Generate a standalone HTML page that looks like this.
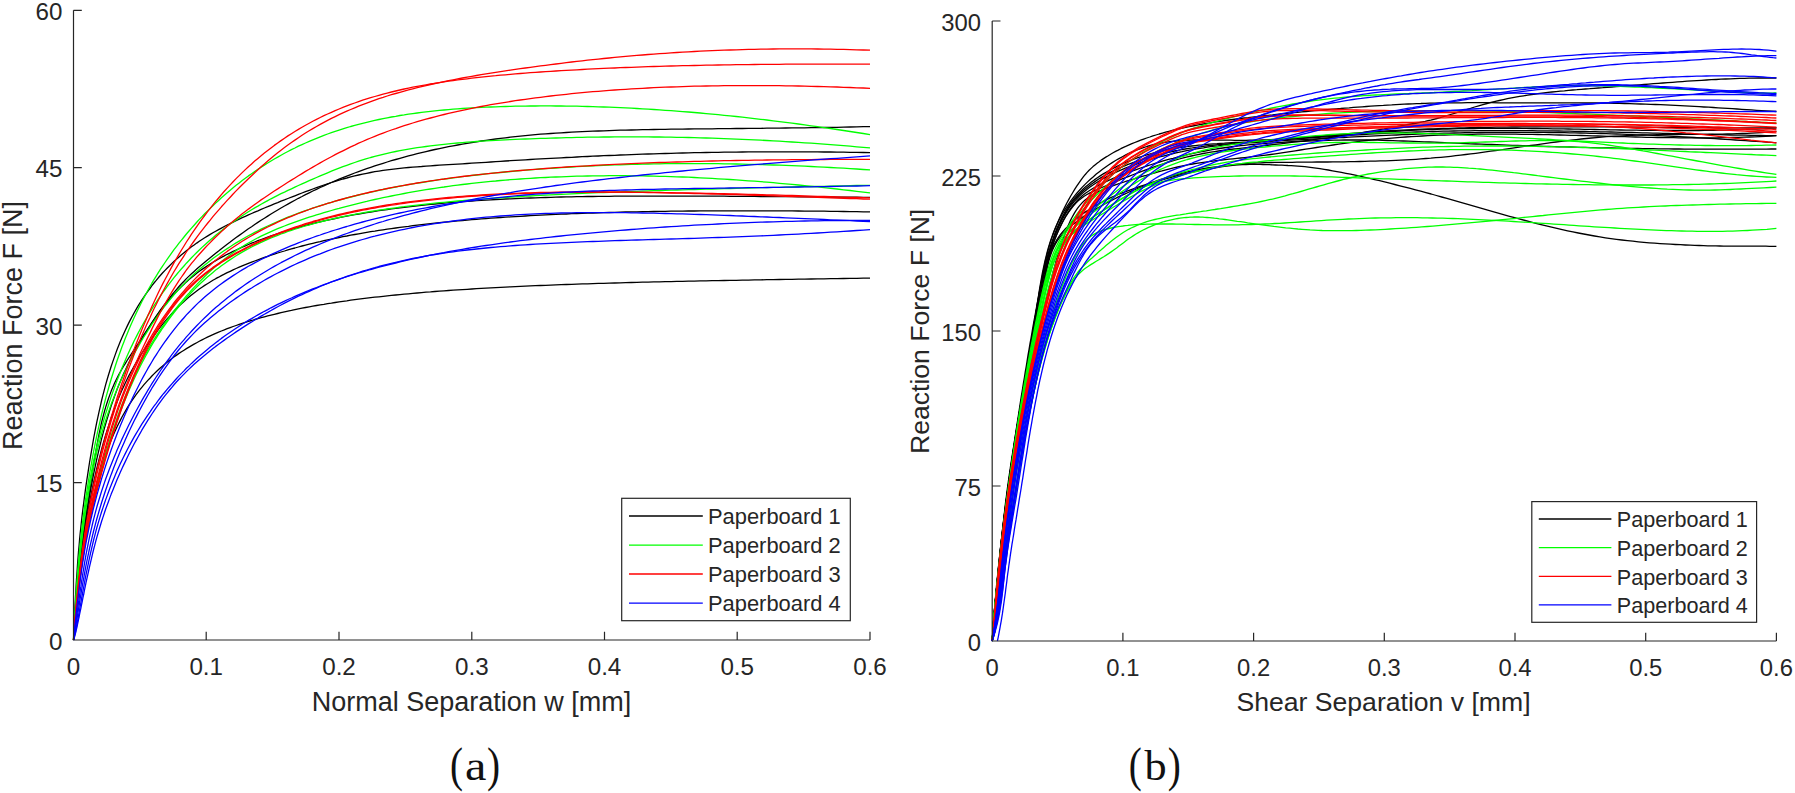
<!DOCTYPE html>
<html><head><meta charset="utf-8"><title>Figure</title>
<style>
html,body{margin:0;padding:0;background:#fff;}
svg{display:block}
text{font-family:"Liberation Sans",sans-serif;fill:#262626}
.tk{font-size:24.2px}
.lb{font-size:27px}
.lg{font-size:21.9px}
.cap{font-family:"Liberation Serif","DejaVu Serif",serif;font-size:43px;fill:#111}
.pn{font-size:49px}
.c{fill:none;stroke-width:1.3;stroke-linejoin:round}
.ax{stroke:#262626;stroke-width:1.2;fill:none}
</style></head><body>
<svg width="1795" height="793" viewBox="0 0 1795 793">
<rect width="1795" height="793" fill="#fff"/>

<clipPath id="cl"><rect x="72.5" y="8.3" width="798.1" height="632.7"/></clipPath>
<g clip-path="url(#cl)">
<path class="c" stroke="#000000" d="M73.5,640.0 L73.5,639.6 L73.6,638.6 L73.6,636.8 L73.7,634.4 L73.8,631.4 L74.0,627.7 L74.2,623.6 L74.4,618.9 L74.6,613.8 L74.9,608.4 L75.2,602.6 L75.5,596.6 L75.9,590.4 L76.2,584.1 L76.6,577.7 L77.1,571.2 L77.5,564.7 L78.0,558.2 L78.5,551.8 L79.1,545.5 L79.6,539.2 L80.2,533.0 L80.9,526.9 L81.5,520.8 L82.2,514.9 L82.9,509.0 L83.7,503.1 L84.4,497.3 L85.2,491.4 L86.0,485.6 L86.9,479.7 L87.8,473.8 L88.7,467.9 L89.6,462.0 L90.6,456.1 L91.6,450.3 L92.6,444.4 L93.6,438.6 L94.7,432.9 L95.8,427.2 L96.9,421.6 L98.1,416.1 L99.3,410.6 L100.5,405.3 L101.7,400.0 L103.0,394.8 L104.3,389.8 L105.6,384.9 L107.0,380.0 L108.4,375.3 L109.8,370.7 L111.2,366.2 L112.7,361.9 L114.2,357.6 L115.7,353.4 L117.2,349.3 L118.8,345.3 L120.4,341.3 L122.0,337.5 L123.7,333.7 L125.4,330.0 L127.1,326.4 L128.8,322.9 L130.6,319.4 L132.4,316.0 L134.2,312.7 L136.1,309.4 L138.0,306.2 L139.9,303.1 L141.8,300.1 L143.8,297.1 L145.8,294.1 L147.8,291.3 L149.9,288.5 L151.9,285.7 L154.0,283.0 L156.2,280.4 L158.3,277.8 L160.5,275.3 L162.7,272.8 L165.0,270.4 L167.3,268.0 L169.6,265.7 L171.9,263.4 L174.2,261.2 L176.6,259.0 L179.0,256.9 L181.5,254.8 L184.0,252.7 L186.4,250.7 L189.0,248.8 L191.5,246.8 L194.1,245.0 L196.7,243.1 L199.3,241.3 L202.0,239.5 L204.7,237.8 L207.4,236.1 L210.2,234.4 L212.9,232.8 L215.7,231.2 L218.6,229.6 L221.4,228.1 L224.3,226.5 L227.2,225.0 L230.2,223.5 L233.1,222.1 L236.1,220.6 L239.2,219.2 L242.2,217.7 L245.3,216.3 L248.4,214.9 L251.6,213.5 L254.7,212.1 L257.9,210.8 L261.1,209.4 L264.4,208.0 L267.7,206.7 L271.0,205.3 L274.3,203.9 L277.7,202.6 L281.0,201.2 L284.5,199.9 L287.9,198.5 L291.4,197.2 L294.9,195.8 L298.4,194.4 L302.0,193.0 L305.5,191.7 L309.2,190.3 L312.8,189.0 L316.5,187.6 L320.2,186.3 L323.9,185.0 L327.6,183.8 L331.4,182.5 L335.2,181.3 L339.1,180.2 L342.9,179.0 L346.8,178.0 L350.7,176.9 L354.7,175.9 L358.6,175.0 L362.6,174.1 L366.7,173.3 L370.7,172.5 L374.8,171.7 L378.9,171.1 L383.1,170.4 L387.2,169.9 L391.4,169.3 L395.7,168.8 L399.9,168.4 L404.2,167.9 L408.5,167.5 L412.8,167.2 L417.2,166.8 L421.6,166.5 L426.0,166.1 L430.5,165.8 L434.9,165.5 L439.4,165.2 L444.0,164.9 L448.5,164.6 L453.1,164.4 L457.7,164.1 L462.4,163.8 L467.1,163.5 L471.8,163.2 L476.5,162.9 L481.2,162.6 L486.0,162.3 L490.8,162.0 L495.7,161.7 L500.5,161.4 L505.4,161.0 L510.4,160.7 L515.3,160.4 L520.3,160.1 L525.3,159.8 L530.3,159.5 L535.4,159.2 L540.5,158.9 L545.6,158.7 L550.7,158.4 L555.9,158.1 L561.1,157.8 L566.3,157.5 L571.6,157.3 L576.9,157.0 L582.2,156.7 L587.5,156.5 L592.9,156.2 L598.3,156.0 L603.7,155.7 L609.2,155.5 L614.7,155.3 L620.2,155.0 L625.7,154.8 L631.3,154.6 L636.9,154.4 L642.5,154.2 L648.1,154.0 L653.8,153.8 L659.5,153.6 L665.2,153.5 L671.0,153.3 L676.8,153.2 L682.6,153.0 L688.4,152.9 L694.3,152.7 L700.2,152.6 L706.1,152.5 L712.1,152.4 L718.1,152.3 L724.1,152.2 L730.1,152.1 L736.2,152.1 L742.3,152.0 L748.4,151.9 L754.5,151.9 L760.7,151.9 L766.9,151.8 L773.2,151.8 L779.4,151.8 L785.7,151.8 L792.0,151.8 L798.4,151.8 L804.7,151.8 L811.1,151.9 L817.6,151.9 L824.0,152.0 L830.5,152.0 L837.0,152.1 L843.6,152.2 L850.1,152.3 L856.7,152.4 L863.3,152.5 L870.0,152.6"/>
<path class="c" stroke="#000000" d="M73.5,640.0 L73.5,639.7 L73.6,639.0 L73.6,637.7 L73.7,636.0 L73.8,633.8 L74.0,631.1 L74.2,628.1 L74.4,624.7 L74.6,621.0 L74.9,617.0 L75.2,612.7 L75.5,608.3 L75.9,603.6 L76.2,598.9 L76.6,594.0 L77.1,589.0 L77.5,584.0 L78.0,578.9 L78.5,573.8 L79.1,568.7 L79.6,563.5 L80.2,558.4 L80.9,553.2 L81.5,548.0 L82.2,542.8 L82.9,537.5 L83.7,532.1 L84.4,526.7 L85.2,521.2 L86.0,515.6 L86.9,509.9 L87.8,504.0 L88.7,498.0 L89.6,491.7 L90.6,485.3 L91.6,478.7 L92.6,472.0 L93.6,465.2 L94.7,458.4 L95.8,451.7 L96.9,445.3 L98.1,439.0 L99.3,433.0 L100.5,427.4 L101.7,422.0 L103.0,416.9 L104.3,412.0 L105.6,407.4 L107.0,403.0 L108.4,398.8 L109.8,394.9 L111.2,391.1 L112.7,387.5 L114.2,384.1 L115.7,380.8 L117.2,377.7 L118.8,374.6 L120.4,371.7 L122.0,368.8 L123.7,366.0 L125.4,363.3 L127.1,360.5 L128.8,357.8 L130.6,355.1 L132.4,352.3 L134.2,349.6 L136.1,346.7 L138.0,343.9 L139.9,340.9 L141.8,338.0 L143.8,334.9 L145.8,331.9 L147.8,328.8 L149.9,325.6 L151.9,322.5 L154.0,319.4 L156.2,316.2 L158.3,313.1 L160.5,310.0 L162.7,307.0 L165.0,303.9 L167.3,300.9 L169.6,297.9 L171.9,295.0 L174.2,292.1 L176.6,289.3 L179.0,286.5 L181.5,283.8 L184.0,281.2 L186.4,278.6 L189.0,276.1 L191.5,273.7 L194.1,271.4 L196.7,269.1 L199.3,266.8 L202.0,264.6 L204.7,262.3 L207.4,260.1 L210.2,257.8 L212.9,255.6 L215.7,253.3 L218.6,251.1 L221.4,248.8 L224.3,246.6 L227.2,244.3 L230.2,242.1 L233.1,239.8 L236.1,237.6 L239.2,235.4 L242.2,233.2 L245.3,231.0 L248.4,228.8 L251.6,226.7 L254.7,224.5 L257.9,222.4 L261.1,220.3 L264.4,218.2 L267.7,216.1 L271.0,214.0 L274.3,212.0 L277.7,210.0 L281.0,208.0 L284.5,206.0 L287.9,204.1 L291.4,202.1 L294.9,200.2 L298.4,198.3 L302.0,196.5 L305.5,194.6 L309.2,192.8 L312.8,191.0 L316.5,189.3 L320.2,187.5 L323.9,185.8 L327.6,184.1 L331.4,182.5 L335.2,180.8 L339.1,179.2 L342.9,177.6 L346.8,176.1 L350.7,174.6 L354.7,173.0 L358.6,171.6 L362.6,170.1 L366.7,168.7 L370.7,167.3 L374.8,165.9 L378.9,164.6 L383.1,163.3 L387.2,162.0 L391.4,160.7 L395.7,159.5 L399.9,158.3 L404.2,157.1 L408.5,155.9 L412.8,154.8 L417.2,153.7 L421.6,152.6 L426.0,151.6 L430.5,150.5 L434.9,149.5 L439.4,148.6 L444.0,147.6 L448.5,146.7 L453.1,145.8 L457.7,145.0 L462.4,144.1 L467.1,143.3 L471.8,142.5 L476.5,141.8 L481.2,141.0 L486.0,140.3 L490.8,139.6 L495.7,139.0 L500.5,138.4 L505.4,137.8 L510.4,137.2 L515.3,136.6 L520.3,136.1 L525.3,135.6 L530.3,135.1 L535.4,134.7 L540.5,134.2 L545.6,133.8 L550.7,133.5 L555.9,133.1 L561.1,132.8 L566.3,132.5 L571.6,132.2 L576.9,131.9 L582.2,131.6 L587.5,131.4 L592.9,131.2 L598.3,131.0 L603.7,130.8 L609.2,130.6 L614.7,130.4 L620.2,130.2 L625.7,130.1 L631.3,130.0 L636.9,129.8 L642.5,129.7 L648.1,129.6 L653.8,129.5 L659.5,129.4 L665.2,129.3 L671.0,129.2 L676.8,129.2 L682.6,129.1 L688.4,129.0 L694.3,128.9 L700.2,128.9 L706.1,128.8 L712.1,128.8 L718.1,128.7 L724.1,128.6 L730.1,128.6 L736.2,128.5 L742.3,128.5 L748.4,128.4 L754.5,128.3 L760.7,128.3 L766.9,128.2 L773.2,128.2 L779.4,128.1 L785.7,128.0 L792.0,127.9 L798.4,127.8 L804.7,127.8 L811.1,127.7 L817.6,127.6 L824.0,127.5 L830.5,127.4 L837.0,127.3 L843.6,127.1 L850.1,127.0 L856.7,126.9 L863.3,126.7 L870.0,126.6"/>
<path class="c" stroke="#000000" d="M73.5,640.0 L73.5,639.8 L73.6,639.1 L73.6,638.0 L73.7,636.4 L73.8,634.4 L74.0,632.0 L74.2,629.2 L74.4,626.1 L74.6,622.6 L74.9,618.9 L75.2,614.8 L75.5,610.5 L75.9,606.0 L76.2,601.3 L76.6,596.5 L77.1,591.5 L77.5,586.3 L78.0,581.1 L78.5,575.8 L79.1,570.5 L79.6,565.1 L80.2,559.7 L80.9,554.3 L81.5,548.8 L82.2,543.4 L82.9,538.0 L83.7,532.6 L84.4,527.2 L85.2,521.8 L86.0,516.4 L86.9,511.1 L87.8,505.7 L88.7,500.4 L89.6,495.1 L90.6,489.9 L91.6,484.6 L92.6,479.3 L93.6,474.1 L94.7,468.9 L95.8,463.7 L96.9,458.5 L98.1,453.4 L99.3,448.4 L100.5,443.4 L101.7,438.4 L103.0,433.6 L104.3,428.7 L105.6,424.0 L107.0,419.4 L108.4,414.8 L109.8,410.3 L111.2,405.9 L112.7,401.5 L114.2,397.3 L115.7,393.1 L117.2,389.1 L118.8,385.1 L120.4,381.2 L122.0,377.4 L123.7,373.6 L125.4,370.0 L127.1,366.4 L128.8,362.8 L130.6,359.3 L132.4,355.8 L134.2,352.4 L136.1,349.0 L138.0,345.7 L139.9,342.3 L141.8,339.0 L143.8,335.7 L145.8,332.5 L147.8,329.3 L149.9,326.1 L151.9,322.9 L154.0,319.8 L156.2,316.7 L158.3,313.7 L160.5,310.7 L162.7,307.8 L165.0,305.0 L167.3,302.1 L169.6,299.4 L171.9,296.7 L174.2,294.1 L176.6,291.5 L179.0,289.0 L181.5,286.5 L184.0,284.2 L186.4,281.9 L189.0,279.6 L191.5,277.5 L194.1,275.4 L196.7,273.3 L199.3,271.3 L202.0,269.4 L204.7,267.6 L207.4,265.8 L210.2,264.0 L212.9,262.3 L215.7,260.6 L218.6,259.0 L221.4,257.4 L224.3,255.9 L227.2,254.3 L230.2,252.9 L233.1,251.4 L236.1,250.0 L239.2,248.6 L242.2,247.2 L245.3,245.9 L248.4,244.5 L251.6,243.2 L254.7,242.0 L257.9,240.7 L261.1,239.5 L264.4,238.3 L267.7,237.1 L271.0,235.9 L274.3,234.8 L277.7,233.7 L281.0,232.6 L284.5,231.5 L287.9,230.4 L291.4,229.4 L294.9,228.4 L298.4,227.4 L302.0,226.4 L305.5,225.4 L309.2,224.5 L312.8,223.6 L316.5,222.7 L320.2,221.8 L323.9,220.9 L327.6,220.1 L331.4,219.3 L335.2,218.5 L339.1,217.7 L342.9,216.9 L346.8,216.1 L350.7,215.4 L354.7,214.7 L358.6,214.0 L362.6,213.3 L366.7,212.6 L370.7,212.0 L374.8,211.3 L378.9,210.7 L383.1,210.1 L387.2,209.5 L391.4,208.9 L395.7,208.4 L399.9,207.8 L404.2,207.3 L408.5,206.8 L412.8,206.3 L417.2,205.8 L421.6,205.3 L426.0,204.8 L430.5,204.4 L434.9,204.0 L439.4,203.5 L444.0,203.1 L448.5,202.7 L453.1,202.4 L457.7,202.0 L462.4,201.6 L467.1,201.3 L471.8,201.0 L476.5,200.7 L481.2,200.4 L486.0,200.1 L490.8,199.8 L495.7,199.5 L500.5,199.3 L505.4,199.0 L510.4,198.8 L515.3,198.6 L520.3,198.3 L525.3,198.1 L530.3,198.0 L535.4,197.8 L540.5,197.6 L545.6,197.5 L550.7,197.3 L555.9,197.2 L561.1,197.0 L566.3,196.9 L571.6,196.8 L576.9,196.7 L582.2,196.6 L587.5,196.5 L592.9,196.5 L598.3,196.4 L603.7,196.3 L609.2,196.3 L614.7,196.2 L620.2,196.2 L625.7,196.2 L631.3,196.1 L636.9,196.1 L642.5,196.1 L648.1,196.1 L653.8,196.1 L659.5,196.1 L665.2,196.1 L671.0,196.1 L676.8,196.1 L682.6,196.1 L688.4,196.1 L694.3,196.1 L700.2,196.1 L706.1,196.2 L712.1,196.2 L718.1,196.2 L724.1,196.2 L730.1,196.3 L736.2,196.3 L742.3,196.4 L748.4,196.4 L754.5,196.4 L760.7,196.5 L766.9,196.5 L773.2,196.6 L779.4,196.6 L785.7,196.7 L792.0,196.7 L798.4,196.8 L804.7,196.8 L811.1,196.9 L817.6,196.9 L824.0,197.0 L830.5,197.0 L837.0,197.1 L843.6,197.1 L850.1,197.2 L856.7,197.2 L863.3,197.3 L870.0,197.4"/>
<path class="c" stroke="#000000" d="M73.5,640.0 L73.5,639.8 L73.6,639.1 L73.6,638.0 L73.7,636.4 L73.8,634.5 L74.0,632.1 L74.2,629.4 L74.4,626.3 L74.6,622.9 L74.9,619.3 L75.2,615.3 L75.5,611.1 L75.9,606.8 L76.2,602.2 L76.6,597.5 L77.1,592.7 L77.5,587.7 L78.0,582.7 L78.5,577.7 L79.1,572.6 L79.6,567.5 L80.2,562.3 L80.9,557.2 L81.5,552.1 L82.2,547.0 L82.9,541.9 L83.7,536.8 L84.4,531.7 L85.2,526.7 L86.0,521.7 L86.9,516.8 L87.8,511.8 L88.7,506.9 L89.6,502.0 L90.6,497.1 L91.6,492.2 L92.6,487.3 L93.6,482.4 L94.7,477.6 L95.8,472.7 L96.9,467.9 L98.1,463.1 L99.3,458.3 L100.5,453.6 L101.7,448.9 L103.0,444.3 L104.3,439.7 L105.6,435.2 L107.0,430.8 L108.4,426.4 L109.8,422.1 L111.2,417.8 L112.7,413.6 L114.2,409.5 L115.7,405.5 L117.2,401.5 L118.8,397.6 L120.4,393.8 L122.0,390.1 L123.7,386.4 L125.4,382.8 L127.1,379.3 L128.8,375.9 L130.6,372.5 L132.4,369.2 L134.2,366.0 L136.1,362.7 L138.0,359.6 L139.9,356.4 L141.8,353.4 L143.8,350.3 L145.8,347.3 L147.8,344.3 L149.9,341.3 L151.9,338.4 L154.0,335.5 L156.2,332.6 L158.3,329.7 L160.5,326.9 L162.7,324.1 L165.0,321.4 L167.3,318.7 L169.6,316.1 L171.9,313.5 L174.2,311.0 L176.6,308.5 L179.0,306.1 L181.5,303.7 L184.0,301.4 L186.4,299.2 L189.0,297.1 L191.5,295.0 L194.1,292.9 L196.7,291.0 L199.3,289.1 L202.0,287.2 L204.7,285.4 L207.4,283.7 L210.2,282.0 L212.9,280.3 L215.7,278.7 L218.6,277.2 L221.4,275.6 L224.3,274.2 L227.2,272.7 L230.2,271.3 L233.1,269.9 L236.1,268.5 L239.2,267.2 L242.2,265.9 L245.3,264.6 L248.4,263.4 L251.6,262.2 L254.7,261.0 L257.9,259.8 L261.1,258.6 L264.4,257.4 L267.7,256.3 L271.0,255.2 L274.3,254.1 L277.7,253.0 L281.0,252.0 L284.5,251.0 L287.9,249.9 L291.4,248.9 L294.9,248.0 L298.4,247.0 L302.0,246.0 L305.5,245.1 L309.2,244.2 L312.8,243.3 L316.5,242.4 L320.2,241.6 L323.9,240.7 L327.6,239.9 L331.4,239.1 L335.2,238.3 L339.1,237.5 L342.9,236.7 L346.8,236.0 L350.7,235.2 L354.7,234.5 L358.6,233.8 L362.6,233.1 L366.7,232.4 L370.7,231.7 L374.8,231.1 L378.9,230.4 L383.1,229.8 L387.2,229.2 L391.4,228.6 L395.7,228.0 L399.9,227.4 L404.2,226.8 L408.5,226.3 L412.8,225.7 L417.2,225.2 L421.6,224.7 L426.0,224.2 L430.5,223.7 L434.9,223.2 L439.4,222.7 L444.0,222.2 L448.5,221.8 L453.1,221.4 L457.7,220.9 L462.4,220.5 L467.1,220.1 L471.8,219.7 L476.5,219.3 L481.2,218.9 L486.0,218.6 L490.8,218.2 L495.7,217.9 L500.5,217.5 L505.4,217.2 L510.4,216.9 L515.3,216.6 L520.3,216.3 L525.3,216.0 L530.3,215.7 L535.4,215.4 L540.5,215.1 L545.6,214.9 L550.7,214.6 L555.9,214.4 L561.1,214.2 L566.3,214.0 L571.6,213.7 L576.9,213.5 L582.2,213.3 L587.5,213.1 L592.9,213.0 L598.3,212.8 L603.7,212.6 L609.2,212.5 L614.7,212.3 L620.2,212.2 L625.7,212.0 L631.3,211.9 L636.9,211.8 L642.5,211.7 L648.1,211.6 L653.8,211.5 L659.5,211.4 L665.2,211.3 L671.0,211.2 L676.8,211.1 L682.6,211.1 L688.4,211.0 L694.3,211.0 L700.2,210.9 L706.1,210.9 L712.1,210.8 L718.1,210.8 L724.1,210.8 L730.1,210.8 L736.2,210.8 L742.3,210.8 L748.4,210.8 L754.5,210.8 L760.7,210.8 L766.9,210.8 L773.2,210.8 L779.4,210.9 L785.7,210.9 L792.0,210.9 L798.4,211.0 L804.7,211.1 L811.1,211.1 L817.6,211.2 L824.0,211.2 L830.5,211.3 L837.0,211.4 L843.6,211.5 L850.1,211.6 L856.7,211.7 L863.3,211.8 L870.0,211.9"/>
<path class="c" stroke="#000000" d="M73.5,640.0 L73.5,639.8 L73.6,639.3 L73.6,638.5 L73.7,637.3 L73.8,635.8 L74.0,634.0 L74.2,631.8 L74.4,629.4 L74.6,626.7 L74.9,623.8 L75.2,620.6 L75.5,617.2 L75.9,613.5 L76.2,609.7 L76.6,605.6 L77.1,601.5 L77.5,597.1 L78.0,592.7 L78.5,588.1 L79.1,583.4 L79.6,578.7 L80.2,573.9 L80.9,569.0 L81.5,564.1 L82.2,559.2 L82.9,554.2 L83.7,549.3 L84.4,544.3 L85.2,539.4 L86.0,534.4 L86.9,529.5 L87.8,524.7 L88.7,519.8 L89.6,515.0 L90.6,510.3 L91.6,505.6 L92.6,501.0 L93.6,496.5 L94.7,492.0 L95.8,487.5 L96.9,483.2 L98.1,478.9 L99.3,474.7 L100.5,470.5 L101.7,466.4 L103.0,462.4 L104.3,458.5 L105.6,454.7 L107.0,450.9 L108.4,447.2 L109.8,443.6 L111.2,440.0 L112.7,436.5 L114.2,433.1 L115.7,429.7 L117.2,426.5 L118.8,423.3 L120.4,420.1 L122.0,417.0 L123.7,414.0 L125.4,411.1 L127.1,408.2 L128.8,405.4 L130.6,402.6 L132.4,399.9 L134.2,397.3 L136.1,394.7 L138.0,392.2 L139.9,389.7 L141.8,387.3 L143.8,384.9 L145.8,382.6 L147.8,380.4 L149.9,378.2 L151.9,376.0 L154.0,373.9 L156.2,371.8 L158.3,369.8 L160.5,367.8 L162.7,365.9 L165.0,364.0 L167.3,362.1 L169.6,360.3 L171.9,358.5 L174.2,356.8 L176.6,355.1 L179.0,353.4 L181.5,351.8 L184.0,350.2 L186.4,348.6 L189.0,347.1 L191.5,345.6 L194.1,344.1 L196.7,342.7 L199.3,341.3 L202.0,339.9 L204.7,338.5 L207.4,337.2 L210.2,335.9 L212.9,334.7 L215.7,333.4 L218.6,332.2 L221.4,331.0 L224.3,329.9 L227.2,328.7 L230.2,327.6 L233.1,326.5 L236.1,325.5 L239.2,324.4 L242.2,323.4 L245.3,322.4 L248.4,321.4 L251.6,320.5 L254.7,319.5 L257.9,318.6 L261.1,317.7 L264.4,316.8 L267.7,315.9 L271.0,315.1 L274.3,314.3 L277.7,313.5 L281.0,312.7 L284.5,311.9 L287.9,311.1 L291.4,310.4 L294.9,309.6 L298.4,308.9 L302.0,308.2 L305.5,307.5 L309.2,306.8 L312.8,306.2 L316.5,305.5 L320.2,304.9 L323.9,304.3 L327.6,303.6 L331.4,303.1 L335.2,302.5 L339.1,301.9 L342.9,301.3 L346.8,300.8 L350.7,300.2 L354.7,299.7 L358.6,299.2 L362.6,298.7 L366.7,298.2 L370.7,297.7 L374.8,297.2 L378.9,296.8 L383.1,296.3 L387.2,295.9 L391.4,295.4 L395.7,295.0 L399.9,294.6 L404.2,294.2 L408.5,293.8 L412.8,293.4 L417.2,293.0 L421.6,292.6 L426.0,292.2 L430.5,291.9 L434.9,291.5 L439.4,291.2 L444.0,290.8 L448.5,290.5 L453.1,290.2 L457.7,289.9 L462.4,289.6 L467.1,289.3 L471.8,289.0 L476.5,288.7 L481.2,288.4 L486.0,288.1 L490.8,287.9 L495.7,287.6 L500.5,287.3 L505.4,287.1 L510.4,286.8 L515.3,286.6 L520.3,286.4 L525.3,286.1 L530.3,285.9 L535.4,285.7 L540.5,285.5 L545.6,285.3 L550.7,285.1 L555.9,284.9 L561.1,284.7 L566.3,284.5 L571.6,284.3 L576.9,284.1 L582.2,283.9 L587.5,283.8 L592.9,283.6 L598.3,283.4 L603.7,283.3 L609.2,283.1 L614.7,283.0 L620.2,282.8 L625.7,282.7 L631.3,282.5 L636.9,282.4 L642.5,282.2 L648.1,282.1 L653.8,281.9 L659.5,281.8 L665.2,281.7 L671.0,281.6 L676.8,281.4 L682.6,281.3 L688.4,281.2 L694.3,281.1 L700.2,280.9 L706.1,280.8 L712.1,280.7 L718.1,280.6 L724.1,280.5 L730.1,280.4 L736.2,280.3 L742.3,280.2 L748.4,280.1 L754.5,279.9 L760.7,279.8 L766.9,279.7 L773.2,279.6 L779.4,279.5 L785.7,279.4 L792.0,279.3 L798.4,279.2 L804.7,279.1 L811.1,279.0 L817.6,278.9 L824.0,278.8 L830.5,278.7 L837.0,278.6 L843.6,278.5 L850.1,278.4 L856.7,278.3 L863.3,278.2 L870.0,278.1"/>
<path class="c" stroke="#00ff00" d="M73.5,640.0 L73.5,639.7 L73.6,638.8 L73.6,637.3 L73.7,635.3 L73.8,632.7 L74.0,629.7 L74.2,626.1 L74.4,622.1 L74.6,617.7 L74.9,613.0 L75.2,608.0 L75.5,602.7 L75.9,597.1 L76.2,591.4 L76.6,585.6 L77.1,579.6 L77.5,573.6 L78.0,567.5 L78.5,561.4 L79.1,555.3 L79.6,549.3 L80.2,543.2 L80.9,537.2 L81.5,531.2 L82.2,525.3 L82.9,519.5 L83.7,513.6 L84.4,507.9 L85.2,502.1 L86.0,496.4 L86.9,490.8 L87.8,485.1 L88.7,479.4 L89.6,473.8 L90.6,468.2 L91.6,462.6 L92.6,457.0 L93.6,451.5 L94.7,446.0 L95.8,440.5 L96.9,435.1 L98.1,429.7 L99.3,424.4 L100.5,419.1 L101.7,413.9 L103.0,408.8 L104.3,403.6 L105.6,398.6 L107.0,393.6 L108.4,388.7 L109.8,383.8 L111.2,379.0 L112.7,374.2 L114.2,369.5 L115.7,364.8 L117.2,360.3 L118.8,355.7 L120.4,351.2 L122.0,346.8 L123.7,342.5 L125.4,338.1 L127.1,333.9 L128.8,329.7 L130.6,325.5 L132.4,321.4 L134.2,317.4 L136.1,313.4 L138.0,309.5 L139.9,305.6 L141.8,301.7 L143.8,297.9 L145.8,294.2 L147.8,290.5 L149.9,286.8 L151.9,283.2 L154.0,279.7 L156.2,276.1 L158.3,272.7 L160.5,269.2 L162.7,265.8 L165.0,262.5 L167.3,259.2 L169.6,255.9 L171.9,252.6 L174.2,249.4 L176.6,246.3 L179.0,243.2 L181.5,240.1 L184.0,237.0 L186.4,234.0 L189.0,231.0 L191.5,228.1 L194.1,225.2 L196.7,222.3 L199.3,219.4 L202.0,216.6 L204.7,213.8 L207.4,211.1 L210.2,208.4 L212.9,205.7 L215.7,203.0 L218.6,200.4 L221.4,197.8 L224.3,195.2 L227.2,192.7 L230.2,190.2 L233.1,187.7 L236.1,185.3 L239.2,182.9 L242.2,180.5 L245.3,178.2 L248.4,175.9 L251.6,173.7 L254.7,171.5 L257.9,169.3 L261.1,167.2 L264.4,165.1 L267.7,163.0 L271.0,161.0 L274.3,159.0 L277.7,157.1 L281.0,155.2 L284.5,153.3 L287.9,151.5 L291.4,149.7 L294.9,148.0 L298.4,146.2 L302.0,144.6 L305.5,143.0 L309.2,141.4 L312.8,139.8 L316.5,138.3 L320.2,136.8 L323.9,135.4 L327.6,134.0 L331.4,132.7 L335.2,131.4 L339.1,130.1 L342.9,128.9 L346.8,127.7 L350.7,126.5 L354.7,125.4 L358.6,124.3 L362.6,123.3 L366.7,122.3 L370.7,121.3 L374.8,120.4 L378.9,119.5 L383.1,118.6 L387.2,117.8 L391.4,117.0 L395.7,116.3 L399.9,115.5 L404.2,114.9 L408.5,114.2 L412.8,113.6 L417.2,113.0 L421.6,112.4 L426.0,111.9 L430.5,111.4 L434.9,110.9 L439.4,110.4 L444.0,110.0 L448.5,109.6 L453.1,109.2 L457.7,108.8 L462.4,108.5 L467.1,108.2 L471.8,107.9 L476.5,107.6 L481.2,107.4 L486.0,107.2 L490.8,107.0 L495.7,106.8 L500.5,106.6 L505.4,106.5 L510.4,106.3 L515.3,106.2 L520.3,106.1 L525.3,106.1 L530.3,106.0 L535.4,106.0 L540.5,105.9 L545.6,105.9 L550.7,105.9 L555.9,106.0 L561.1,106.0 L566.3,106.1 L571.6,106.2 L576.9,106.2 L582.2,106.4 L587.5,106.5 L592.9,106.6 L598.3,106.8 L603.7,107.0 L609.2,107.2 L614.7,107.4 L620.2,107.6 L625.7,107.9 L631.3,108.2 L636.9,108.5 L642.5,108.8 L648.1,109.1 L653.8,109.5 L659.5,109.9 L665.2,110.3 L671.0,110.7 L676.8,111.1 L682.6,111.6 L688.4,112.0 L694.3,112.5 L700.2,113.0 L706.1,113.6 L712.1,114.1 L718.1,114.7 L724.1,115.3 L730.1,115.9 L736.2,116.5 L742.3,117.2 L748.4,117.9 L754.5,118.6 L760.7,119.3 L766.9,120.0 L773.2,120.8 L779.4,121.6 L785.7,122.4 L792.0,123.2 L798.4,124.0 L804.7,124.9 L811.1,125.8 L817.6,126.7 L824.0,127.6 L830.5,128.5 L837.0,129.5 L843.6,130.5 L850.1,131.5 L856.7,132.5 L863.3,133.5 L870.0,134.6"/>
<path class="c" stroke="#00ff00" d="M73.5,640.0 L73.5,639.7 L73.6,639.0 L73.6,637.7 L73.7,636.0 L73.8,633.8 L74.0,631.1 L74.2,628.0 L74.4,624.5 L74.6,620.7 L74.9,616.5 L75.2,612.0 L75.5,607.2 L75.9,602.1 L76.2,596.8 L76.6,591.4 L77.1,585.8 L77.5,580.1 L78.0,574.2 L78.5,568.3 L79.1,562.4 L79.6,556.4 L80.2,550.3 L80.9,544.3 L81.5,538.3 L82.2,532.4 L82.9,526.5 L83.7,520.6 L84.4,514.8 L85.2,509.0 L86.0,503.3 L86.9,497.7 L87.8,492.2 L88.7,486.8 L89.6,481.4 L90.6,476.1 L91.6,470.9 L92.6,465.8 L93.6,460.7 L94.7,455.7 L95.8,450.8 L96.9,446.0 L98.1,441.2 L99.3,436.5 L100.5,431.9 L101.7,427.3 L103.0,422.8 L104.3,418.3 L105.6,413.9 L107.0,409.5 L108.4,405.2 L109.8,400.9 L111.2,396.6 L112.7,392.4 L114.2,388.3 L115.7,384.1 L117.2,380.0 L118.8,375.9 L120.4,371.9 L122.0,367.9 L123.7,363.9 L125.4,359.9 L127.1,356.0 L128.8,352.2 L130.6,348.3 L132.4,344.6 L134.2,340.8 L136.1,337.1 L138.0,333.4 L139.9,329.8 L141.8,326.2 L143.8,322.7 L145.8,319.2 L147.8,315.7 L149.9,312.3 L151.9,308.9 L154.0,305.6 L156.2,302.3 L158.3,299.0 L160.5,295.8 L162.7,292.7 L165.0,289.5 L167.3,286.4 L169.6,283.4 L171.9,280.4 L174.2,277.4 L176.6,274.5 L179.0,271.6 L181.5,268.8 L184.0,266.0 L186.4,263.2 L189.0,260.5 L191.5,257.8 L194.1,255.1 L196.7,252.5 L199.3,250.0 L202.0,247.4 L204.7,244.9 L207.4,242.5 L210.2,240.1 L212.9,237.7 L215.7,235.3 L218.6,233.0 L221.4,230.7 L224.3,228.5 L227.2,226.3 L230.2,224.1 L233.1,222.0 L236.1,219.9 L239.2,217.8 L242.2,215.8 L245.3,213.8 L248.4,211.8 L251.6,209.8 L254.7,207.9 L257.9,206.1 L261.1,204.2 L264.4,202.4 L267.7,200.6 L271.0,198.8 L274.3,197.1 L277.7,195.4 L281.0,193.7 L284.5,192.1 L287.9,190.4 L291.4,188.8 L294.9,187.1 L298.4,185.5 L302.0,183.9 L305.5,182.3 L309.2,180.7 L312.8,179.1 L316.5,177.5 L320.2,175.9 L323.9,174.3 L327.6,172.8 L331.4,171.2 L335.2,169.7 L339.1,168.2 L342.9,166.7 L346.8,165.3 L350.7,163.9 L354.7,162.5 L358.6,161.2 L362.6,159.9 L366.7,158.7 L370.7,157.5 L374.8,156.4 L378.9,155.3 L383.1,154.3 L387.2,153.3 L391.4,152.4 L395.7,151.5 L399.9,150.7 L404.2,149.9 L408.5,149.1 L412.8,148.4 L417.2,147.7 L421.6,147.1 L426.0,146.5 L430.5,145.9 L434.9,145.3 L439.4,144.8 L444.0,144.3 L448.5,143.8 L453.1,143.4 L457.7,143.0 L462.4,142.6 L467.1,142.2 L471.8,141.9 L476.5,141.5 L481.2,141.2 L486.0,140.9 L490.8,140.6 L495.7,140.3 L500.5,140.1 L505.4,139.8 L510.4,139.6 L515.3,139.4 L520.3,139.2 L525.3,139.0 L530.3,138.8 L535.4,138.6 L540.5,138.4 L545.6,138.3 L550.7,138.1 L555.9,138.0 L561.1,137.8 L566.3,137.7 L571.6,137.6 L576.9,137.4 L582.2,137.3 L587.5,137.2 L592.9,137.2 L598.3,137.1 L603.7,137.0 L609.2,137.0 L614.7,136.9 L620.2,136.9 L625.7,136.9 L631.3,136.9 L636.9,136.9 L642.5,136.9 L648.1,136.9 L653.8,137.0 L659.5,137.0 L665.2,137.1 L671.0,137.2 L676.8,137.3 L682.6,137.4 L688.4,137.5 L694.3,137.6 L700.2,137.8 L706.1,138.0 L712.1,138.2 L718.1,138.4 L724.1,138.6 L730.1,138.8 L736.2,139.1 L742.3,139.3 L748.4,139.6 L754.5,139.9 L760.7,140.2 L766.9,140.5 L773.2,140.9 L779.4,141.2 L785.7,141.6 L792.0,142.0 L798.4,142.4 L804.7,142.8 L811.1,143.2 L817.6,143.7 L824.0,144.2 L830.5,144.6 L837.0,145.2 L843.6,145.7 L850.1,146.2 L856.7,146.8 L863.3,147.3 L870.0,147.9"/>
<path class="c" stroke="#00ff00" d="M73.5,640.0 L73.5,639.8 L73.6,639.1 L73.6,637.9 L73.7,636.3 L73.8,634.2 L74.0,631.8 L74.2,628.9 L74.4,625.6 L74.6,622.0 L74.9,618.1 L75.2,613.8 L75.5,609.3 L75.9,604.5 L76.2,599.5 L76.6,594.4 L77.1,589.0 L77.5,583.5 L78.0,578.0 L78.5,572.3 L79.1,566.5 L79.6,560.7 L80.2,554.9 L80.9,549.0 L81.5,543.2 L82.2,537.3 L82.9,531.5 L83.7,525.7 L84.4,520.0 L85.2,514.3 L86.0,508.7 L86.9,503.1 L87.8,497.6 L88.7,492.2 L89.6,486.9 L90.6,481.6 L91.6,476.4 L92.6,471.3 L93.6,466.3 L94.7,461.4 L95.8,456.5 L96.9,451.7 L98.1,447.0 L99.3,442.4 L100.5,437.9 L101.7,433.4 L103.0,429.0 L104.3,424.7 L105.6,420.5 L107.0,416.3 L108.4,412.2 L109.8,408.1 L111.2,404.1 L112.7,400.2 L114.2,396.4 L115.7,392.5 L117.2,388.8 L118.8,385.1 L120.4,381.4 L122.0,377.8 L123.7,374.3 L125.4,370.7 L127.1,367.2 L128.8,363.8 L130.6,360.3 L132.4,356.9 L134.2,353.6 L136.1,350.2 L138.0,346.9 L139.9,343.6 L141.8,340.3 L143.8,337.0 L145.8,333.8 L147.8,330.6 L149.9,327.4 L151.9,324.2 L154.0,321.1 L156.2,318.0 L158.3,314.9 L160.5,311.9 L162.7,308.9 L165.0,305.9 L167.3,303.0 L169.6,300.1 L171.9,297.3 L174.2,294.5 L176.6,291.8 L179.0,289.1 L181.5,286.5 L184.0,283.9 L186.4,281.4 L189.0,278.9 L191.5,276.5 L194.1,274.1 L196.7,271.8 L199.3,269.5 L202.0,267.2 L204.7,265.0 L207.4,262.9 L210.2,260.7 L212.9,258.6 L215.7,256.5 L218.6,254.5 L221.4,252.5 L224.3,250.5 L227.2,248.6 L230.2,246.7 L233.1,244.8 L236.1,242.9 L239.2,241.1 L242.2,239.3 L245.3,237.5 L248.4,235.8 L251.6,234.1 L254.7,232.4 L257.9,230.8 L261.1,229.2 L264.4,227.6 L267.7,226.0 L271.0,224.5 L274.3,223.0 L277.7,221.5 L281.0,220.1 L284.5,218.6 L287.9,217.2 L291.4,215.9 L294.9,214.5 L298.4,213.2 L302.0,211.9 L305.5,210.6 L309.2,209.4 L312.8,208.1 L316.5,206.9 L320.2,205.7 L323.9,204.6 L327.6,203.4 L331.4,202.3 L335.2,201.2 L339.1,200.1 L342.9,199.1 L346.8,198.0 L350.7,197.0 L354.7,196.0 L358.6,195.0 L362.6,194.1 L366.7,193.1 L370.7,192.2 L374.8,191.3 L378.9,190.4 L383.1,189.5 L387.2,188.7 L391.4,187.9 L395.7,187.0 L399.9,186.2 L404.2,185.4 L408.5,184.7 L412.8,183.9 L417.2,183.2 L421.6,182.5 L426.0,181.8 L430.5,181.1 L434.9,180.4 L439.4,179.7 L444.0,179.1 L448.5,178.5 L453.1,177.9 L457.7,177.3 L462.4,176.7 L467.1,176.1 L471.8,175.5 L476.5,175.0 L481.2,174.5 L486.0,173.9 L490.8,173.4 L495.7,172.9 L500.5,172.5 L505.4,172.0 L510.4,171.5 L515.3,171.1 L520.3,170.7 L525.3,170.2 L530.3,169.8 L535.4,169.4 L540.5,169.0 L545.6,168.7 L550.7,168.3 L555.9,168.0 L561.1,167.6 L566.3,167.3 L571.6,167.0 L576.9,166.7 L582.2,166.4 L587.5,166.1 L592.9,165.9 L598.3,165.6 L603.7,165.4 L609.2,165.2 L614.7,164.9 L620.2,164.8 L625.7,164.6 L631.3,164.4 L636.9,164.3 L642.5,164.1 L648.1,164.0 L653.8,163.9 L659.5,163.8 L665.2,163.7 L671.0,163.7 L676.8,163.6 L682.6,163.6 L688.4,163.6 L694.3,163.6 L700.2,163.6 L706.1,163.6 L712.1,163.7 L718.1,163.7 L724.1,163.8 L730.1,163.9 L736.2,164.0 L742.3,164.1 L748.4,164.3 L754.5,164.4 L760.7,164.6 L766.9,164.8 L773.2,165.0 L779.4,165.2 L785.7,165.4 L792.0,165.7 L798.4,165.9 L804.7,166.2 L811.1,166.5 L817.6,166.8 L824.0,167.2 L830.5,167.5 L837.0,167.9 L843.6,168.2 L850.1,168.6 L856.7,169.0 L863.3,169.5 L870.0,169.9"/>
<path class="c" stroke="#00ff00" d="M73.5,640.0 L73.5,639.8 L73.6,639.3 L73.6,638.4 L73.7,637.2 L73.8,635.7 L74.0,633.8 L74.2,631.7 L74.4,629.2 L74.6,626.5 L74.9,623.5 L75.2,620.3 L75.5,616.9 L75.9,613.3 L76.2,609.6 L76.6,605.6 L77.1,601.6 L77.5,597.4 L78.0,593.1 L78.5,588.7 L79.1,584.3 L79.6,579.7 L80.2,575.2 L80.9,570.6 L81.5,565.9 L82.2,561.2 L82.9,556.6 L83.7,551.9 L84.4,547.2 L85.2,542.4 L86.0,537.7 L86.9,533.0 L87.8,528.3 L88.7,523.6 L89.6,518.9 L90.6,514.3 L91.6,509.6 L92.6,504.9 L93.6,500.2 L94.7,495.6 L95.8,490.9 L96.9,486.3 L98.1,481.6 L99.3,477.0 L100.5,472.4 L101.7,467.7 L103.0,463.1 L104.3,458.5 L105.6,453.9 L107.0,449.3 L108.4,444.8 L109.8,440.2 L111.2,435.7 L112.7,431.1 L114.2,426.6 L115.7,422.1 L117.2,417.7 L118.8,413.2 L120.4,408.9 L122.0,404.5 L123.7,400.2 L125.4,396.0 L127.1,391.8 L128.8,387.7 L130.6,383.7 L132.4,379.7 L134.2,375.8 L136.1,372.0 L138.0,368.2 L139.9,364.4 L141.8,360.7 L143.8,357.1 L145.8,353.5 L147.8,349.9 L149.9,346.4 L151.9,343.0 L154.0,339.6 L156.2,336.2 L158.3,332.9 L160.5,329.6 L162.7,326.4 L165.0,323.2 L167.3,320.0 L169.6,316.9 L171.9,313.8 L174.2,310.7 L176.6,307.7 L179.0,304.7 L181.5,301.8 L184.0,298.8 L186.4,295.9 L189.0,293.1 L191.5,290.2 L194.1,287.4 L196.7,284.6 L199.3,281.9 L202.0,279.2 L204.7,276.5 L207.4,273.9 L210.2,271.3 L212.9,268.8 L215.7,266.3 L218.6,263.9 L221.4,261.5 L224.3,259.2 L227.2,257.0 L230.2,254.8 L233.1,252.7 L236.1,250.6 L239.2,248.6 L242.2,246.7 L245.3,244.8 L248.4,243.0 L251.6,241.2 L254.7,239.5 L257.9,237.8 L261.1,236.2 L264.4,234.6 L267.7,233.1 L271.0,231.6 L274.3,230.1 L277.7,228.7 L281.0,227.3 L284.5,226.0 L287.9,224.7 L291.4,223.4 L294.9,222.1 L298.4,220.8 L302.0,219.6 L305.5,218.4 L309.2,217.2 L312.8,216.1 L316.5,214.9 L320.2,213.8 L323.9,212.7 L327.6,211.6 L331.4,210.5 L335.2,209.4 L339.1,208.4 L342.9,207.3 L346.8,206.3 L350.7,205.3 L354.7,204.3 L358.6,203.3 L362.6,202.3 L366.7,201.4 L370.7,200.4 L374.8,199.5 L378.9,198.6 L383.1,197.7 L387.2,196.8 L391.4,196.0 L395.7,195.1 L399.9,194.3 L404.2,193.5 L408.5,192.7 L412.8,191.9 L417.2,191.2 L421.6,190.4 L426.0,189.7 L430.5,189.0 L434.9,188.3 L439.4,187.6 L444.0,187.0 L448.5,186.3 L453.1,185.7 L457.7,185.1 L462.4,184.5 L467.1,184.0 L471.8,183.4 L476.5,182.9 L481.2,182.4 L486.0,181.9 L490.8,181.4 L495.7,181.0 L500.5,180.5 L505.4,180.1 L510.4,179.7 L515.3,179.4 L520.3,179.0 L525.3,178.7 L530.3,178.3 L535.4,178.0 L540.5,177.7 L545.6,177.5 L550.7,177.2 L555.9,177.0 L561.1,176.8 L566.3,176.6 L571.6,176.4 L576.9,176.2 L582.2,176.1 L587.5,176.0 L592.9,175.9 L598.3,175.8 L603.7,175.8 L609.2,175.7 L614.7,175.7 L620.2,175.7 L625.7,175.7 L631.3,175.8 L636.9,175.8 L642.5,175.9 L648.1,176.0 L653.8,176.1 L659.5,176.3 L665.2,176.4 L671.0,176.6 L676.8,176.8 L682.6,177.0 L688.4,177.2 L694.3,177.5 L700.2,177.8 L706.1,178.1 L712.1,178.4 L718.1,178.8 L724.1,179.1 L730.1,179.5 L736.2,179.9 L742.3,180.3 L748.4,180.8 L754.5,181.2 L760.7,181.7 L766.9,182.2 L773.2,182.7 L779.4,183.3 L785.7,183.8 L792.0,184.4 L798.4,185.0 L804.7,185.6 L811.1,186.3 L817.6,186.9 L824.0,187.6 L830.5,188.3 L837.0,189.0 L843.6,189.8 L850.1,190.5 L856.7,191.3 L863.3,192.1 L870.0,192.9"/>
<path class="c" stroke="#00ff00" d="M73.5,640.0 L73.5,639.8 L73.6,639.4 L73.6,638.6 L73.7,637.5 L73.8,636.0 L74.0,634.3 L74.2,632.3 L74.4,630.0 L74.6,627.5 L74.9,624.7 L75.2,621.6 L75.5,618.4 L75.9,614.9 L76.2,611.2 L76.6,607.3 L77.1,603.3 L77.5,599.1 L78.0,594.8 L78.5,590.4 L79.1,585.9 L79.6,581.3 L80.2,576.6 L80.9,571.9 L81.5,567.2 L82.2,562.4 L82.9,557.6 L83.7,552.8 L84.4,548.1 L85.2,543.3 L86.0,538.6 L86.9,534.0 L87.8,529.3 L88.7,524.7 L89.6,520.1 L90.6,515.6 L91.6,511.0 L92.6,506.5 L93.6,502.0 L94.7,497.4 L95.8,492.9 L96.9,488.4 L98.1,483.8 L99.3,479.2 L100.5,474.6 L101.7,470.0 L103.0,465.5 L104.3,460.9 L105.6,456.3 L107.0,451.7 L108.4,447.2 L109.8,442.7 L111.2,438.2 L112.7,433.7 L114.2,429.2 L115.7,424.8 L117.2,420.4 L118.8,416.1 L120.4,411.8 L122.0,407.5 L123.7,403.2 L125.4,399.0 L127.1,394.9 L128.8,390.8 L130.6,386.7 L132.4,382.7 L134.2,378.7 L136.1,374.7 L138.0,370.9 L139.9,367.0 L141.8,363.2 L143.8,359.5 L145.8,355.8 L147.8,352.1 L149.9,348.5 L151.9,345.0 L154.0,341.5 L156.2,338.1 L158.3,334.7 L160.5,331.3 L162.7,328.0 L165.0,324.8 L167.3,321.6 L169.6,318.4 L171.9,315.3 L174.2,312.3 L176.6,309.3 L179.0,306.3 L181.5,303.4 L184.0,300.6 L186.4,297.8 L189.0,295.0 L191.5,292.3 L194.1,289.6 L196.7,287.0 L199.3,284.5 L202.0,282.0 L204.7,279.5 L207.4,277.1 L210.2,274.7 L212.9,272.4 L215.7,270.1 L218.6,267.9 L221.4,265.8 L224.3,263.7 L227.2,261.6 L230.2,259.6 L233.1,257.7 L236.1,255.8 L239.2,253.9 L242.2,252.1 L245.3,250.4 L248.4,248.7 L251.6,247.0 L254.7,245.4 L257.9,243.8 L261.1,242.3 L264.4,240.8 L267.7,239.4 L271.0,238.0 L274.3,236.6 L277.7,235.3 L281.0,234.0 L284.5,232.8 L287.9,231.5 L291.4,230.3 L294.9,229.2 L298.4,228.1 L302.0,227.0 L305.5,225.9 L309.2,224.9 L312.8,223.8 L316.5,222.9 L320.2,221.9 L323.9,221.0 L327.6,220.1 L331.4,219.2 L335.2,218.3 L339.1,217.5 L342.9,216.6 L346.8,215.9 L350.7,215.1 L354.7,214.3 L358.6,213.6 L362.6,212.9 L366.7,212.2 L370.7,211.5 L374.8,210.8 L378.9,210.2 L383.1,209.6 L387.2,209.0 L391.4,208.4 L395.7,207.8 L399.9,207.2 L404.2,206.7 L408.5,206.1 L412.8,205.6 L417.2,205.1 L421.6,204.6 L426.0,204.1 L430.5,203.6 L434.9,203.2 L439.4,202.7 L444.0,202.3 L448.5,201.9 L453.1,201.4 L457.7,201.0 L462.4,200.6 L467.1,200.2 L471.8,199.9 L476.5,199.5 L481.2,199.1 L486.0,198.8 L490.8,198.4 L495.7,198.1 L500.5,197.8 L505.4,197.5 L510.4,197.1 L515.3,196.8 L520.3,196.5 L525.3,196.2 L530.3,196.0 L535.4,195.7 L540.5,195.4 L545.6,195.1 L550.7,194.9 L555.9,194.6 L561.1,194.4 L566.3,194.1 L571.6,193.9 L576.9,193.6 L582.2,193.4 L587.5,193.2 L592.9,192.9 L598.3,192.7 L603.7,192.5 L609.2,192.3 L614.7,192.1 L620.2,191.9 L625.7,191.7 L631.3,191.5 L636.9,191.3 L642.5,191.1 L648.1,190.9 L653.8,190.7 L659.5,190.5 L665.2,190.4 L671.0,190.2 L676.8,190.0 L682.6,189.8 L688.4,189.7 L694.3,189.5 L700.2,189.3 L706.1,189.2 L712.1,189.0 L718.1,188.8 L724.1,188.7 L730.1,188.5 L736.2,188.4 L742.3,188.2 L748.4,188.0 L754.5,187.9 L760.7,187.7 L766.9,187.6 L773.2,187.4 L779.4,187.3 L785.7,187.1 L792.0,187.0 L798.4,186.8 L804.7,186.7 L811.1,186.5 L817.6,186.4 L824.0,186.3 L830.5,186.1 L837.0,186.0 L843.6,185.8 L850.1,185.7 L856.7,185.5 L863.3,185.4 L870.0,185.3"/>
<path class="c" stroke="#ff0000" d="M73.5,640.0 L73.5,639.8 L73.6,639.2 L73.6,638.2 L73.7,636.8 L73.8,635.1 L74.0,633.0 L74.2,630.5 L74.4,627.8 L74.6,624.7 L74.9,621.3 L75.2,617.7 L75.5,613.9 L75.9,609.8 L76.2,605.5 L76.6,601.1 L77.1,596.5 L77.5,591.8 L78.0,587.0 L78.5,582.1 L79.1,577.1 L79.6,572.1 L80.2,567.0 L80.9,561.9 L81.5,556.7 L82.2,551.5 L82.9,546.4 L83.7,541.2 L84.4,536.0 L85.2,530.9 L86.0,525.7 L86.9,520.6 L87.8,515.5 L88.7,510.4 L89.6,505.3 L90.6,500.2 L91.6,495.2 L92.6,490.2 L93.6,485.2 L94.7,480.2 L95.8,475.3 L96.9,470.4 L98.1,465.4 L99.3,460.5 L100.5,455.7 L101.7,450.8 L103.0,445.9 L104.3,441.1 L105.6,436.2 L107.0,431.4 L108.4,426.6 L109.8,421.7 L111.2,416.9 L112.7,412.1 L114.2,407.2 L115.7,402.4 L117.2,397.5 L118.8,392.7 L120.4,387.8 L122.0,383.0 L123.7,378.1 L125.4,373.2 L127.1,368.4 L128.8,363.5 L130.6,358.6 L132.4,353.8 L134.2,349.0 L136.1,344.1 L138.0,339.3 L139.9,334.6 L141.8,329.8 L143.8,325.1 L145.8,320.4 L147.8,315.7 L149.9,311.0 L151.9,306.4 L154.0,301.9 L156.2,297.3 L158.3,292.8 L160.5,288.3 L162.7,283.9 L165.0,279.5 L167.3,275.2 L169.6,270.9 L171.9,266.6 L174.2,262.4 L176.6,258.3 L179.0,254.1 L181.5,250.0 L184.0,246.0 L186.4,242.0 L189.0,238.1 L191.5,234.2 L194.1,230.4 L196.7,226.6 L199.3,222.8 L202.0,219.1 L204.7,215.5 L207.4,211.9 L210.2,208.3 L212.9,204.8 L215.7,201.4 L218.6,198.0 L221.4,194.6 L224.3,191.3 L227.2,188.1 L230.2,184.9 L233.1,181.7 L236.1,178.6 L239.2,175.6 L242.2,172.6 L245.3,169.6 L248.4,166.7 L251.6,163.9 L254.7,161.1 L257.9,158.4 L261.1,155.7 L264.4,153.0 L267.7,150.4 L271.0,147.9 L274.3,145.4 L277.7,143.0 L281.0,140.6 L284.5,138.2 L287.9,135.9 L291.4,133.7 L294.9,131.5 L298.4,129.4 L302.0,127.3 L305.5,125.2 L309.2,123.2 L312.8,121.3 L316.5,119.4 L320.2,117.5 L323.9,115.7 L327.6,114.0 L331.4,112.3 L335.2,110.6 L339.1,109.0 L342.9,107.4 L346.8,105.9 L350.7,104.4 L354.7,103.0 L358.6,101.6 L362.6,100.2 L366.7,98.9 L370.7,97.7 L374.8,96.5 L378.9,95.3 L383.1,94.1 L387.2,93.1 L391.4,92.0 L395.7,91.0 L399.9,90.0 L404.2,89.0 L408.5,88.1 L412.8,87.2 L417.2,86.4 L421.6,85.6 L426.0,84.8 L430.5,84.0 L434.9,83.3 L439.4,82.6 L444.0,81.9 L448.5,81.2 L453.1,80.6 L457.7,79.9 L462.4,79.3 L467.1,78.8 L471.8,78.2 L476.5,77.7 L481.2,77.1 L486.0,76.6 L490.8,76.1 L495.7,75.7 L500.5,75.2 L505.4,74.8 L510.4,74.3 L515.3,73.9 L520.3,73.5 L525.3,73.1 L530.3,72.7 L535.4,72.4 L540.5,72.0 L545.6,71.7 L550.7,71.3 L555.9,71.0 L561.1,70.7 L566.3,70.4 L571.6,70.1 L576.9,69.8 L582.2,69.5 L587.5,69.2 L592.9,68.9 L598.3,68.7 L603.7,68.4 L609.2,68.2 L614.7,68.0 L620.2,67.7 L625.7,67.5 L631.3,67.3 L636.9,67.1 L642.5,66.9 L648.1,66.7 L653.8,66.5 L659.5,66.4 L665.2,66.2 L671.0,66.0 L676.8,65.9 L682.6,65.7 L688.4,65.6 L694.3,65.5 L700.2,65.3 L706.1,65.2 L712.1,65.1 L718.1,65.0 L724.1,64.9 L730.1,64.8 L736.2,64.7 L742.3,64.6 L748.4,64.6 L754.5,64.5 L760.7,64.4 L766.9,64.4 L773.2,64.3 L779.4,64.3 L785.7,64.2 L792.0,64.2 L798.4,64.2 L804.7,64.1 L811.1,64.1 L817.6,64.1 L824.0,64.1 L830.5,64.1 L837.0,64.1 L843.6,64.1 L850.1,64.1 L856.7,64.1 L863.3,64.1 L870.0,64.2"/>
<path class="c" stroke="#ff0000" d="M73.5,640.0 L73.5,639.8 L73.6,639.2 L73.6,638.3 L73.7,637.0 L73.8,635.4 L74.0,633.4 L74.2,631.1 L74.4,628.4 L74.6,625.5 L74.9,622.3 L75.2,618.9 L75.5,615.2 L75.9,611.3 L76.2,607.2 L76.6,603.0 L77.1,598.6 L77.5,594.1 L78.0,589.4 L78.5,584.7 L79.1,579.8 L79.6,574.9 L80.2,569.9 L80.9,564.9 L81.5,559.9 L82.2,554.8 L82.9,549.7 L83.7,544.6 L84.4,539.5 L85.2,534.4 L86.0,529.3 L86.9,524.2 L87.8,519.1 L88.7,514.0 L89.6,509.0 L90.6,503.9 L91.6,498.9 L92.6,493.9 L93.6,488.9 L94.7,484.0 L95.8,479.0 L96.9,474.1 L98.1,469.2 L99.3,464.3 L100.5,459.4 L101.7,454.5 L103.0,449.7 L104.3,444.8 L105.6,440.0 L107.0,435.2 L108.4,430.4 L109.8,425.6 L111.2,420.8 L112.7,416.0 L114.2,411.2 L115.7,406.5 L117.2,401.7 L118.8,396.9 L120.4,392.2 L122.0,387.4 L123.7,382.6 L125.4,377.9 L127.1,373.1 L128.8,368.4 L130.6,363.7 L132.4,359.0 L134.2,354.3 L136.1,349.6 L138.0,344.9 L139.9,340.3 L141.8,335.7 L143.8,331.2 L145.8,326.6 L147.8,322.1 L149.9,317.7 L151.9,313.2 L154.0,308.8 L156.2,304.5 L158.3,300.2 L160.5,295.9 L162.7,291.7 L165.0,287.5 L167.3,283.4 L169.6,279.3 L171.9,275.3 L174.2,271.3 L176.6,267.3 L179.0,263.4 L181.5,259.6 L184.0,255.8 L186.4,252.0 L189.0,248.3 L191.5,244.6 L194.1,241.0 L196.7,237.4 L199.3,233.9 L202.0,230.4 L204.7,226.9 L207.4,223.5 L210.2,220.1 L212.9,216.7 L215.7,213.4 L218.6,210.1 L221.4,206.8 L224.3,203.6 L227.2,200.4 L230.2,197.2 L233.1,194.0 L236.1,190.9 L239.2,187.8 L242.2,184.7 L245.3,181.7 L248.4,178.7 L251.6,175.7 L254.7,172.7 L257.9,169.7 L261.1,166.8 L264.4,163.9 L267.7,161.1 L271.0,158.3 L274.3,155.5 L277.7,152.8 L281.0,150.2 L284.5,147.6 L287.9,145.0 L291.4,142.5 L294.9,140.1 L298.4,137.7 L302.0,135.3 L305.5,133.0 L309.2,130.8 L312.8,128.6 L316.5,126.5 L320.2,124.4 L323.9,122.4 L327.6,120.4 L331.4,118.4 L335.2,116.6 L339.1,114.7 L342.9,112.9 L346.8,111.2 L350.7,109.5 L354.7,107.8 L358.6,106.2 L362.6,104.6 L366.7,103.1 L370.7,101.6 L374.8,100.1 L378.9,98.7 L383.1,97.4 L387.2,96.0 L391.4,94.7 L395.7,93.5 L399.9,92.3 L404.2,91.1 L408.5,89.9 L412.8,88.8 L417.2,87.7 L421.6,86.6 L426.0,85.6 L430.5,84.5 L434.9,83.5 L439.4,82.6 L444.0,81.6 L448.5,80.7 L453.1,79.8 L457.7,78.9 L462.4,78.0 L467.1,77.1 L471.8,76.3 L476.5,75.5 L481.2,74.7 L486.0,73.9 L490.8,73.1 L495.7,72.3 L500.5,71.6 L505.4,70.9 L510.4,70.1 L515.3,69.4 L520.3,68.7 L525.3,68.0 L530.3,67.3 L535.4,66.6 L540.5,65.9 L545.6,65.3 L550.7,64.6 L555.9,64.0 L561.1,63.3 L566.3,62.7 L571.6,62.0 L576.9,61.4 L582.2,60.8 L587.5,60.2 L592.9,59.6 L598.3,59.1 L603.7,58.5 L609.2,58.0 L614.7,57.4 L620.2,56.9 L625.7,56.4 L631.3,55.9 L636.9,55.4 L642.5,55.0 L648.1,54.5 L653.8,54.1 L659.5,53.7 L665.2,53.3 L671.0,52.9 L676.8,52.5 L682.6,52.2 L688.4,51.8 L694.3,51.5 L700.2,51.2 L706.1,50.9 L712.1,50.7 L718.1,50.4 L724.1,50.2 L730.1,50.0 L736.2,49.8 L742.3,49.6 L748.4,49.4 L754.5,49.3 L760.7,49.2 L766.9,49.1 L773.2,49.0 L779.4,48.9 L785.7,48.9 L792.0,48.9 L798.4,48.9 L804.7,48.9 L811.1,48.9 L817.6,49.0 L824.0,49.1 L830.5,49.2 L837.0,49.3 L843.6,49.4 L850.1,49.6 L856.7,49.8 L863.3,50.0 L870.0,50.2"/>
<path class="c" stroke="#ff0000" d="M73.5,640.0 L73.5,639.8 L73.6,639.2 L73.6,638.3 L73.7,636.9 L73.8,635.3 L74.0,633.2 L74.2,630.9 L74.4,628.2 L74.6,625.3 L74.9,622.0 L75.2,618.6 L75.5,614.9 L75.9,611.1 L76.2,607.1 L76.6,602.9 L77.1,598.6 L77.5,594.2 L78.0,589.7 L78.5,585.2 L79.1,580.6 L79.6,575.9 L80.2,571.2 L80.9,566.5 L81.5,561.7 L82.2,557.0 L82.9,552.2 L83.7,547.4 L84.4,542.7 L85.2,537.9 L86.0,533.2 L86.9,528.4 L87.8,523.6 L88.7,518.9 L89.6,514.1 L90.6,509.4 L91.6,504.6 L92.6,499.8 L93.6,495.0 L94.7,490.2 L95.8,485.4 L96.9,480.6 L98.1,475.8 L99.3,470.9 L100.5,466.1 L101.7,461.2 L103.0,456.4 L104.3,451.6 L105.6,446.8 L107.0,442.0 L108.4,437.3 L109.8,432.6 L111.2,427.9 L112.7,423.2 L114.2,418.6 L115.7,414.1 L117.2,409.5 L118.8,405.0 L120.4,400.6 L122.0,396.2 L123.7,391.9 L125.4,387.6 L127.1,383.3 L128.8,379.1 L130.6,374.9 L132.4,370.7 L134.2,366.6 L136.1,362.4 L138.0,358.3 L139.9,354.1 L141.8,350.0 L143.8,345.8 L145.8,341.6 L147.8,337.4 L149.9,333.1 L151.9,328.9 L154.0,324.6 L156.2,320.4 L158.3,316.2 L160.5,312.0 L162.7,307.9 L165.0,303.8 L167.3,299.8 L169.6,295.8 L171.9,291.9 L174.2,288.1 L176.6,284.3 L179.0,280.6 L181.5,277.0 L184.0,273.5 L186.4,270.0 L189.0,266.7 L191.5,263.4 L194.1,260.3 L196.7,257.2 L199.3,254.2 L202.0,251.2 L204.7,248.3 L207.4,245.4 L210.2,242.6 L212.9,239.8 L215.7,237.0 L218.6,234.3 L221.4,231.6 L224.3,228.9 L227.2,226.3 L230.2,223.8 L233.1,221.2 L236.1,218.7 L239.2,216.3 L242.2,213.8 L245.3,211.5 L248.4,209.1 L251.6,206.8 L254.7,204.5 L257.9,202.2 L261.1,199.9 L264.4,197.7 L267.7,195.5 L271.0,193.2 L274.3,191.0 L277.7,188.9 L281.0,186.7 L284.5,184.5 L287.9,182.3 L291.4,180.1 L294.9,178.0 L298.4,175.8 L302.0,173.6 L305.5,171.4 L309.2,169.3 L312.8,167.1 L316.5,165.0 L320.2,162.9 L323.9,160.8 L327.6,158.8 L331.4,156.7 L335.2,154.7 L339.1,152.7 L342.9,150.8 L346.8,148.8 L350.7,146.9 L354.7,145.1 L358.6,143.2 L362.6,141.5 L366.7,139.7 L370.7,138.0 L374.8,136.3 L378.9,134.7 L383.1,133.1 L387.2,131.5 L391.4,130.0 L395.7,128.6 L399.9,127.1 L404.2,125.7 L408.5,124.3 L412.8,123.0 L417.2,121.7 L421.6,120.4 L426.0,119.2 L430.5,118.0 L434.9,116.8 L439.4,115.6 L444.0,114.5 L448.5,113.4 L453.1,112.3 L457.7,111.3 L462.4,110.3 L467.1,109.3 L471.8,108.3 L476.5,107.4 L481.2,106.5 L486.0,105.6 L490.8,104.7 L495.7,103.9 L500.5,103.1 L505.4,102.3 L510.4,101.5 L515.3,100.7 L520.3,100.0 L525.3,99.3 L530.3,98.6 L535.4,97.9 L540.5,97.3 L545.6,96.6 L550.7,96.0 L555.9,95.4 L561.1,94.8 L566.3,94.3 L571.6,93.7 L576.9,93.2 L582.2,92.7 L587.5,92.2 L592.9,91.7 L598.3,91.3 L603.7,90.8 L609.2,90.4 L614.7,90.0 L620.2,89.6 L625.7,89.3 L631.3,88.9 L636.9,88.6 L642.5,88.3 L648.1,88.0 L653.8,87.7 L659.5,87.4 L665.2,87.2 L671.0,87.0 L676.8,86.8 L682.6,86.6 L688.4,86.4 L694.3,86.2 L700.2,86.1 L706.1,86.0 L712.1,85.9 L718.1,85.8 L724.1,85.7 L730.1,85.6 L736.2,85.6 L742.3,85.6 L748.4,85.6 L754.5,85.6 L760.7,85.6 L766.9,85.6 L773.2,85.7 L779.4,85.7 L785.7,85.8 L792.0,85.9 L798.4,86.0 L804.7,86.2 L811.1,86.3 L817.6,86.5 L824.0,86.7 L830.5,86.8 L837.0,87.0 L843.6,87.3 L850.1,87.5 L856.7,87.8 L863.3,88.0 L870.0,88.3"/>
<path class="c" stroke="#ff0000" d="M73.5,640.0 L73.5,639.8 L73.6,639.3 L73.6,638.4 L73.7,637.1 L73.8,635.6 L74.0,633.7 L74.2,631.5 L74.4,629.0 L74.6,626.2 L74.9,623.2 L75.2,619.9 L75.5,616.5 L75.9,612.8 L76.2,609.0 L76.6,605.0 L77.1,600.9 L77.5,596.7 L78.0,592.4 L78.5,588.0 L79.1,583.6 L79.6,579.0 L80.2,574.5 L80.9,569.9 L81.5,565.2 L82.2,560.6 L82.9,555.9 L83.7,551.2 L84.4,546.5 L85.2,541.8 L86.0,537.0 L86.9,532.3 L87.8,527.6 L88.7,522.8 L89.6,518.0 L90.6,513.3 L91.6,508.5 L92.6,503.7 L93.6,498.9 L94.7,494.1 L95.8,489.3 L96.9,484.4 L98.1,479.5 L99.3,474.6 L100.5,469.8 L101.7,464.9 L103.0,460.0 L104.3,455.1 L105.6,450.3 L107.0,445.4 L108.4,440.6 L109.8,435.8 L111.2,431.1 L112.7,426.4 L114.2,421.7 L115.7,417.1 L117.2,412.5 L118.8,407.9 L120.4,403.4 L122.0,399.0 L123.7,394.6 L125.4,390.3 L127.1,386.0 L128.8,381.7 L130.6,377.6 L132.4,373.4 L134.2,369.4 L136.1,365.4 L138.0,361.4 L139.9,357.5 L141.8,353.7 L143.8,349.9 L145.8,346.1 L147.8,342.5 L149.9,338.9 L151.9,335.3 L154.0,331.8 L156.2,328.3 L158.3,324.9 L160.5,321.6 L162.7,318.3 L165.0,315.0 L167.3,311.8 L169.6,308.7 L171.9,305.6 L174.2,302.5 L176.6,299.5 L179.0,296.6 L181.5,293.7 L184.0,290.8 L186.4,288.0 L189.0,285.3 L191.5,282.6 L194.1,279.9 L196.7,277.3 L199.3,274.7 L202.0,272.2 L204.7,269.7 L207.4,267.3 L210.2,264.9 L212.9,262.5 L215.7,260.2 L218.6,258.0 L221.4,255.7 L224.3,253.6 L227.2,251.4 L230.2,249.3 L233.1,247.3 L236.1,245.2 L239.2,243.2 L242.2,241.3 L245.3,239.4 L248.4,237.5 L251.6,235.7 L254.7,233.9 L257.9,232.1 L261.1,230.4 L264.4,228.7 L267.7,227.0 L271.0,225.4 L274.3,223.8 L277.7,222.2 L281.0,220.7 L284.5,219.2 L287.9,217.7 L291.4,216.3 L294.9,214.9 L298.4,213.5 L302.0,212.1 L305.5,210.8 L309.2,209.5 L312.8,208.2 L316.5,207.0 L320.2,205.8 L323.9,204.6 L327.6,203.4 L331.4,202.3 L335.2,201.1 L339.1,200.0 L342.9,199.0 L346.8,197.9 L350.7,196.9 L354.7,195.9 L358.6,194.9 L362.6,193.9 L366.7,193.0 L370.7,192.0 L374.8,191.1 L378.9,190.2 L383.1,189.4 L387.2,188.5 L391.4,187.7 L395.7,186.9 L399.9,186.1 L404.2,185.3 L408.5,184.5 L412.8,183.8 L417.2,183.0 L421.6,182.3 L426.0,181.6 L430.5,180.9 L434.9,180.3 L439.4,179.6 L444.0,179.0 L448.5,178.3 L453.1,177.7 L457.7,177.1 L462.4,176.5 L467.1,176.0 L471.8,175.4 L476.5,174.9 L481.2,174.3 L486.0,173.8 L490.8,173.3 L495.7,172.8 L500.5,172.3 L505.4,171.9 L510.4,171.4 L515.3,170.9 L520.3,170.5 L525.3,170.1 L530.3,169.7 L535.4,169.3 L540.5,168.9 L545.6,168.5 L550.7,168.1 L555.9,167.7 L561.1,167.4 L566.3,167.0 L571.6,166.7 L576.9,166.4 L582.2,166.1 L587.5,165.8 L592.9,165.5 L598.3,165.2 L603.7,164.9 L609.2,164.6 L614.7,164.3 L620.2,164.1 L625.7,163.8 L631.3,163.6 L636.9,163.4 L642.5,163.1 L648.1,162.9 L653.8,162.7 L659.5,162.5 L665.2,162.3 L671.0,162.1 L676.8,162.0 L682.6,161.8 L688.4,161.6 L694.3,161.4 L700.2,161.3 L706.1,161.1 L712.1,161.0 L718.1,160.9 L724.1,160.7 L730.1,160.6 L736.2,160.5 L742.3,160.4 L748.4,160.3 L754.5,160.2 L760.7,160.1 L766.9,160.0 L773.2,159.9 L779.4,159.9 L785.7,159.8 L792.0,159.7 L798.4,159.7 L804.7,159.6 L811.1,159.6 L817.6,159.5 L824.0,159.5 L830.5,159.4 L837.0,159.4 L843.6,159.4 L850.1,159.4 L856.7,159.3 L863.3,159.3 L870.0,159.3"/>
<path class="c" stroke="#ff0000" d="M73.5,640.0 L73.5,639.9 L73.6,639.4 L73.6,638.7 L73.7,637.8 L73.8,636.5 L74.0,634.9 L74.2,633.1 L74.4,631.0 L74.6,628.6 L74.9,626.0 L75.2,623.0 L75.5,619.9 L75.9,616.4 L76.2,612.7 L76.6,608.8 L77.1,604.7 L77.5,600.4 L78.0,596.0 L78.5,591.3 L79.1,586.6 L79.6,581.7 L80.2,576.7 L80.9,571.7 L81.5,566.7 L82.2,561.6 L82.9,556.6 L83.7,551.6 L84.4,546.7 L85.2,541.8 L86.0,537.1 L86.9,532.5 L87.8,528.0 L88.7,523.5 L89.6,519.1 L90.6,514.8 L91.6,510.5 L92.6,506.2 L93.6,501.9 L94.7,497.6 L95.8,493.3 L96.9,488.9 L98.1,484.4 L99.3,479.9 L100.5,475.4 L101.7,470.8 L103.0,466.2 L104.3,461.5 L105.6,456.8 L107.0,452.1 L108.4,447.4 L109.8,442.7 L111.2,438.0 L112.7,433.3 L114.2,428.6 L115.7,423.9 L117.2,419.2 L118.8,414.6 L120.4,409.9 L122.0,405.3 L123.7,400.8 L125.4,396.2 L127.1,391.7 L128.8,387.3 L130.6,382.9 L132.4,378.5 L134.2,374.2 L136.1,369.9 L138.0,365.7 L139.9,361.6 L141.8,357.5 L143.8,353.4 L145.8,349.4 L147.8,345.5 L149.9,341.7 L151.9,337.9 L154.0,334.2 L156.2,330.6 L158.3,327.0 L160.5,323.5 L162.7,320.1 L165.0,316.8 L167.3,313.5 L169.6,310.3 L171.9,307.2 L174.2,304.1 L176.6,301.2 L179.0,298.3 L181.5,295.5 L184.0,292.8 L186.4,290.1 L189.0,287.5 L191.5,285.0 L194.1,282.6 L196.7,280.2 L199.3,278.0 L202.0,275.7 L204.7,273.6 L207.4,271.5 L210.2,269.4 L212.9,267.4 L215.7,265.5 L218.6,263.6 L221.4,261.7 L224.3,259.9 L227.2,258.1 L230.2,256.4 L233.1,254.6 L236.1,252.9 L239.2,251.3 L242.2,249.7 L245.3,248.0 L248.4,246.5 L251.6,244.9 L254.7,243.4 L257.9,241.9 L261.1,240.4 L264.4,239.0 L267.7,237.6 L271.0,236.2 L274.3,234.8 L277.7,233.5 L281.0,232.2 L284.5,230.9 L287.9,229.6 L291.4,228.4 L294.9,227.2 L298.4,226.0 L302.0,224.9 L305.5,223.7 L309.2,222.6 L312.8,221.5 L316.5,220.5 L320.2,219.4 L323.9,218.4 L327.6,217.4 L331.4,216.4 L335.2,215.5 L339.1,214.5 L342.9,213.6 L346.8,212.7 L350.7,211.9 L354.7,211.0 L358.6,210.2 L362.6,209.4 L366.7,208.6 L370.7,207.9 L374.8,207.1 L378.9,206.4 L383.1,205.7 L387.2,205.0 L391.4,204.4 L395.7,203.7 L399.9,203.1 L404.2,202.5 L408.5,201.9 L412.8,201.4 L417.2,200.8 L421.6,200.3 L426.0,199.8 L430.5,199.3 L434.9,198.8 L439.4,198.3 L444.0,197.9 L448.5,197.5 L453.1,197.1 L457.7,196.7 L462.4,196.3 L467.1,196.0 L471.8,195.6 L476.5,195.3 L481.2,195.0 L486.0,194.7 L490.8,194.4 L495.7,194.2 L500.5,193.9 L505.4,193.7 L510.4,193.5 L515.3,193.3 L520.3,193.1 L525.3,192.9 L530.3,192.8 L535.4,192.6 L540.5,192.5 L545.6,192.4 L550.7,192.3 L555.9,192.2 L561.1,192.2 L566.3,192.1 L571.6,192.1 L576.9,192.0 L582.2,192.0 L587.5,192.0 L592.9,192.0 L598.3,192.0 L603.7,192.0 L609.2,192.1 L614.7,192.1 L620.2,192.2 L625.7,192.2 L631.3,192.3 L636.9,192.4 L642.5,192.4 L648.1,192.5 L653.8,192.6 L659.5,192.7 L665.2,192.9 L671.0,193.0 L676.8,193.1 L682.6,193.2 L688.4,193.4 L694.3,193.5 L700.2,193.7 L706.1,193.8 L712.1,194.0 L718.1,194.2 L724.1,194.3 L730.1,194.5 L736.2,194.7 L742.3,194.9 L748.4,195.1 L754.5,195.3 L760.7,195.4 L766.9,195.6 L773.2,195.9 L779.4,196.1 L785.7,196.3 L792.0,196.5 L798.4,196.7 L804.7,196.9 L811.1,197.1 L817.6,197.4 L824.0,197.6 L830.5,197.8 L837.0,198.0 L843.6,198.3 L850.1,198.5 L856.7,198.7 L863.3,199.0 L870.0,199.2"/>
<path class="c" stroke="#ff0000" d="M73.5,640.0 L73.5,639.9 L73.6,639.4 L73.6,638.7 L73.7,637.7 L73.8,636.4 L74.0,634.8 L74.2,633.0 L74.4,630.9 L74.6,628.5 L74.9,625.8 L75.2,622.9 L75.5,619.7 L75.9,616.3 L76.2,612.7 L76.6,608.9 L77.1,604.9 L77.5,600.7 L78.0,596.4 L78.5,591.9 L79.1,587.3 L79.6,582.6 L80.2,577.8 L80.9,573.0 L81.5,568.1 L82.2,563.2 L82.9,558.3 L83.7,553.5 L84.4,548.7 L85.2,543.9 L86.0,539.2 L86.9,534.7 L87.8,530.1 L88.7,525.7 L89.6,521.3 L90.6,516.9 L91.6,512.6 L92.6,508.2 L93.6,503.9 L94.7,499.5 L95.8,495.2 L96.9,490.8 L98.1,486.3 L99.3,481.8 L100.5,477.3 L101.7,472.7 L103.0,468.1 L104.3,463.5 L105.6,458.9 L107.0,454.2 L108.4,449.6 L109.8,444.9 L111.2,440.2 L112.7,435.5 L114.2,430.9 L115.7,426.2 L117.2,421.6 L118.8,417.0 L120.4,412.4 L122.0,407.8 L123.7,403.2 L125.4,398.7 L127.1,394.2 L128.8,389.7 L130.6,385.3 L132.4,380.9 L134.2,376.6 L136.1,372.3 L138.0,368.0 L139.9,363.9 L141.8,359.7 L143.8,355.6 L145.8,351.6 L147.8,347.7 L149.9,343.8 L151.9,339.9 L154.0,336.2 L156.2,332.5 L158.3,328.9 L160.5,325.3 L162.7,321.8 L165.0,318.4 L167.3,315.1 L169.6,311.9 L171.9,308.7 L174.2,305.6 L176.6,302.6 L179.0,299.7 L181.5,296.8 L184.0,294.0 L186.4,291.3 L189.0,288.7 L191.5,286.2 L194.1,283.7 L196.7,281.3 L199.3,279.0 L202.0,276.7 L204.7,274.5 L207.4,272.4 L210.2,270.3 L212.9,268.3 L215.7,266.3 L218.6,264.4 L221.4,262.5 L224.3,260.7 L227.2,258.9 L230.2,257.1 L233.1,255.4 L236.1,253.7 L239.2,252.0 L242.2,250.4 L245.3,248.8 L248.4,247.2 L251.6,245.6 L254.7,244.1 L257.9,242.6 L261.1,241.1 L264.4,239.7 L267.7,238.3 L271.0,236.9 L274.3,235.5 L277.7,234.2 L281.0,232.9 L284.5,231.6 L287.9,230.4 L291.4,229.1 L294.9,227.9 L298.4,226.8 L302.0,225.6 L305.5,224.5 L309.2,223.4 L312.8,222.3 L316.5,221.2 L320.2,220.2 L323.9,219.2 L327.6,218.2 L331.4,217.2 L335.2,216.3 L339.1,215.3 L342.9,214.4 L346.8,213.5 L350.7,212.7 L354.7,211.8 L358.6,211.0 L362.6,210.2 L366.7,209.5 L370.7,208.7 L374.8,208.0 L378.9,207.2 L383.1,206.5 L387.2,205.9 L391.4,205.2 L395.7,204.6 L399.9,203.9 L404.2,203.3 L408.5,202.7 L412.8,202.2 L417.2,201.6 L421.6,201.1 L426.0,200.6 L430.5,200.1 L434.9,199.6 L439.4,199.1 L444.0,198.7 L448.5,198.3 L453.1,197.8 L457.7,197.4 L462.4,197.1 L467.1,196.7 L471.8,196.3 L476.5,196.0 L481.2,195.7 L486.0,195.4 L490.8,195.1 L495.7,194.8 L500.5,194.5 L505.4,194.3 L510.4,194.1 L515.3,193.9 L520.3,193.6 L525.3,193.5 L530.3,193.3 L535.4,193.1 L540.5,193.0 L545.6,192.8 L550.7,192.7 L555.9,192.6 L561.1,192.5 L566.3,192.4 L571.6,192.3 L576.9,192.3 L582.2,192.2 L587.5,192.2 L592.9,192.2 L598.3,192.1 L603.7,192.1 L609.2,192.1 L614.7,192.1 L620.2,192.2 L625.7,192.2 L631.3,192.2 L636.9,192.3 L642.5,192.3 L648.1,192.4 L653.8,192.4 L659.5,192.5 L665.2,192.6 L671.0,192.7 L676.8,192.8 L682.6,192.9 L688.4,193.0 L694.3,193.1 L700.2,193.2 L706.1,193.3 L712.1,193.4 L718.1,193.6 L724.1,193.7 L730.1,193.9 L736.2,194.0 L742.3,194.2 L748.4,194.3 L754.5,194.5 L760.7,194.6 L766.9,194.8 L773.2,195.0 L779.4,195.2 L785.7,195.3 L792.0,195.5 L798.4,195.7 L804.7,195.9 L811.1,196.1 L817.6,196.3 L824.0,196.5 L830.5,196.7 L837.0,196.9 L843.6,197.1 L850.1,197.3 L856.7,197.5 L863.3,197.7 L870.0,197.9"/>
<path class="c" stroke="#0000ff" d="M73.5,640.0 L73.5,639.9 L73.6,639.4 L73.6,638.7 L73.7,637.6 L73.8,636.3 L74.0,634.7 L74.2,632.8 L74.4,630.7 L74.6,628.3 L74.9,625.7 L75.2,622.8 L75.5,619.7 L75.9,616.4 L76.2,612.9 L76.6,609.2 L77.1,605.4 L77.5,601.4 L78.0,597.3 L78.5,593.1 L79.1,588.7 L79.6,584.3 L80.2,579.8 L80.9,575.2 L81.5,570.6 L82.2,566.0 L82.9,561.4 L83.7,556.7 L84.4,552.1 L85.2,547.5 L86.0,542.9 L86.9,538.4 L87.8,533.9 L88.7,529.4 L89.6,525.0 L90.6,520.7 L91.6,516.3 L92.6,512.0 L93.6,507.8 L94.7,503.5 L95.8,499.3 L96.9,495.1 L98.1,490.9 L99.3,486.7 L100.5,482.5 L101.7,478.4 L103.0,474.2 L104.3,470.1 L105.6,466.0 L107.0,461.9 L108.4,457.8 L109.8,453.7 L111.2,449.7 L112.7,445.6 L114.2,441.6 L115.7,437.6 L117.2,433.6 L118.8,429.6 L120.4,425.6 L122.0,421.7 L123.7,417.8 L125.4,413.8 L127.1,409.9 L128.8,406.0 L130.6,402.2 L132.4,398.3 L134.2,394.5 L136.1,390.7 L138.0,387.0 L139.9,383.2 L141.8,379.5 L143.8,375.9 L145.8,372.3 L147.8,368.7 L149.9,365.2 L151.9,361.7 L154.0,358.2 L156.2,354.8 L158.3,351.5 L160.5,348.1 L162.7,344.9 L165.0,341.7 L167.3,338.5 L169.6,335.4 L171.9,332.3 L174.2,329.3 L176.6,326.3 L179.0,323.4 L181.5,320.5 L184.0,317.7 L186.4,314.9 L189.0,312.2 L191.5,309.6 L194.1,307.0 L196.7,304.4 L199.3,301.9 L202.0,299.5 L204.7,297.1 L207.4,294.7 L210.2,292.4 L212.9,290.2 L215.7,288.0 L218.6,285.8 L221.4,283.7 L224.3,281.6 L227.2,279.6 L230.2,277.6 L233.1,275.6 L236.1,273.7 L239.2,271.8 L242.2,269.9 L245.3,268.1 L248.4,266.3 L251.6,264.6 L254.7,262.9 L257.9,261.2 L261.1,259.5 L264.4,257.9 L267.7,256.3 L271.0,254.7 L274.3,253.1 L277.7,251.6 L281.0,250.1 L284.5,248.6 L287.9,247.1 L291.4,245.7 L294.9,244.3 L298.4,242.9 L302.0,241.5 L305.5,240.2 L309.2,238.8 L312.8,237.5 L316.5,236.2 L320.2,235.0 L323.9,233.7 L327.6,232.5 L331.4,231.2 L335.2,230.0 L339.1,228.8 L342.9,227.6 L346.8,226.5 L350.7,225.3 L354.7,224.2 L358.6,223.1 L362.6,222.0 L366.7,220.9 L370.7,219.9 L374.8,218.8 L378.9,217.8 L383.1,216.8 L387.2,215.8 L391.4,214.8 L395.7,213.9 L399.9,213.0 L404.2,212.1 L408.5,211.2 L412.8,210.3 L417.2,209.4 L421.6,208.6 L426.0,207.8 L430.5,207.0 L434.9,206.2 L439.4,205.4 L444.0,204.7 L448.5,204.0 L453.1,203.3 L457.7,202.6 L462.4,201.9 L467.1,201.3 L471.8,200.6 L476.5,200.0 L481.2,199.4 L486.0,198.9 L490.8,198.3 L495.7,197.8 L500.5,197.3 L505.4,196.8 L510.4,196.3 L515.3,195.8 L520.3,195.4 L525.3,195.0 L530.3,194.6 L535.4,194.2 L540.5,193.8 L545.6,193.5 L550.7,193.1 L555.9,192.8 L561.1,192.5 L566.3,192.2 L571.6,192.0 L576.9,191.7 L582.2,191.5 L587.5,191.2 L592.9,191.0 L598.3,190.8 L603.7,190.6 L609.2,190.4 L614.7,190.3 L620.2,190.1 L625.7,190.0 L631.3,189.8 L636.9,189.7 L642.5,189.5 L648.1,189.4 L653.8,189.3 L659.5,189.2 L665.2,189.0 L671.0,188.9 L676.8,188.8 L682.6,188.7 L688.4,188.6 L694.3,188.5 L700.2,188.4 L706.1,188.3 L712.1,188.3 L718.1,188.2 L724.1,188.1 L730.1,188.0 L736.2,187.9 L742.3,187.8 L748.4,187.7 L754.5,187.7 L760.7,187.6 L766.9,187.5 L773.2,187.4 L779.4,187.3 L785.7,187.2 L792.0,187.1 L798.4,187.0 L804.7,186.9 L811.1,186.8 L817.6,186.7 L824.0,186.6 L830.5,186.5 L837.0,186.3 L843.6,186.2 L850.1,186.1 L856.7,186.0 L863.3,185.8 L870.0,185.7"/>
<path class="c" stroke="#0000ff" d="M73.5,640.0 L73.5,639.9 L73.6,639.6 L73.6,639.1 L73.7,638.4 L73.8,637.5 L74.0,636.3 L74.2,635.0 L74.4,633.5 L74.6,631.7 L74.9,629.7 L75.2,627.5 L75.5,625.1 L75.9,622.5 L76.2,619.7 L76.6,616.7 L77.1,613.5 L77.5,610.1 L78.0,606.5 L78.5,602.8 L79.1,598.9 L79.6,594.8 L80.2,590.7 L80.9,586.4 L81.5,582.0 L82.2,577.6 L82.9,573.1 L83.7,568.5 L84.4,563.9 L85.2,559.3 L86.0,554.7 L86.9,550.1 L87.8,545.6 L88.7,541.0 L89.6,536.6 L90.6,532.2 L91.6,527.8 L92.6,523.5 L93.6,519.3 L94.7,515.1 L95.8,510.9 L96.9,506.8 L98.1,502.8 L99.3,498.8 L100.5,494.8 L101.7,490.9 L103.0,487.0 L104.3,483.1 L105.6,479.3 L107.0,475.5 L108.4,471.8 L109.8,468.1 L111.2,464.4 L112.7,460.7 L114.2,457.0 L115.7,453.4 L117.2,449.8 L118.8,446.2 L120.4,442.7 L122.0,439.1 L123.7,435.5 L125.4,432.0 L127.1,428.5 L128.8,425.0 L130.6,421.5 L132.4,418.0 L134.2,414.5 L136.1,411.0 L138.0,407.5 L139.9,404.1 L141.8,400.6 L143.8,397.2 L145.8,393.8 L147.8,390.4 L149.9,387.0 L151.9,383.7 L154.0,380.3 L156.2,377.0 L158.3,373.8 L160.5,370.5 L162.7,367.3 L165.0,364.1 L167.3,360.9 L169.6,357.8 L171.9,354.7 L174.2,351.7 L176.6,348.7 L179.0,345.7 L181.5,342.7 L184.0,339.8 L186.4,336.9 L189.0,334.1 L191.5,331.3 L194.1,328.5 L196.7,325.8 L199.3,323.1 L202.0,320.4 L204.7,317.8 L207.4,315.2 L210.2,312.6 L212.9,310.1 L215.7,307.6 L218.6,305.2 L221.4,302.7 L224.3,300.4 L227.2,298.0 L230.2,295.7 L233.1,293.4 L236.1,291.1 L239.2,288.9 L242.2,286.7 L245.3,284.5 L248.4,282.4 L251.6,280.3 L254.7,278.2 L257.9,276.2 L261.1,274.2 L264.4,272.2 L267.7,270.2 L271.0,268.3 L274.3,266.4 L277.7,264.5 L281.0,262.7 L284.5,260.9 L287.9,259.1 L291.4,257.3 L294.9,255.5 L298.4,253.8 L302.0,252.1 L305.5,250.4 L309.2,248.8 L312.8,247.2 L316.5,245.6 L320.2,244.0 L323.9,242.4 L327.6,240.9 L331.4,239.4 L335.2,237.9 L339.1,236.4 L342.9,234.9 L346.8,233.5 L350.7,232.1 L354.7,230.7 L358.6,229.3 L362.6,228.0 L366.7,226.6 L370.7,225.3 L374.8,224.0 L378.9,222.7 L383.1,221.5 L387.2,220.2 L391.4,219.0 L395.7,217.8 L399.9,216.6 L404.2,215.4 L408.5,214.3 L412.8,213.1 L417.2,212.0 L421.6,210.9 L426.0,209.8 L430.5,208.7 L434.9,207.6 L439.4,206.6 L444.0,205.6 L448.5,204.5 L453.1,203.5 L457.7,202.6 L462.4,201.6 L467.1,200.6 L471.8,199.7 L476.5,198.7 L481.2,197.8 L486.0,196.9 L490.8,196.0 L495.7,195.1 L500.5,194.3 L505.4,193.4 L510.4,192.6 L515.3,191.7 L520.3,190.9 L525.3,190.1 L530.3,189.3 L535.4,188.6 L540.5,187.8 L545.6,187.0 L550.7,186.3 L555.9,185.5 L561.1,184.8 L566.3,184.1 L571.6,183.4 L576.9,182.7 L582.2,182.0 L587.5,181.3 L592.9,180.7 L598.3,180.0 L603.7,179.4 L609.2,178.7 L614.7,178.1 L620.2,177.5 L625.7,176.8 L631.3,176.2 L636.9,175.6 L642.5,175.0 L648.1,174.4 L653.8,173.8 L659.5,173.3 L665.2,172.7 L671.0,172.1 L676.8,171.5 L682.6,171.0 L688.4,170.4 L694.3,169.9 L700.2,169.3 L706.1,168.8 L712.1,168.3 L718.1,167.7 L724.1,167.2 L730.1,166.7 L736.2,166.2 L742.3,165.7 L748.4,165.1 L754.5,164.6 L760.7,164.1 L766.9,163.6 L773.2,163.1 L779.4,162.6 L785.7,162.1 L792.0,161.6 L798.4,161.2 L804.7,160.7 L811.1,160.2 L817.6,159.7 L824.0,159.2 L830.5,158.7 L837.0,158.3 L843.6,157.8 L850.1,157.3 L856.7,156.8 L863.3,156.4 L870.0,155.9"/>
<path class="c" stroke="#0000ff" d="M73.5,640.0 L73.5,639.9 L73.6,639.7 L73.6,639.3 L73.7,638.8 L73.8,638.1 L74.0,637.2 L74.2,636.2 L74.4,635.0 L74.6,633.6 L74.9,632.0 L75.2,630.2 L75.5,628.3 L75.9,626.1 L76.2,623.8 L76.6,621.2 L77.1,618.5 L77.5,615.6 L78.0,612.5 L78.5,609.2 L79.1,605.8 L79.6,602.2 L80.2,598.5 L80.9,594.6 L81.5,590.7 L82.2,586.6 L82.9,582.5 L83.7,578.3 L84.4,574.1 L85.2,569.8 L86.0,565.4 L86.9,561.1 L87.8,556.7 L88.7,552.4 L89.6,548.0 L90.6,543.7 L91.6,539.4 L92.6,535.2 L93.6,531.0 L94.7,526.8 L95.8,522.6 L96.9,518.5 L98.1,514.4 L99.3,510.3 L100.5,506.3 L101.7,502.2 L103.0,498.2 L104.3,494.2 L105.6,490.2 L107.0,486.3 L108.4,482.3 L109.8,478.3 L111.2,474.4 L112.7,470.5 L114.2,466.6 L115.7,462.7 L117.2,458.8 L118.8,454.9 L120.4,451.1 L122.0,447.2 L123.7,443.4 L125.4,439.6 L127.1,435.8 L128.8,432.0 L130.6,428.3 L132.4,424.5 L134.2,420.8 L136.1,417.1 L138.0,413.4 L139.9,409.7 L141.8,406.1 L143.8,402.5 L145.8,398.9 L147.8,395.3 L149.9,391.7 L151.9,388.2 L154.0,384.8 L156.2,381.4 L158.3,378.0 L160.5,374.6 L162.7,371.3 L165.0,368.1 L167.3,364.9 L169.6,361.7 L171.9,358.6 L174.2,355.5 L176.6,352.5 L179.0,349.5 L181.5,346.6 L184.0,343.8 L186.4,341.0 L189.0,338.3 L191.5,335.6 L194.1,332.9 L196.7,330.3 L199.3,327.8 L202.0,325.3 L204.7,322.8 L207.4,320.4 L210.2,318.0 L212.9,315.7 L215.7,313.4 L218.6,311.1 L221.4,308.9 L224.3,306.7 L227.2,304.5 L230.2,302.3 L233.1,300.2 L236.1,298.1 L239.2,296.0 L242.2,294.0 L245.3,291.9 L248.4,289.9 L251.6,288.0 L254.7,286.0 L257.9,284.1 L261.1,282.2 L264.4,280.3 L267.7,278.4 L271.0,276.6 L274.3,274.8 L277.7,273.0 L281.0,271.3 L284.5,269.6 L287.9,267.9 L291.4,266.2 L294.9,264.5 L298.4,262.9 L302.0,261.3 L305.5,259.8 L309.2,258.2 L312.8,256.7 L316.5,255.2 L320.2,253.8 L323.9,252.3 L327.6,250.9 L331.4,249.5 L335.2,248.2 L339.1,246.9 L342.9,245.6 L346.8,244.3 L350.7,243.1 L354.7,241.8 L358.6,240.7 L362.6,239.5 L366.7,238.3 L370.7,237.2 L374.8,236.2 L378.9,235.1 L383.1,234.1 L387.2,233.1 L391.4,232.1 L395.7,231.1 L399.9,230.2 L404.2,229.3 L408.5,228.4 L412.8,227.5 L417.2,226.7 L421.6,225.9 L426.0,225.1 L430.5,224.4 L434.9,223.7 L439.4,223.0 L444.0,222.3 L448.5,221.6 L453.1,221.0 L457.7,220.4 L462.4,219.8 L467.1,219.2 L471.8,218.7 L476.5,218.2 L481.2,217.7 L486.0,217.2 L490.8,216.8 L495.7,216.4 L500.5,216.0 L505.4,215.6 L510.4,215.3 L515.3,214.9 L520.3,214.6 L525.3,214.4 L530.3,214.1 L535.4,213.9 L540.5,213.6 L545.6,213.4 L550.7,213.3 L555.9,213.1 L561.1,213.0 L566.3,212.9 L571.6,212.8 L576.9,212.7 L582.2,212.6 L587.5,212.6 L592.9,212.6 L598.3,212.6 L603.7,212.6 L609.2,212.6 L614.7,212.6 L620.2,212.6 L625.7,212.7 L631.3,212.8 L636.9,212.9 L642.5,213.0 L648.1,213.1 L653.8,213.2 L659.5,213.3 L665.2,213.5 L671.0,213.6 L676.8,213.8 L682.6,213.9 L688.4,214.1 L694.3,214.3 L700.2,214.5 L706.1,214.7 L712.1,214.9 L718.1,215.1 L724.1,215.3 L730.1,215.5 L736.2,215.8 L742.3,216.0 L748.4,216.3 L754.5,216.5 L760.7,216.8 L766.9,217.0 L773.2,217.3 L779.4,217.5 L785.7,217.8 L792.0,218.1 L798.4,218.4 L804.7,218.6 L811.1,218.9 L817.6,219.2 L824.0,219.5 L830.5,219.8 L837.0,220.1 L843.6,220.4 L850.1,220.7 L856.7,221.0 L863.3,221.3 L870.0,221.6"/>
<path class="c" stroke="#0000ff" d="M73.5,640.0 L73.5,640.0 L73.6,639.8 L73.6,639.6 L73.7,639.2 L73.8,638.8 L74.0,638.2 L74.2,637.5 L74.4,636.7 L74.6,635.7 L74.9,634.5 L75.2,633.2 L75.5,631.7 L75.9,630.0 L76.2,628.2 L76.6,626.1 L77.1,623.8 L77.5,621.3 L78.0,618.6 L78.5,615.8 L79.1,612.7 L79.6,609.5 L80.2,606.1 L80.9,602.6 L81.5,598.9 L82.2,595.1 L82.9,591.1 L83.7,587.1 L84.4,583.0 L85.2,578.8 L86.0,574.6 L86.9,570.3 L87.8,566.0 L88.7,561.6 L89.6,557.3 L90.6,552.9 L91.6,548.6 L92.6,544.3 L93.6,540.0 L94.7,535.8 L95.8,531.7 L96.9,527.5 L98.1,523.4 L99.3,519.4 L100.5,515.4 L101.7,511.5 L103.0,507.6 L104.3,503.7 L105.6,499.9 L107.0,496.1 L108.4,492.3 L109.8,488.6 L111.2,484.9 L112.7,481.3 L114.2,477.7 L115.7,474.1 L117.2,470.6 L118.8,467.1 L120.4,463.6 L122.0,460.2 L123.7,456.8 L125.4,453.4 L127.1,450.0 L128.8,446.7 L130.6,443.4 L132.4,440.1 L134.2,436.9 L136.1,433.7 L138.0,430.5 L139.9,427.3 L141.8,424.2 L143.8,421.1 L145.8,418.1 L147.8,415.1 L149.9,412.1 L151.9,409.1 L154.0,406.2 L156.2,403.3 L158.3,400.4 L160.5,397.5 L162.7,394.7 L165.0,392.0 L167.3,389.2 L169.6,386.5 L171.9,383.8 L174.2,381.2 L176.6,378.5 L179.0,375.9 L181.5,373.4 L184.0,370.9 L186.4,368.3 L189.0,365.9 L191.5,363.4 L194.1,361.0 L196.7,358.6 L199.3,356.3 L202.0,354.0 L204.7,351.7 L207.4,349.4 L210.2,347.1 L212.9,344.9 L215.7,342.7 L218.6,340.6 L221.4,338.4 L224.3,336.3 L227.2,334.3 L230.2,332.2 L233.1,330.2 L236.1,328.2 L239.2,326.2 L242.2,324.3 L245.3,322.3 L248.4,320.4 L251.6,318.6 L254.7,316.7 L257.9,314.9 L261.1,313.1 L264.4,311.3 L267.7,309.6 L271.0,307.8 L274.3,306.1 L277.7,304.4 L281.0,302.8 L284.5,301.2 L287.9,299.5 L291.4,298.0 L294.9,296.4 L298.4,294.8 L302.0,293.3 L305.5,291.8 L309.2,290.3 L312.8,288.9 L316.5,287.5 L320.2,286.0 L323.9,284.6 L327.6,283.3 L331.4,281.9 L335.2,280.6 L339.1,279.3 L342.9,278.0 L346.8,276.7 L350.7,275.5 L354.7,274.2 L358.6,273.0 L362.6,271.8 L366.7,270.7 L370.7,269.5 L374.8,268.4 L378.9,267.2 L383.1,266.1 L387.2,265.1 L391.4,264.0 L395.7,263.0 L399.9,261.9 L404.2,260.9 L408.5,259.9 L412.8,258.9 L417.2,258.0 L421.6,257.0 L426.0,256.1 L430.5,255.2 L434.9,254.3 L439.4,253.4 L444.0,252.6 L448.5,251.7 L453.1,250.9 L457.7,250.1 L462.4,249.3 L467.1,248.5 L471.8,247.7 L476.5,247.0 L481.2,246.2 L486.0,245.5 L490.8,244.8 L495.7,244.1 L500.5,243.4 L505.4,242.7 L510.4,242.0 L515.3,241.4 L520.3,240.7 L525.3,240.1 L530.3,239.5 L535.4,238.9 L540.5,238.3 L545.6,237.7 L550.7,237.1 L555.9,236.5 L561.1,236.0 L566.3,235.4 L571.6,234.9 L576.9,234.3 L582.2,233.8 L587.5,233.3 L592.9,232.8 L598.3,232.3 L603.7,231.8 L609.2,231.3 L614.7,230.9 L620.2,230.4 L625.7,230.0 L631.3,229.5 L636.9,229.1 L642.5,228.6 L648.1,228.2 L653.8,227.8 L659.5,227.4 L665.2,227.0 L671.0,226.6 L676.8,226.3 L682.6,225.9 L688.4,225.6 L694.3,225.2 L700.2,224.9 L706.1,224.6 L712.1,224.3 L718.1,224.0 L724.1,223.7 L730.1,223.4 L736.2,223.1 L742.3,222.9 L748.4,222.6 L754.5,222.4 L760.7,222.2 L766.9,222.0 L773.2,221.8 L779.4,221.6 L785.7,221.4 L792.0,221.3 L798.4,221.1 L804.7,221.0 L811.1,220.9 L817.6,220.8 L824.0,220.7 L830.5,220.6 L837.0,220.5 L843.6,220.5 L850.1,220.4 L856.7,220.4 L863.3,220.4 L870.0,220.4"/>
<path class="c" stroke="#0000ff" d="M73.5,640.0 L73.5,640.0 L73.6,639.8 L73.6,639.7 L73.7,639.4 L73.8,639.0 L74.0,638.6 L74.2,638.0 L74.4,637.3 L74.6,636.5 L74.9,635.5 L75.2,634.4 L75.5,633.2 L75.9,631.8 L76.2,630.2 L76.6,628.5 L77.1,626.5 L77.5,624.4 L78.0,622.1 L78.5,619.7 L79.1,617.0 L79.6,614.2 L80.2,611.3 L80.9,608.1 L81.5,604.9 L82.2,601.5 L82.9,597.9 L83.7,594.3 L84.4,590.5 L85.2,586.6 L86.0,582.7 L86.9,578.7 L87.8,574.6 L88.7,570.5 L89.6,566.3 L90.6,562.1 L91.6,557.9 L92.6,553.7 L93.6,549.5 L94.7,545.4 L95.8,541.2 L96.9,537.1 L98.1,533.0 L99.3,529.0 L100.5,525.0 L101.7,521.0 L103.0,517.1 L104.3,513.2 L105.6,509.3 L107.0,505.5 L108.4,501.7 L109.8,497.9 L111.2,494.1 L112.7,490.4 L114.2,486.7 L115.7,483.0 L117.2,479.3 L118.8,475.7 L120.4,472.1 L122.0,468.5 L123.7,464.9 L125.4,461.4 L127.1,457.8 L128.8,454.3 L130.6,450.8 L132.4,447.3 L134.2,443.8 L136.1,440.4 L138.0,437.0 L139.9,433.6 L141.8,430.2 L143.8,426.9 L145.8,423.6 L147.8,420.4 L149.9,417.1 L151.9,414.0 L154.0,410.8 L156.2,407.7 L158.3,404.7 L160.5,401.6 L162.7,398.7 L165.0,395.7 L167.3,392.9 L169.6,390.0 L171.9,387.3 L174.2,384.5 L176.6,381.8 L179.0,379.2 L181.5,376.6 L184.0,374.1 L186.4,371.6 L189.0,369.1 L191.5,366.7 L194.1,364.3 L196.7,362.0 L199.3,359.7 L202.0,357.4 L204.7,355.2 L207.4,352.9 L210.2,350.7 L212.9,348.6 L215.7,346.4 L218.6,344.3 L221.4,342.2 L224.3,340.1 L227.2,338.0 L230.2,336.0 L233.1,334.0 L236.1,331.9 L239.2,329.9 L242.2,327.9 L245.3,325.9 L248.4,323.9 L251.6,322.0 L254.7,320.0 L257.9,318.1 L261.1,316.1 L264.4,314.2 L267.7,312.4 L271.0,310.5 L274.3,308.6 L277.7,306.8 L281.0,305.0 L284.5,303.2 L287.9,301.4 L291.4,299.7 L294.9,297.9 L298.4,296.2 L302.0,294.6 L305.5,292.9 L309.2,291.3 L312.8,289.7 L316.5,288.1 L320.2,286.5 L323.9,285.0 L327.6,283.5 L331.4,282.0 L335.2,280.6 L339.1,279.2 L342.9,277.8 L346.8,276.4 L350.7,275.1 L354.7,273.8 L358.6,272.5 L362.6,271.2 L366.7,270.0 L370.7,268.8 L374.8,267.7 L378.9,266.5 L383.1,265.4 L387.2,264.3 L391.4,263.3 L395.7,262.3 L399.9,261.3 L404.2,260.3 L408.5,259.4 L412.8,258.5 L417.2,257.6 L421.6,256.8 L426.0,256.0 L430.5,255.2 L434.9,254.5 L439.4,253.8 L444.0,253.1 L448.5,252.4 L453.1,251.8 L457.7,251.2 L462.4,250.6 L467.1,250.0 L471.8,249.5 L476.5,249.0 L481.2,248.5 L486.0,248.0 L490.8,247.5 L495.7,247.1 L500.5,246.7 L505.4,246.3 L510.4,245.9 L515.3,245.5 L520.3,245.2 L525.3,244.8 L530.3,244.5 L535.4,244.2 L540.5,243.9 L545.6,243.6 L550.7,243.3 L555.9,243.1 L561.1,242.8 L566.3,242.6 L571.6,242.3 L576.9,242.1 L582.2,241.9 L587.5,241.7 L592.9,241.5 L598.3,241.3 L603.7,241.1 L609.2,240.9 L614.7,240.7 L620.2,240.5 L625.7,240.3 L631.3,240.2 L636.9,240.0 L642.5,239.8 L648.1,239.7 L653.8,239.5 L659.5,239.3 L665.2,239.2 L671.0,239.0 L676.8,238.8 L682.6,238.7 L688.4,238.5 L694.3,238.3 L700.2,238.1 L706.1,237.9 L712.1,237.7 L718.1,237.5 L724.1,237.3 L730.1,237.1 L736.2,236.9 L742.3,236.6 L748.4,236.4 L754.5,236.1 L760.7,235.9 L766.9,235.6 L773.2,235.3 L779.4,235.0 L785.7,234.7 L792.0,234.4 L798.4,234.1 L804.7,233.7 L811.1,233.4 L817.6,233.0 L824.0,232.6 L830.5,232.2 L837.0,231.8 L843.6,231.4 L850.1,231.0 L856.7,230.5 L863.3,230.1 L870.0,229.6"/>
</g>
<clipPath id="cr"><rect x="991.2" y="19.0" width="785.8" height="623.0"/></clipPath>
<g clip-path="url(#cr)">
<path class="c" stroke="#000000" d="M992.2,641.0 L992.5,636.5 L992.8,632.2 L993.1,627.9 L993.4,623.7 L993.7,619.5 L994.0,615.4 L994.4,611.4 L994.7,607.4 L995.0,603.3 L995.4,599.3 L995.7,595.3 L996.1,591.2 L996.4,587.1 L996.8,583.0 L997.2,578.8 L997.7,574.5 L998.1,570.1 L998.6,565.6 L999.1,561.0 L999.6,556.3 L1000.1,551.4 L1000.7,546.4 L1001.3,541.3 L1001.9,536.1 L1002.6,530.8 L1003.2,525.4 L1003.9,520.0 L1004.6,514.4 L1005.3,508.7 L1006.0,503.0 L1006.8,497.2 L1007.6,491.4 L1008.4,485.5 L1009.2,479.5 L1010.0,473.6 L1010.8,467.5 L1011.6,461.5 L1012.5,455.4 L1013.4,449.4 L1014.2,443.3 L1015.1,437.2 L1016.0,431.1 L1016.9,425.0 L1017.8,419.0 L1018.8,412.9 L1019.7,406.9 L1020.6,400.9 L1021.5,395.0 L1022.5,389.1 L1023.4,383.3 L1024.4,377.5 L1025.3,371.7 L1026.3,366.0 L1027.2,360.3 L1028.1,354.7 L1029.1,349.2 L1030.0,343.7 L1031.0,338.3 L1031.9,333.0 L1032.8,327.7 L1033.7,322.5 L1034.7,317.4 L1035.6,312.4 L1036.5,307.4 L1037.4,302.6 L1038.3,297.8 L1039.1,293.1 L1040.0,288.5 L1040.8,284.0 L1041.7,279.6 L1042.5,275.3 L1043.3,271.1 L1044.2,267.0 L1045.0,263.0 L1045.9,259.0 L1046.9,255.0 L1047.9,251.0 L1049.0,247.1 L1050.1,243.1 L1051.4,239.1 L1052.8,235.1 L1054.3,231.0 L1055.8,227.0 L1057.5,222.9 L1059.2,218.9 L1061.0,214.9 L1062.8,211.0 L1064.8,207.1 L1066.7,203.3 L1068.7,199.6 L1070.7,196.0 L1072.8,192.5 L1074.8,189.1 L1076.9,185.9 L1079.0,182.8 L1081.1,179.9 L1083.1,177.2 L1085.1,174.7 L1087.1,172.4 L1089.1,170.3 L1091.1,168.4 L1093.0,166.6 L1095.0,164.9 L1097.1,163.2 L1099.2,161.7 L1101.3,160.1 L1103.5,158.6 L1105.8,157.1 L1108.2,155.7 L1110.6,154.2 L1113.1,152.8 L1115.6,151.4 L1118.2,150.1 L1120.8,148.7 L1123.5,147.4 L1126.3,146.2 L1129.1,144.9 L1131.9,143.7 L1134.8,142.5 L1137.7,141.3 L1140.7,140.2 L1143.7,139.1 L1146.7,138.0 L1149.8,137.0 L1152.9,135.9 L1156.0,135.0 L1159.2,134.0 L1162.4,133.1 L1165.6,132.2 L1168.9,131.3 L1172.2,130.5 L1175.5,129.7 L1178.9,128.9 L1182.3,128.1 L1185.7,127.4 L1189.1,126.7 L1192.6,126.0 L1196.1,125.3 L1199.6,124.6 L1203.2,124.0 L1206.8,123.4 L1210.4,122.8 L1214.1,122.2 L1217.8,121.6 L1221.5,121.1 L1225.2,120.5 L1229.0,120.0 L1232.8,119.5 L1236.6,119.0 L1240.5,118.5 L1244.4,118.0 L1248.3,117.6 L1252.3,117.1 L1256.2,116.6 L1260.3,116.2 L1264.3,115.7 L1268.4,115.3 L1272.5,114.9 L1276.6,114.4 L1280.8,114.0 L1284.9,113.6 L1289.1,113.1 L1293.4,112.7 L1297.6,112.3 L1301.9,111.9 L1306.1,111.5 L1310.4,111.1 L1314.7,110.7 L1319.0,110.3 L1323.3,109.9 L1327.6,109.6 L1332.0,109.2 L1336.3,108.8 L1340.6,108.5 L1344.9,108.1 L1349.2,107.8 L1353.5,107.4 L1357.8,107.1 L1362.1,106.8 L1366.4,106.5 L1370.7,106.2 L1374.9,105.9 L1379.2,105.6 L1383.4,105.4 L1387.6,105.1 L1391.7,104.9 L1395.9,104.6 L1400.0,104.4 L1404.1,104.2 L1408.2,104.0 L1412.3,103.8 L1416.6,103.6 L1420.9,103.5 L1425.3,103.3 L1429.9,103.2 L1434.6,103.1 L1439.6,103.0 L1444.8,102.9 L1450.1,102.8 L1455.7,102.8 L1461.5,102.8 L1467.4,102.7 L1473.4,102.7 L1479.5,102.7 L1485.8,102.7 L1492.1,102.7 L1498.5,102.8 L1504.9,102.8 L1511.3,102.8 L1517.8,102.8 L1524.2,102.8 L1530.5,102.8 L1536.9,102.8 L1543.2,102.8 L1549.4,102.9 L1555.6,102.9 L1561.7,102.9 L1567.8,102.9 L1573.8,102.9 L1579.7,102.9 L1585.6,103.0 L1591.4,103.0 L1597.1,103.0 L1602.8,103.1 L1608.4,103.2 L1613.9,103.3 L1619.4,103.4 L1624.7,103.5 L1630.0,103.6 L1635.2,103.8 L1640.4,104.0 L1645.5,104.1 L1650.6,104.3 L1655.6,104.5 L1660.6,104.7 L1665.5,104.9 L1670.4,105.2 L1675.3,105.4 L1680.1,105.6 L1684.9,105.9 L1689.7,106.1 L1694.4,106.4 L1699.2,106.7 L1703.9,107.0 L1708.6,107.2 L1713.4,107.5 L1718.1,107.8 L1722.8,108.1 L1727.6,108.4 L1732.3,108.7 L1737.1,109.0 L1741.9,109.3 L1746.7,109.6 L1751.6,109.9 L1756.5,110.3 L1761.4,110.6 L1766.4,110.9 L1771.4,111.2 L1776.4,111.5"/>
<path class="c" stroke="#000000" d="M992.2,641.0 L992.4,637.2 L992.6,633.5 L992.9,629.8 L993.1,626.2 L993.4,622.6 L993.7,619.1 L993.9,615.5 L994.2,612.1 L994.6,608.6 L994.9,605.1 L995.2,601.7 L995.5,598.2 L995.9,594.7 L996.2,591.2 L996.6,587.6 L997.0,584.0 L997.3,580.3 L997.7,576.6 L998.1,572.9 L998.5,569.0 L998.9,565.1 L999.3,561.1 L999.8,556.9 L1000.2,552.7 L1000.6,548.4 L1001.1,544.0 L1001.5,539.5 L1002.0,535.0 L1002.5,530.3 L1003.0,525.6 L1003.5,520.9 L1004.0,516.1 L1004.6,511.2 L1005.1,506.3 L1005.7,501.3 L1006.4,496.3 L1007.0,491.3 L1007.7,486.2 L1008.4,481.1 L1009.1,476.0 L1009.9,470.9 L1010.6,465.8 L1011.4,460.6 L1012.2,455.5 L1013.0,450.3 L1013.9,445.1 L1014.7,439.9 L1015.6,434.7 L1016.4,429.6 L1017.3,424.4 L1018.2,419.2 L1019.1,414.1 L1020.0,408.9 L1020.9,403.8 L1021.7,398.7 L1022.6,393.6 L1023.5,388.5 L1024.4,383.5 L1025.3,378.5 L1026.1,373.5 L1027.0,368.6 L1027.8,363.7 L1028.6,358.8 L1029.5,354.0 L1030.3,349.2 L1031.0,344.5 L1031.8,339.8 L1032.5,335.2 L1033.3,330.6 L1033.9,326.1 L1034.6,321.6 L1035.3,317.2 L1035.9,312.9 L1036.6,308.6 L1037.2,304.4 L1037.8,300.2 L1038.5,296.1 L1039.1,292.0 L1039.7,288.0 L1040.4,284.0 L1041.1,280.1 L1041.8,276.2 L1042.5,272.4 L1043.3,268.6 L1044.1,264.9 L1044.9,261.2 L1045.8,257.6 L1046.7,254.0 L1047.6,250.4 L1048.6,246.9 L1049.7,243.4 L1050.8,240.0 L1052.0,236.6 L1053.2,233.3 L1054.5,230.0 L1055.9,226.7 L1057.4,223.5 L1058.9,220.3 L1060.6,217.1 L1062.3,214.0 L1064.1,210.9 L1066.0,207.8 L1068.0,204.8 L1070.1,201.8 L1072.3,198.8 L1074.6,195.9 L1077.0,193.0 L1079.5,190.2 L1082.1,187.4 L1084.8,184.6 L1087.6,181.9 L1090.4,179.2 L1093.4,176.7 L1096.3,174.1 L1099.4,171.7 L1102.5,169.3 L1105.7,167.0 L1108.9,164.8 L1112.2,162.6 L1115.6,160.5 L1118.9,158.6 L1122.4,156.7 L1125.8,154.9 L1129.3,153.2 L1132.8,151.6 L1136.3,150.2 L1139.8,148.8 L1143.4,147.6 L1146.9,146.5 L1150.5,145.5 L1154.1,144.5 L1157.7,143.7 L1161.3,143.0 L1164.9,142.4 L1168.5,141.9 L1172.1,141.4 L1175.7,141.0 L1179.4,140.7 L1183.0,140.5 L1186.6,140.3 L1190.3,140.1 L1194.0,140.0 L1197.6,140.0 L1201.3,139.9 L1205.0,139.9 L1208.7,139.9 L1212.3,140.0 L1216.0,140.0 L1219.7,140.1 L1223.4,140.1 L1227.1,140.2 L1230.8,140.2 L1234.6,140.3 L1238.3,140.3 L1242.2,140.3 L1246.0,140.3 L1249.9,140.2 L1253.9,140.2 L1258.0,140.1 L1262.2,140.0 L1266.4,139.9 L1270.8,139.7 L1275.3,139.5 L1279.9,139.2 L1284.6,139.0 L1289.5,138.7 L1294.4,138.4 L1299.4,138.0 L1304.5,137.7 L1309.6,137.3 L1314.8,136.9 L1320.0,136.6 L1325.3,136.2 L1330.7,135.7 L1336.0,135.3 L1341.4,134.9 L1346.8,134.5 L1352.1,134.1 L1357.5,133.7 L1362.8,133.4 L1368.2,133.0 L1373.5,132.6 L1378.8,132.3 L1384.1,131.9 L1389.5,131.6 L1394.8,131.3 L1400.0,131.0 L1405.3,130.7 L1410.6,130.4 L1415.9,130.2 L1421.2,129.9 L1426.4,129.7 L1431.7,129.5 L1437.0,129.3 L1442.3,129.1 L1447.5,129.0 L1452.8,128.8 L1458.1,128.7 L1463.3,128.6 L1468.6,128.5 L1473.9,128.5 L1479.1,128.4 L1484.4,128.4 L1489.7,128.3 L1494.9,128.3 L1500.2,128.3 L1505.5,128.3 L1510.7,128.3 L1516.0,128.4 L1521.2,128.4 L1526.5,128.4 L1531.8,128.5 L1537.0,128.5 L1542.3,128.6 L1547.5,128.7 L1552.8,128.8 L1558.0,128.8 L1563.3,128.9 L1568.5,129.0 L1573.8,129.1 L1579.0,129.2 L1584.3,129.3 L1589.5,129.4 L1594.7,129.5 L1600.0,129.6 L1605.2,129.7 L1610.4,129.8 L1615.7,129.9 L1620.9,130.0 L1626.1,130.1 L1631.3,130.1 L1636.6,130.2 L1641.8,130.3 L1647.0,130.3 L1652.2,130.4 L1657.4,130.4 L1662.6,130.5 L1667.8,130.5 L1673.0,130.5 L1678.2,130.5 L1683.4,130.5 L1688.6,130.5 L1693.8,130.5 L1699.0,130.5 L1704.2,130.4 L1709.4,130.3 L1714.6,130.3 L1719.7,130.2 L1724.9,130.1 L1730.1,129.9 L1735.2,129.8 L1740.4,129.6 L1745.6,129.4 L1750.7,129.2 L1755.9,129.0 L1761.0,128.8 L1766.1,128.5 L1771.3,128.2 L1776.4,127.9"/>
<path class="c" stroke="#000000" d="M992.2,641.0 L992.5,637.7 L992.7,634.4 L993.0,631.1 L993.3,627.7 L993.5,624.3 L993.8,620.8 L994.1,617.3 L994.4,613.8 L994.7,610.2 L995.0,606.6 L995.3,602.9 L995.6,599.2 L995.9,595.5 L996.3,591.7 L996.6,587.9 L996.9,584.1 L997.3,580.2 L997.7,576.2 L998.0,572.3 L998.4,568.2 L998.8,564.2 L999.3,560.0 L999.7,555.9 L1000.1,551.7 L1000.6,547.4 L1001.0,543.1 L1001.5,538.7 L1002.0,534.3 L1002.5,529.9 L1003.1,525.4 L1003.6,520.8 L1004.2,516.2 L1004.8,511.6 L1005.4,506.9 L1006.0,502.1 L1006.6,497.3 L1007.3,492.4 L1008.0,487.5 L1008.7,482.5 L1009.4,477.5 L1010.1,472.4 L1010.9,467.3 L1011.6,462.2 L1012.4,457.1 L1013.2,451.9 L1014.0,446.7 L1014.8,441.4 L1015.7,436.2 L1016.5,430.9 L1017.3,425.7 L1018.2,420.4 L1019.0,415.2 L1019.9,409.9 L1020.7,404.7 L1021.6,399.5 L1022.4,394.3 L1023.3,389.1 L1024.1,384.0 L1025.0,378.9 L1025.8,373.8 L1026.7,368.8 L1027.5,363.8 L1028.3,358.9 L1029.1,354.0 L1029.9,349.2 L1030.7,344.4 L1031.5,339.7 L1032.3,335.1 L1033.0,330.6 L1033.8,326.1 L1034.5,321.7 L1035.2,317.4 L1035.9,313.1 L1036.6,308.9 L1037.3,304.8 L1038.0,300.8 L1038.7,296.8 L1039.4,292.8 L1040.2,288.9 L1040.9,285.1 L1041.7,281.3 L1042.4,277.6 L1043.2,273.9 L1044.1,270.2 L1044.9,266.6 L1045.8,263.0 L1046.7,259.4 L1047.6,255.9 L1048.6,252.4 L1049.7,248.9 L1050.7,245.4 L1051.9,242.0 L1053.1,238.6 L1054.3,235.1 L1055.6,231.7 L1056.9,228.3 L1058.4,225.0 L1059.9,221.7 L1061.5,218.4 L1063.1,215.2 L1064.9,212.0 L1066.8,208.9 L1068.7,205.9 L1070.8,202.9 L1073.0,200.0 L1075.3,197.2 L1077.7,194.5 L1080.3,191.9 L1082.9,189.3 L1085.6,186.8 L1088.5,184.4 L1091.4,182.1 L1094.3,179.9 L1097.4,177.7 L1100.5,175.6 L1103.7,173.6 L1107.0,171.7 L1110.3,169.8 L1113.6,168.1 L1117.0,166.4 L1120.5,164.7 L1123.9,163.2 L1127.4,161.7 L1130.9,160.3 L1134.5,159.0 L1138.0,157.7 L1141.6,156.5 L1145.1,155.4 L1148.7,154.3 L1152.2,153.3 L1155.8,152.4 L1159.4,151.5 L1162.9,150.7 L1166.5,150.0 L1170.1,149.3 L1173.6,148.6 L1177.2,148.0 L1180.8,147.4 L1184.4,146.9 L1188.0,146.4 L1191.6,146.0 L1195.2,145.6 L1198.8,145.2 L1202.4,144.9 L1206.1,144.5 L1209.7,144.2 L1213.4,143.9 L1217.0,143.7 L1220.7,143.4 L1224.4,143.2 L1228.1,142.9 L1231.9,142.7 L1235.6,142.5 L1239.4,142.3 L1243.3,142.1 L1247.1,141.9 L1251.1,141.6 L1255.1,141.4 L1259.3,141.2 L1263.5,140.9 L1267.8,140.7 L1272.2,140.4 L1276.7,140.1 L1281.4,139.8 L1286.1,139.5 L1290.9,139.2 L1295.8,138.9 L1300.8,138.5 L1305.9,138.2 L1311.0,137.8 L1316.2,137.5 L1321.4,137.1 L1326.6,136.8 L1331.9,136.4 L1337.2,136.1 L1342.6,135.7 L1347.9,135.4 L1353.2,135.1 L1358.6,134.8 L1363.9,134.5 L1369.2,134.2 L1374.5,133.9 L1379.8,133.6 L1385.1,133.3 L1390.4,133.1 L1395.7,132.9 L1401.0,132.6 L1406.3,132.4 L1411.6,132.2 L1416.8,132.0 L1422.1,131.8 L1427.4,131.7 L1432.7,131.5 L1437.9,131.4 L1443.2,131.2 L1448.5,131.1 L1453.7,131.0 L1459.0,130.9 L1464.2,130.9 L1469.5,130.8 L1474.8,130.7 L1480.0,130.7 L1485.3,130.6 L1490.5,130.6 L1495.8,130.6 L1501.0,130.6 L1506.3,130.6 L1511.5,130.6 L1516.8,130.6 L1522.0,130.6 L1527.3,130.7 L1532.5,130.7 L1537.8,130.8 L1543.0,130.8 L1548.2,130.9 L1553.5,130.9 L1558.7,131.0 L1563.9,131.1 L1569.2,131.2 L1574.4,131.3 L1579.6,131.4 L1584.8,131.5 L1590.1,131.6 L1595.3,131.7 L1600.5,131.8 L1605.7,131.9 L1610.9,132.0 L1616.1,132.2 L1621.4,132.3 L1626.6,132.4 L1631.8,132.5 L1637.0,132.7 L1642.2,132.8 L1647.4,132.9 L1652.6,133.1 L1657.8,133.2 L1663.0,133.3 L1668.1,133.5 L1673.3,133.6 L1678.5,133.7 L1683.7,133.9 L1688.9,134.0 L1694.0,134.1 L1699.2,134.3 L1704.4,134.4 L1709.5,134.5 L1714.7,134.6 L1719.9,134.7 L1725.0,134.8 L1730.2,135.0 L1735.3,135.1 L1740.5,135.2 L1745.6,135.2 L1750.8,135.3 L1755.9,135.4 L1761.0,135.5 L1766.2,135.6 L1771.3,135.6 L1776.4,135.7"/>
<path class="c" stroke="#000000" d="M992.2,641.0 L992.4,637.3 L992.7,633.6 L992.9,629.9 L993.2,626.4 L993.5,622.8 L993.7,619.3 L994.0,615.8 L994.3,612.3 L994.6,608.8 L994.9,605.4 L995.2,601.9 L995.6,598.4 L995.9,594.9 L996.3,591.4 L996.6,587.8 L997.0,584.2 L997.4,580.5 L997.7,576.8 L998.1,573.1 L998.5,569.2 L999.0,565.3 L999.4,561.3 L999.8,557.3 L1000.3,553.1 L1000.7,548.9 L1001.2,544.5 L1001.7,540.1 L1002.2,535.7 L1002.7,531.1 L1003.2,526.5 L1003.7,521.8 L1004.3,517.1 L1004.9,512.3 L1005.5,507.4 L1006.1,502.5 L1006.7,497.6 L1007.4,492.6 L1008.0,487.6 L1008.7,482.6 L1009.4,477.5 L1010.2,472.4 L1010.9,467.2 L1011.7,462.1 L1012.4,456.9 L1013.2,451.7 L1014.0,446.5 L1014.8,441.3 L1015.7,436.1 L1016.5,430.9 L1017.3,425.7 L1018.2,420.5 L1019.0,415.3 L1019.9,410.1 L1020.7,405.0 L1021.6,399.8 L1022.5,394.7 L1023.3,389.6 L1024.2,384.5 L1025.0,379.5 L1025.9,374.5 L1026.7,369.5 L1027.6,364.6 L1028.4,359.7 L1029.2,354.9 L1030.1,350.1 L1030.9,345.4 L1031.7,340.7 L1032.4,336.1 L1033.2,331.6 L1034.0,327.1 L1034.7,322.7 L1035.4,318.4 L1036.2,314.1 L1036.9,309.9 L1037.6,305.8 L1038.3,301.7 L1039.0,297.6 L1039.8,293.7 L1040.5,289.7 L1041.3,285.8 L1042.1,282.0 L1042.9,278.2 L1043.7,274.5 L1044.5,270.8 L1045.4,267.1 L1046.3,263.5 L1047.2,259.9 L1048.2,256.3 L1049.2,252.8 L1050.3,249.3 L1051.4,245.9 L1052.6,242.4 L1053.8,239.0 L1055.1,235.6 L1056.4,232.3 L1057.8,228.9 L1059.2,225.6 L1060.8,222.4 L1062.4,219.2 L1064.1,216.1 L1065.9,213.1 L1067.8,210.1 L1069.8,207.2 L1071.9,204.4 L1074.1,201.6 L1076.5,199.0 L1078.9,196.5 L1081.5,194.0 L1084.1,191.7 L1086.9,189.4 L1089.7,187.3 L1092.6,185.2 L1095.6,183.2 L1098.7,181.2 L1101.9,179.4 L1105.1,177.6 L1108.3,175.9 L1111.7,174.2 L1115.0,172.6 L1118.4,171.1 L1121.9,169.6 L1125.3,168.2 L1128.8,166.9 L1132.3,165.6 L1135.9,164.3 L1139.4,163.1 L1143.0,161.9 L1146.5,160.8 L1150.0,159.7 L1153.6,158.7 L1157.1,157.7 L1160.7,156.7 L1164.2,155.8 L1167.8,154.9 L1171.3,154.0 L1174.9,153.2 L1178.4,152.4 L1182.0,151.7 L1185.6,150.9 L1189.2,150.2 L1192.7,149.6 L1196.3,148.9 L1199.9,148.3 L1203.5,147.8 L1207.2,147.2 L1210.8,146.7 L1214.4,146.2 L1218.1,145.8 L1221.7,145.3 L1225.4,144.9 L1229.1,144.5 L1232.8,144.1 L1236.5,143.8 L1240.3,143.5 L1244.2,143.1 L1248.1,142.8 L1252.0,142.6 L1256.1,142.3 L1260.2,142.0 L1264.4,141.7 L1268.7,141.5 L1273.2,141.2 L1277.7,140.9 L1282.3,140.7 L1287.1,140.4 L1291.9,140.1 L1296.9,139.9 L1301.9,139.6 L1306.9,139.3 L1312.1,139.1 L1317.2,138.8 L1322.5,138.5 L1327.7,138.3 L1333.0,138.0 L1338.3,137.7 L1343.7,137.5 L1349.0,137.2 L1354.3,136.9 L1359.6,136.7 L1365.0,136.4 L1370.3,136.2 L1375.6,135.9 L1380.9,135.7 L1386.2,135.4 L1391.4,135.2 L1396.7,135.0 L1402.0,134.7 L1407.3,134.5 L1412.5,134.3 L1417.8,134.1 L1423.0,133.9 L1428.3,133.7 L1433.5,133.5 L1438.8,133.4 L1444.0,133.2 L1449.3,133.1 L1454.5,133.0 L1459.8,132.8 L1465.0,132.7 L1470.3,132.6 L1475.5,132.6 L1480.8,132.5 L1486.0,132.4 L1491.3,132.4 L1496.5,132.3 L1501.7,132.3 L1507.0,132.3 L1512.2,132.3 L1517.5,132.3 L1522.7,132.3 L1527.9,132.3 L1533.2,132.3 L1538.4,132.4 L1543.6,132.4 L1548.8,132.5 L1554.1,132.5 L1559.3,132.6 L1564.5,132.7 L1569.7,132.8 L1574.9,132.9 L1580.2,133.0 L1585.4,133.1 L1590.6,133.3 L1595.8,133.4 L1601.0,133.5 L1606.2,133.7 L1611.4,133.9 L1616.6,134.0 L1621.8,134.2 L1627.0,134.4 L1632.2,134.6 L1637.4,134.8 L1642.6,135.0 L1647.8,135.2 L1652.9,135.4 L1658.1,135.7 L1663.3,135.9 L1668.5,136.2 L1673.6,136.4 L1678.8,136.7 L1684.0,137.0 L1689.1,137.2 L1694.3,137.5 L1699.5,137.8 L1704.6,138.1 L1709.8,138.4 L1714.9,138.7 L1720.0,139.0 L1725.2,139.3 L1730.3,139.6 L1735.5,140.0 L1740.6,140.3 L1745.7,140.7 L1750.8,141.0 L1756.0,141.3 L1761.1,141.7 L1766.2,142.1 L1771.3,142.4 L1776.4,142.8"/>
<path class="c" stroke="#000000" d="M992.2,641.0 L992.5,637.7 L992.7,634.4 L993.0,631.0 L993.3,627.6 L993.6,624.2 L993.9,620.8 L994.1,617.3 L994.4,613.8 L994.7,610.2 L995.0,606.6 L995.4,603.0 L995.7,599.3 L996.0,595.6 L996.3,591.9 L996.7,588.1 L997.0,584.3 L997.4,580.4 L997.8,576.5 L998.1,572.6 L998.5,568.6 L998.9,564.5 L999.4,560.5 L999.8,556.3 L1000.2,552.2 L1000.7,547.9 L1001.2,543.7 L1001.6,539.3 L1002.1,535.0 L1002.7,530.6 L1003.2,526.1 L1003.7,521.6 L1004.3,517.0 L1004.9,512.4 L1005.5,507.7 L1006.1,503.0 L1006.7,498.2 L1007.4,493.4 L1008.1,488.5 L1008.8,483.5 L1009.5,478.5 L1010.2,473.5 L1010.9,468.4 L1011.7,463.3 L1012.5,458.2 L1013.3,453.0 L1014.1,447.8 L1014.9,442.6 L1015.7,437.3 L1016.5,432.1 L1017.4,426.8 L1018.2,421.6 L1019.1,416.3 L1019.9,411.1 L1020.8,405.9 L1021.6,400.7 L1022.5,395.5 L1023.3,390.3 L1024.2,385.1 L1025.1,380.0 L1025.9,375.0 L1026.7,369.9 L1027.6,365.0 L1028.4,360.0 L1029.2,355.2 L1030.1,350.3 L1030.9,345.6 L1031.7,340.9 L1032.4,336.3 L1033.2,331.8 L1034.0,327.3 L1034.7,322.9 L1035.4,318.6 L1036.2,314.4 L1036.9,310.3 L1037.6,306.2 L1038.4,302.1 L1039.1,298.2 L1039.8,294.3 L1040.6,290.4 L1041.4,286.6 L1042.2,282.8 L1043.0,279.1 L1043.8,275.4 L1044.7,271.8 L1045.6,268.2 L1046.6,264.6 L1047.6,261.1 L1048.6,257.5 L1049.7,254.0 L1050.8,250.5 L1052.0,247.0 L1053.2,243.6 L1054.5,240.1 L1055.9,236.6 L1057.3,233.2 L1058.8,229.8 L1060.3,226.4 L1061.9,223.1 L1063.6,219.8 L1065.4,216.6 L1067.3,213.5 L1069.2,210.6 L1071.2,207.7 L1073.3,205.0 L1075.5,202.4 L1077.7,200.0 L1080.1,197.7 L1082.5,195.6 L1085.1,193.6 L1087.7,191.7 L1090.4,190.0 L1093.2,188.2 L1096.1,186.6 L1099.1,185.0 L1102.3,183.4 L1105.5,181.9 L1108.7,180.4 L1112.1,178.9 L1115.5,177.4 L1119.0,176.0 L1122.5,174.6 L1126.1,173.2 L1129.7,171.9 L1133.4,170.6 L1137.0,169.3 L1140.6,168.0 L1144.3,166.8 L1147.9,165.6 L1151.5,164.5 L1155.1,163.4 L1158.7,162.3 L1162.3,161.2 L1165.9,160.2 L1169.5,159.2 L1173.1,158.3 L1176.6,157.3 L1180.2,156.4 L1183.8,155.6 L1187.3,154.7 L1190.9,153.9 L1194.4,153.1 L1198.0,152.4 L1201.5,151.7 L1205.1,151.0 L1208.6,150.3 L1212.2,149.7 L1215.7,149.1 L1219.2,148.5 L1222.8,148.0 L1226.3,147.5 L1229.9,147.0 L1233.5,146.5 L1237.1,146.1 L1240.7,145.7 L1244.4,145.3 L1248.2,144.9 L1252.1,144.5 L1256.0,144.2 L1260.1,143.8 L1264.2,143.5 L1268.5,143.2 L1273.0,142.9 L1277.6,142.6 L1282.3,142.3 L1287.1,142.0 L1292.0,141.7 L1297.1,141.5 L1302.2,141.3 L1307.4,141.0 L1312.7,140.8 L1318.0,140.6 L1323.3,140.5 L1328.7,140.3 L1334.1,140.2 L1339.6,140.1 L1345.0,140.0 L1350.4,140.0 L1355.8,140.0 L1361.2,140.0 L1366.5,140.0 L1371.8,140.1 L1377.1,140.2 L1382.4,140.3 L1387.6,140.5 L1392.9,140.6 L1398.1,140.8 L1403.3,141.0 L1408.5,141.2 L1413.7,141.4 L1418.9,141.6 L1424.1,141.8 L1429.2,142.0 L1434.4,142.2 L1439.6,142.5 L1444.8,142.7 L1449.9,142.9 L1455.1,143.1 L1460.3,143.3 L1465.5,143.5 L1470.7,143.8 L1475.9,144.0 L1481.1,144.2 L1486.3,144.4 L1491.5,144.5 L1496.8,144.7 L1502.0,144.9 L1507.2,145.1 L1512.4,145.3 L1517.6,145.5 L1522.8,145.6 L1528.1,145.8 L1533.3,146.0 L1538.5,146.1 L1543.7,146.3 L1548.9,146.5 L1554.2,146.6 L1559.4,146.8 L1564.6,146.9 L1569.8,147.0 L1575.1,147.2 L1580.3,147.3 L1585.5,147.4 L1590.7,147.6 L1595.9,147.7 L1601.2,147.8 L1606.4,147.9 L1611.6,148.0 L1616.8,148.1 L1622.0,148.2 L1627.2,148.3 L1632.4,148.4 L1637.6,148.5 L1642.8,148.6 L1648.0,148.7 L1653.2,148.7 L1658.4,148.8 L1663.6,148.9 L1668.8,148.9 L1674.0,149.0 L1679.1,149.0 L1684.3,149.1 L1689.5,149.1 L1694.6,149.1 L1699.8,149.2 L1704.9,149.2 L1710.1,149.2 L1715.2,149.2 L1720.4,149.2 L1725.5,149.2 L1730.6,149.2 L1735.7,149.2 L1740.8,149.2 L1745.9,149.2 L1751.0,149.2 L1756.1,149.2 L1761.2,149.1 L1766.3,149.1 L1771.3,149.0 L1776.4,149.0"/>
<path class="c" stroke="#000000" d="M992.2,641.0 L992.5,636.5 L992.7,632.1 L993.0,627.9 L993.3,623.7 L993.6,619.7 L994.0,615.7 L994.3,611.9 L994.6,608.0 L995.0,604.2 L995.3,600.5 L995.7,596.7 L996.1,592.9 L996.5,589.1 L996.9,585.3 L997.3,581.3 L997.8,577.3 L998.2,573.3 L998.7,569.1 L999.2,564.8 L999.7,560.3 L1000.2,555.7 L1000.7,550.9 L1001.3,546.0 L1001.9,541.0 L1002.5,535.9 L1003.1,530.7 L1003.7,525.3 L1004.3,519.9 L1005.0,514.4 L1005.7,508.9 L1006.3,503.3 L1007.1,497.6 L1007.8,491.9 L1008.5,486.2 L1009.3,480.5 L1010.1,474.7 L1010.9,469.0 L1011.7,463.2 L1012.5,457.4 L1013.4,451.6 L1014.2,445.8 L1015.1,440.0 L1016.0,434.2 L1016.9,428.4 L1017.8,422.7 L1018.7,416.9 L1019.6,411.2 L1020.5,405.4 L1021.5,399.7 L1022.4,394.1 L1023.4,388.4 L1024.3,382.8 L1025.3,377.2 L1026.2,371.7 L1027.2,366.2 L1028.2,360.7 L1029.1,355.3 L1030.1,350.0 L1031.1,344.7 L1032.0,339.5 L1033.0,334.3 L1034.0,329.2 L1034.9,324.1 L1035.9,319.1 L1036.8,314.2 L1037.8,309.4 L1038.7,304.6 L1039.6,300.0 L1040.6,295.4 L1041.5,290.9 L1042.4,286.5 L1043.3,282.2 L1044.2,278.0 L1045.1,273.9 L1045.9,269.9 L1046.9,265.9 L1047.8,262.0 L1048.8,258.1 L1049.8,254.3 L1051.0,250.5 L1052.2,246.6 L1053.5,242.8 L1055.0,238.9 L1056.5,235.0 L1058.2,231.0 L1060.1,227.1 L1062.0,223.2 L1064.1,219.5 L1066.2,215.8 L1068.5,212.3 L1070.9,209.0 L1073.3,206.0 L1075.9,203.1 L1078.5,200.6 L1081.2,198.4 L1084.1,196.3 L1087.0,194.5 L1090.0,192.9 L1093.1,191.4 L1096.3,189.9 L1099.6,188.4 L1103.0,187.0 L1106.5,185.5 L1110.2,183.9 L1113.9,182.4 L1117.7,180.8 L1121.5,179.2 L1125.5,177.6 L1129.5,176.1 L1133.5,174.5 L1137.6,172.9 L1141.7,171.4 L1145.9,169.8 L1150.1,168.3 L1154.2,166.8 L1158.4,165.4 L1162.6,164.0 L1166.8,162.7 L1171.0,161.4 L1175.1,160.2 L1179.3,159.0 L1183.3,157.9 L1187.4,156.9 L1191.3,156.0 L1195.3,155.1 L1199.2,154.3 L1203.1,153.5 L1206.9,152.9 L1210.8,152.2 L1214.6,151.6 L1218.5,151.0 L1222.3,150.5 L1226.2,150.0 L1230.1,149.5 L1234.1,149.0 L1238.1,148.6 L1242.2,148.1 L1246.4,147.6 L1250.8,147.1 L1255.2,146.7 L1259.9,146.1 L1264.7,145.6 L1269.8,145.0 L1275.0,144.4 L1280.5,143.8 L1286.1,143.1 L1291.8,142.4 L1297.7,141.7 L1303.7,141.0 L1309.7,140.2 L1315.7,139.4 L1321.7,138.6 L1327.7,137.8 L1333.6,137.0 L1339.4,136.2 L1345.1,135.3 L1350.7,134.5 L1356.0,133.7 L1361.2,132.8 L1366.1,132.0 L1370.9,131.2 L1375.4,130.4 L1379.8,129.6 L1384.0,128.9 L1388.0,128.1 L1391.8,127.5 L1395.4,126.8 L1398.9,126.2 L1402.1,125.6 L1405.3,125.0 L1408.3,124.5 L1411.2,124.0 L1414.1,123.5 L1416.9,123.0 L1419.6,122.5 L1422.4,121.9 L1425.2,121.4 L1428.0,120.7 L1430.8,120.1 L1433.8,119.3 L1436.9,118.5 L1440.1,117.7 L1443.5,116.7 L1447.0,115.6 L1450.6,114.5 L1454.4,113.3 L1458.3,112.1 L1462.3,110.8 L1466.4,109.5 L1470.5,108.3 L1474.6,107.0 L1478.7,105.8 L1482.9,104.6 L1487.0,103.5 L1491.1,102.4 L1495.2,101.4 L1499.3,100.5 L1503.4,99.6 L1507.4,98.7 L1511.5,97.9 L1515.5,97.2 L1519.6,96.4 L1523.6,95.8 L1527.7,95.1 L1531.7,94.5 L1535.8,94.0 L1539.8,93.4 L1543.9,92.9 L1547.9,92.4 L1552.0,92.0 L1556.1,91.6 L1560.3,91.1 L1564.4,90.8 L1568.5,90.4 L1572.7,90.0 L1576.9,89.7 L1581.1,89.3 L1585.4,89.0 L1589.7,88.7 L1594.0,88.3 L1598.4,88.0 L1602.8,87.7 L1607.2,87.3 L1611.7,87.0 L1616.2,86.6 L1620.7,86.3 L1625.3,85.9 L1629.9,85.6 L1634.6,85.2 L1639.3,84.8 L1644.0,84.5 L1648.7,84.1 L1653.4,83.7 L1658.2,83.3 L1663.0,83.0 L1667.8,82.6 L1672.6,82.3 L1677.5,81.9 L1682.3,81.6 L1687.1,81.2 L1692.0,80.9 L1696.8,80.6 L1701.6,80.3 L1706.5,80.0 L1711.3,79.7 L1716.1,79.5 L1720.9,79.2 L1725.6,79.0 L1730.4,78.8 L1735.1,78.6 L1739.9,78.4 L1744.5,78.3 L1749.2,78.2 L1753.8,78.1 L1758.4,78.0 L1763.0,78.0 L1767.5,77.9 L1772.0,78.0 L1776.4,78.0"/>
<path class="c" stroke="#000000" d="M992.2,641.0 L992.7,639.4 L993.2,637.7 L993.7,635.8 L994.2,633.9 L994.7,631.8 L995.2,629.6 L995.7,627.3 L996.1,624.9 L996.6,622.4 L997.0,619.7 L997.5,617.0 L998.0,614.1 L998.4,611.1 L998.9,608.0 L999.3,604.8 L999.8,601.5 L1000.3,598.1 L1000.7,594.5 L1001.2,590.9 L1001.7,587.2 L1002.2,583.3 L1002.7,579.4 L1003.2,575.3 L1003.7,571.1 L1004.2,566.9 L1004.7,562.6 L1005.2,558.2 L1005.8,553.8 L1006.3,549.4 L1006.8,544.9 L1007.4,540.6 L1007.9,536.2 L1008.4,531.9 L1008.9,527.7 L1009.4,523.6 L1009.9,519.6 L1010.3,515.7 L1010.8,511.9 L1011.2,508.2 L1011.7,504.5 L1012.1,500.8 L1012.6,497.1 L1013.1,493.3 L1013.6,489.5 L1014.1,485.5 L1014.6,481.5 L1015.2,477.2 L1015.8,472.8 L1016.4,468.2 L1017.0,463.5 L1017.7,458.7 L1018.4,453.8 L1019.1,448.7 L1019.9,443.6 L1020.6,438.4 L1021.4,433.2 L1022.2,427.9 L1023.0,422.6 L1023.8,417.2 L1024.7,411.9 L1025.5,406.6 L1026.4,401.3 L1027.2,396.1 L1028.1,390.9 L1029.0,385.7 L1029.9,380.5 L1030.8,375.4 L1031.7,370.3 L1032.6,365.2 L1033.5,360.2 L1034.5,355.2 L1035.4,350.2 L1036.4,345.3 L1037.3,340.5 L1038.3,335.6 L1039.3,330.9 L1040.2,326.1 L1041.2,321.5 L1042.2,316.9 L1043.2,312.3 L1044.2,307.8 L1045.2,303.3 L1046.3,298.9 L1047.3,294.6 L1048.3,290.3 L1049.4,286.1 L1050.4,282.0 L1051.5,277.9 L1052.5,273.9 L1053.6,270.0 L1054.7,266.1 L1055.7,262.3 L1056.8,258.6 L1057.9,255.0 L1059.0,251.4 L1060.1,248.0 L1061.2,244.6 L1062.3,241.3 L1063.4,238.1 L1064.6,234.9 L1065.7,231.9 L1066.8,228.9 L1068.0,226.1 L1069.2,223.3 L1070.4,220.6 L1071.7,218.0 L1073.0,215.6 L1074.4,213.2 L1075.8,210.9 L1077.3,208.7 L1078.8,206.7 L1080.5,204.7 L1082.1,202.8 L1083.9,201.1 L1085.8,199.4 L1087.7,197.9 L1089.8,196.4 L1092.0,195.0 L1094.3,193.7 L1096.8,192.4 L1099.5,191.2 L1102.3,189.9 L1105.3,188.7 L1108.5,187.4 L1111.9,186.2 L1115.4,184.9 L1119.0,183.7 L1122.7,182.5 L1126.5,181.2 L1130.3,180.0 L1134.2,178.8 L1138.2,177.6 L1142.2,176.4 L1146.2,175.3 L1150.1,174.1 L1154.1,173.0 L1158.1,171.9 L1162.0,170.9 L1165.9,169.8 L1169.8,168.8 L1173.7,167.9 L1177.6,167.0 L1181.4,166.2 L1185.1,165.4 L1188.9,164.7 L1192.6,164.0 L1196.2,163.4 L1199.9,162.8 L1203.5,162.3 L1207.1,161.8 L1210.7,161.3 L1214.4,160.8 L1218.0,160.4 L1221.7,160.0 L1225.4,159.6 L1229.1,159.2 L1232.9,158.8 L1236.8,158.4 L1240.7,158.0 L1244.7,157.6 L1248.7,157.2 L1252.9,156.7 L1257.2,156.2 L1261.5,155.7 L1266.0,155.1 L1270.6,154.5 L1275.3,153.9 L1280.1,153.2 L1285.0,152.4 L1290.1,151.6 L1295.2,150.8 L1300.4,150.0 L1305.7,149.2 L1311.1,148.3 L1316.5,147.5 L1322.0,146.6 L1327.5,145.8 L1333.1,145.0 L1338.7,144.1 L1344.3,143.4 L1349.9,142.6 L1355.5,141.9 L1361.1,141.2 L1366.7,140.5 L1372.3,139.9 L1377.9,139.3 L1383.4,138.8 L1389.0,138.3 L1394.6,137.8 L1400.1,137.4 L1405.7,137.0 L1411.3,136.6 L1416.8,136.3 L1422.4,136.0 L1427.9,135.7 L1433.4,135.4 L1439.0,135.2 L1444.5,135.0 L1450.0,134.8 L1455.5,134.6 L1461.0,134.5 L1466.5,134.4 L1472.0,134.3 L1477.5,134.2 L1483.0,134.2 L1488.5,134.1 L1494.0,134.1 L1499.5,134.1 L1505.0,134.1 L1510.5,134.2 L1515.9,134.2 L1521.4,134.3 L1526.9,134.3 L1532.3,134.4 L1537.8,134.5 L1543.3,134.6 L1548.7,134.7 L1554.2,134.9 L1559.6,135.0 L1565.1,135.1 L1570.5,135.3 L1576.0,135.4 L1581.4,135.5 L1586.8,135.7 L1592.3,135.8 L1597.7,136.0 L1603.1,136.2 L1608.6,136.3 L1614.0,136.5 L1619.4,136.6 L1624.8,136.7 L1630.3,136.9 L1635.7,137.0 L1641.1,137.1 L1646.5,137.3 L1651.9,137.4 L1657.4,137.5 L1662.8,137.6 L1668.2,137.7 L1673.6,137.7 L1679.0,137.8 L1684.4,137.8 L1689.8,137.9 L1695.2,137.9 L1700.7,137.9 L1706.1,137.9 L1711.5,137.8 L1716.9,137.8 L1722.3,137.7 L1727.7,137.6 L1733.1,137.5 L1738.5,137.3 L1743.9,137.2 L1749.3,137.0 L1754.8,136.8 L1760.2,136.6 L1765.6,136.3 L1771.0,136.0 L1776.4,135.7"/>
<path class="c" stroke="#000000" d="M992.2,641.0 L992.4,637.8 L992.7,634.5 L992.9,631.3 L993.2,628.0 L993.4,624.7 L993.7,621.3 L994.0,618.0 L994.3,614.6 L994.6,611.1 L994.9,607.6 L995.2,604.1 L995.5,600.6 L995.8,597.0 L996.2,593.4 L996.5,589.8 L996.9,586.1 L997.3,582.4 L997.7,578.7 L998.1,574.9 L998.5,571.0 L998.9,567.2 L999.3,563.3 L999.8,559.3 L1000.2,555.3 L1000.7,551.3 L1001.1,547.2 L1001.6,543.1 L1002.1,538.9 L1002.6,534.7 L1003.2,530.4 L1003.7,526.1 L1004.2,521.7 L1004.8,517.3 L1005.4,512.8 L1006.0,508.3 L1006.6,503.7 L1007.2,499.1 L1007.8,494.4 L1008.4,489.6 L1009.1,484.9 L1009.7,480.0 L1010.4,475.1 L1011.1,470.2 L1011.8,465.2 L1012.5,460.2 L1013.2,455.2 L1014.0,450.2 L1014.7,445.1 L1015.5,440.0 L1016.2,434.9 L1017.0,429.8 L1017.8,424.7 L1018.6,419.6 L1019.4,414.5 L1020.2,409.4 L1021.0,404.3 L1021.8,399.2 L1022.6,394.2 L1023.4,389.2 L1024.3,384.2 L1025.1,379.2 L1025.9,374.3 L1026.8,369.4 L1027.6,364.6 L1028.5,359.8 L1029.3,355.1 L1030.2,350.5 L1031.1,345.9 L1031.9,341.3 L1032.8,336.9 L1033.7,332.5 L1034.5,328.2 L1035.4,324.0 L1036.3,319.8 L1037.1,315.8 L1038.0,311.8 L1038.8,307.8 L1039.6,303.9 L1040.5,300.1 L1041.3,296.3 L1042.0,292.6 L1042.8,288.9 L1043.5,285.2 L1044.2,281.6 L1044.9,278.0 L1045.5,274.4 L1046.2,270.9 L1046.9,267.4 L1047.6,263.9 L1048.4,260.5 L1049.3,257.1 L1050.4,253.7 L1051.5,250.4 L1052.9,247.1 L1054.5,243.9 L1056.3,240.7 L1058.3,237.6 L1060.5,234.5 L1063.0,231.5 L1065.7,228.5 L1068.6,225.6 L1071.6,222.8 L1074.7,220.0 L1078.0,217.4 L1081.4,214.8 L1084.8,212.4 L1088.4,210.0 L1091.9,207.7 L1095.5,205.6 L1099.1,203.6 L1102.6,201.7 L1106.1,199.9 L1109.7,198.2 L1113.2,196.6 L1116.7,195.1 L1120.1,193.7 L1123.6,192.4 L1127.0,191.1 L1130.5,189.8 L1133.9,188.6 L1137.3,187.4 L1140.8,186.2 L1144.2,185.0 L1147.6,183.8 L1151.0,182.6 L1154.5,181.5 L1157.9,180.3 L1161.4,179.2 L1165.0,178.0 L1168.5,176.9 L1172.2,175.9 L1175.8,174.8 L1179.6,173.8 L1183.4,172.9 L1187.3,171.9 L1191.2,171.1 L1195.2,170.2 L1199.3,169.5 L1203.4,168.7 L1207.4,168.0 L1211.5,167.4 L1215.6,166.8 L1219.6,166.3 L1223.5,165.8 L1227.4,165.3 L1231.1,164.9 L1234.8,164.5 L1238.4,164.1 L1241.8,163.8 L1245.0,163.6 L1248.2,163.4 L1251.3,163.2 L1254.4,163.0 L1257.5,162.9 L1260.7,162.8 L1264.0,162.7 L1267.5,162.6 L1271.1,162.5 L1274.9,162.4 L1278.9,162.4 L1283.1,162.3 L1287.6,162.3 L1292.1,162.3 L1296.9,162.2 L1301.7,162.2 L1306.7,162.1 L1311.8,162.1 L1317.0,162.0 L1322.3,162.0 L1327.6,162.0 L1332.9,161.9 L1338.3,161.8 L1343.6,161.8 L1349.0,161.7 L1354.4,161.6 L1359.7,161.5 L1364.9,161.4 L1370.1,161.2 L1375.3,161.1 L1380.5,160.9 L1385.6,160.8 L1390.7,160.6 L1395.8,160.3 L1400.8,160.1 L1405.8,159.8 L1410.9,159.6 L1415.9,159.3 L1420.9,158.9 L1425.8,158.5 L1430.8,158.2 L1435.8,157.7 L1440.8,157.3 L1445.7,156.8 L1450.7,156.3 L1455.7,155.7 L1460.7,155.1 L1465.7,154.5 L1470.7,153.9 L1475.7,153.3 L1480.7,152.6 L1485.7,151.9 L1490.7,151.2 L1495.7,150.5 L1500.7,149.8 L1505.8,149.1 L1510.8,148.4 L1515.8,147.7 L1520.8,146.9 L1525.8,146.2 L1530.9,145.5 L1535.9,144.8 L1540.9,144.1 L1546.0,143.4 L1551.0,142.7 L1556.0,142.0 L1561.1,141.4 L1566.1,140.8 L1571.2,140.2 L1576.2,139.6 L1581.3,139.0 L1586.3,138.5 L1591.4,138.0 L1596.4,137.6 L1601.5,137.1 L1606.5,136.7 L1611.6,136.4 L1616.6,136.1 L1621.7,135.8 L1626.8,135.6 L1631.8,135.3 L1636.9,135.2 L1641.9,135.0 L1647.0,134.9 L1652.1,134.8 L1657.1,134.7 L1662.2,134.6 L1667.2,134.6 L1672.2,134.5 L1677.3,134.5 L1682.3,134.4 L1687.3,134.4 L1692.4,134.4 L1697.4,134.4 L1702.4,134.3 L1707.4,134.3 L1712.4,134.2 L1717.4,134.2 L1722.3,134.1 L1727.3,134.0 L1732.3,133.9 L1737.2,133.7 L1742.2,133.5 L1747.1,133.3 L1752.0,133.1 L1756.9,132.8 L1761.8,132.5 L1766.7,132.2 L1771.5,131.8 L1776.4,131.4"/>
<path class="c" stroke="#000000" d="M992.2,641.0 L992.5,637.0 L992.7,633.1 L993.0,629.2 L993.3,625.5 L993.5,621.8 L993.8,618.2 L994.1,614.6 L994.4,611.1 L994.8,607.6 L995.1,604.1 L995.4,600.6 L995.8,597.1 L996.2,593.7 L996.5,590.1 L996.9,586.6 L997.3,583.0 L997.7,579.4 L998.1,575.7 L998.6,571.9 L999.0,568.0 L999.5,564.1 L999.9,560.0 L1000.4,555.9 L1000.9,551.6 L1001.4,547.3 L1001.9,542.8 L1002.4,538.2 L1003.0,533.6 L1003.5,528.9 L1004.1,524.1 L1004.7,519.2 L1005.3,514.3 L1005.9,509.3 L1006.5,504.3 L1007.2,499.2 L1007.9,494.1 L1008.5,488.9 L1009.2,483.7 L1009.9,478.5 L1010.7,473.2 L1011.4,468.0 L1012.1,462.7 L1012.9,457.4 L1013.7,452.1 L1014.5,446.8 L1015.3,441.5 L1016.1,436.1 L1016.9,430.8 L1017.7,425.5 L1018.6,420.2 L1019.4,414.9 L1020.3,409.6 L1021.1,404.3 L1022.0,399.1 L1022.9,393.9 L1023.8,388.7 L1024.7,383.6 L1025.6,378.4 L1026.5,373.4 L1027.3,368.3 L1028.3,363.3 L1029.2,358.4 L1030.1,353.5 L1031.0,348.6 L1031.9,343.9 L1032.8,339.2 L1033.7,334.5 L1034.6,329.9 L1035.5,325.4 L1036.4,321.0 L1037.3,316.6 L1038.2,312.3 L1039.1,308.0 L1039.9,303.8 L1040.8,299.7 L1041.6,295.6 L1042.4,291.6 L1043.3,287.6 L1044.0,283.6 L1044.8,279.8 L1045.5,275.9 L1046.3,272.1 L1047.1,268.4 L1047.9,264.7 L1048.8,261.0 L1049.8,257.5 L1051.0,254.0 L1052.3,250.5 L1053.8,247.2 L1055.5,243.9 L1057.4,240.7 L1059.6,237.6 L1062.1,234.6 L1064.8,231.7 L1067.7,228.9 L1070.8,226.1 L1074.1,223.4 L1077.5,220.9 L1081.0,218.4 L1084.5,215.9 L1088.2,213.6 L1091.9,211.3 L1095.6,209.1 L1099.3,207.0 L1103.0,204.9 L1106.6,203.0 L1110.3,201.1 L1113.9,199.2 L1117.4,197.4 L1121.0,195.7 L1124.6,194.1 L1128.1,192.5 L1131.7,190.9 L1135.3,189.5 L1138.9,188.0 L1142.5,186.6 L1146.1,185.3 L1149.7,184.0 L1153.4,182.8 L1157.1,181.5 L1160.8,180.4 L1164.6,179.2 L1168.4,178.1 L1172.3,177.1 L1176.2,176.0 L1180.2,175.0 L1184.3,174.0 L1188.4,173.1 L1192.6,172.1 L1196.8,171.2 L1201.1,170.4 L1205.4,169.5 L1209.7,168.7 L1214.0,168.0 L1218.2,167.3 L1222.4,166.7 L1226.6,166.1 L1230.7,165.7 L1234.7,165.2 L1238.6,164.9 L1242.4,164.7 L1246.0,164.5 L1249.6,164.4 L1253.1,164.4 L1256.5,164.4 L1259.8,164.4 L1263.0,164.5 L1266.2,164.6 L1269.3,164.7 L1272.5,164.9 L1275.6,165.0 L1278.7,165.1 L1281.8,165.2 L1284.9,165.3 L1288.0,165.5 L1291.2,165.6 L1294.5,165.8 L1297.8,166.1 L1301.3,166.4 L1304.8,166.7 L1308.4,167.1 L1312.2,167.6 L1316.0,168.1 L1320.0,168.7 L1324.1,169.3 L1328.3,170.0 L1332.5,170.8 L1336.9,171.6 L1341.4,172.4 L1345.9,173.3 L1350.5,174.2 L1355.2,175.2 L1360.0,176.2 L1364.8,177.3 L1369.6,178.4 L1374.6,179.6 L1379.6,180.7 L1384.6,181.9 L1389.7,183.2 L1394.8,184.5 L1399.9,185.8 L1405.1,187.1 L1410.3,188.4 L1415.5,189.8 L1420.7,191.2 L1425.9,192.6 L1431.2,194.0 L1436.4,195.5 L1441.7,197.0 L1446.9,198.4 L1452.1,199.9 L1457.3,201.4 L1462.5,202.9 L1467.8,204.4 L1473.0,205.9 L1478.2,207.4 L1483.4,208.9 L1488.6,210.4 L1493.8,211.9 L1499.1,213.4 L1504.3,214.8 L1509.5,216.3 L1514.7,217.7 L1520.0,219.1 L1525.2,220.5 L1530.5,221.9 L1535.8,223.3 L1541.0,224.6 L1546.3,225.9 L1551.6,227.2 L1556.9,228.4 L1562.2,229.6 L1567.6,230.8 L1572.9,231.9 L1578.3,233.0 L1583.7,234.0 L1589.1,235.0 L1594.5,236.0 L1599.9,236.9 L1605.4,237.8 L1610.9,238.6 L1616.4,239.3 L1621.9,240.0 L1627.4,240.6 L1632.9,241.2 L1638.4,241.8 L1643.9,242.3 L1649.3,242.8 L1654.6,243.2 L1660.0,243.6 L1665.2,243.9 L1670.4,244.2 L1675.5,244.5 L1680.4,244.7 L1685.3,245.0 L1690.1,245.2 L1694.7,245.3 L1699.2,245.5 L1703.5,245.6 L1707.8,245.8 L1711.9,245.9 L1715.9,245.9 L1719.8,246.0 L1723.6,246.1 L1727.4,246.1 L1731.1,246.2 L1734.7,246.2 L1738.3,246.2 L1741.8,246.2 L1745.3,246.2 L1748.7,246.2 L1752.2,246.2 L1755.6,246.2 L1759.0,246.2 L1762.5,246.2 L1765.9,246.2 L1769.4,246.3 L1772.9,246.3 L1776.4,246.3"/>
<path class="c" stroke="#000000" d="M992.2,641.0 L992.5,637.7 L992.7,634.4 L993.0,631.0 L993.3,627.7 L993.5,624.2 L993.8,620.8 L994.1,617.3 L994.4,613.8 L994.7,610.2 L995.0,606.6 L995.3,602.9 L995.6,599.3 L995.9,595.5 L996.3,591.8 L996.6,588.0 L997.0,584.1 L997.3,580.2 L997.7,576.3 L998.1,572.3 L998.5,568.3 L998.9,564.2 L999.3,560.1 L999.7,556.0 L1000.2,551.8 L1000.6,547.5 L1001.1,543.2 L1001.6,538.9 L1002.1,534.5 L1002.6,530.1 L1003.1,525.6 L1003.7,521.0 L1004.2,516.4 L1004.8,511.8 L1005.4,507.1 L1006.0,502.3 L1006.7,497.5 L1007.3,492.7 L1008.0,487.8 L1008.7,482.8 L1009.4,477.8 L1010.1,472.7 L1010.9,467.6 L1011.7,462.5 L1012.4,457.4 L1013.2,452.2 L1014.0,447.0 L1014.8,441.7 L1015.6,436.5 L1016.5,431.2 L1017.3,426.0 L1018.1,420.7 L1019.0,415.5 L1019.8,410.2 L1020.7,405.0 L1021.5,399.8 L1022.4,394.6 L1023.3,389.4 L1024.1,384.3 L1025.0,379.2 L1025.8,374.1 L1026.6,369.1 L1027.5,364.1 L1028.3,359.1 L1029.1,354.3 L1029.9,349.4 L1030.7,344.7 L1031.5,340.0 L1032.3,335.4 L1033.0,330.8 L1033.8,326.4 L1034.5,322.0 L1035.2,317.6 L1036.0,313.4 L1036.7,309.2 L1037.4,305.1 L1038.1,301.1 L1038.8,297.1 L1039.5,293.1 L1040.3,289.3 L1041.0,285.4 L1041.8,281.6 L1042.6,277.9 L1043.4,274.2 L1044.2,270.6 L1045.1,267.0 L1046.0,263.4 L1046.9,259.8 L1047.9,256.3 L1048.9,252.8 L1050.0,249.3 L1051.0,245.9 L1052.2,242.4 L1053.4,239.0 L1054.6,235.6 L1055.9,232.2 L1057.3,228.9 L1058.8,225.5 L1060.3,222.2 L1061.9,219.0 L1063.6,215.8 L1065.4,212.7 L1067.2,209.6 L1069.2,206.6 L1071.3,203.7 L1073.5,200.9 L1075.8,198.2 L1078.3,195.5 L1080.8,193.0 L1083.4,190.5 L1086.2,188.2 L1089.0,185.9 L1091.9,183.7 L1094.9,181.6 L1098.0,179.5 L1101.1,177.6 L1104.3,175.7 L1107.6,173.9 L1110.9,172.1 L1114.3,170.4 L1117.7,168.8 L1121.1,167.3 L1124.6,165.8 L1128.1,164.4 L1131.7,163.1 L1135.2,161.8 L1138.8,160.6 L1142.3,159.4 L1145.9,158.3 L1149.5,157.2 L1153.0,156.2 L1156.6,155.2 L1160.2,154.3 L1163.7,153.4 L1167.3,152.6 L1170.9,151.8 L1174.5,151.0 L1178.1,150.3 L1181.7,149.7 L1185.3,149.0 L1188.8,148.4 L1192.4,147.9 L1196.0,147.3 L1199.7,146.8 L1203.3,146.4 L1206.9,145.9 L1210.5,145.5 L1214.1,145.1 L1217.8,144.7 L1221.4,144.4 L1225.1,144.1 L1228.7,143.8 L1232.4,143.5 L1236.1,143.2 L1239.8,142.9 L1243.6,142.6 L1247.4,142.4 L1251.4,142.1 L1255.3,141.8 L1259.4,141.5 L1263.6,141.2 L1267.9,140.9 L1272.3,140.5 L1276.8,140.1 L1281.5,139.7 L1286.3,139.3 L1291.1,138.9 L1296.1,138.4 L1301.1,137.9 L1306.2,137.5 L1311.4,137.0 L1316.6,136.5 L1321.9,136.0 L1327.2,135.5 L1332.5,135.1 L1337.9,134.6 L1343.2,134.1 L1348.6,133.7 L1354.0,133.2 L1359.3,132.8 L1364.7,132.4 L1370.0,132.1 L1375.3,131.7 L1380.6,131.4 L1385.9,131.0 L1391.1,130.7 L1396.4,130.4 L1401.7,130.2 L1406.9,129.9 L1412.2,129.7 L1417.4,129.4 L1422.6,129.2 L1427.9,129.0 L1433.1,128.8 L1438.3,128.6 L1443.6,128.4 L1448.8,128.3 L1454.1,128.1 L1459.3,128.0 L1464.5,127.8 L1469.8,127.7 L1475.0,127.6 L1480.2,127.5 L1485.5,127.4 L1490.7,127.3 L1496.0,127.2 L1501.2,127.1 L1506.4,127.1 L1511.7,127.0 L1516.9,127.0 L1522.2,126.9 L1527.4,126.9 L1532.6,126.8 L1537.9,126.8 L1543.1,126.8 L1548.3,126.8 L1553.6,126.8 L1558.8,126.8 L1564.0,126.8 L1569.3,126.8 L1574.5,126.8 L1579.7,126.8 L1585.0,126.8 L1590.2,126.8 L1595.4,126.9 L1600.6,126.9 L1605.9,126.9 L1611.1,126.9 L1616.3,127.0 L1621.5,127.0 L1626.7,127.1 L1631.9,127.1 L1637.1,127.1 L1642.3,127.2 L1647.5,127.2 L1652.7,127.3 L1657.9,127.3 L1663.1,127.4 L1668.3,127.4 L1673.5,127.4 L1678.7,127.5 L1683.9,127.5 L1689.0,127.6 L1694.2,127.6 L1699.4,127.7 L1704.5,127.7 L1709.7,127.7 L1714.9,127.8 L1720.0,127.8 L1725.2,127.8 L1730.3,127.9 L1735.5,127.9 L1740.6,127.9 L1745.7,127.9 L1750.8,127.9 L1756.0,127.9 L1761.1,127.9 L1766.2,127.9 L1771.3,127.9 L1776.4,127.9"/>
<path class="c" stroke="#00ff00" d="M992.2,641.0 L992.5,637.4 L992.7,633.7 L993.0,630.0 L993.3,626.3 L993.6,622.4 L993.9,618.5 L994.2,614.6 L994.6,610.6 L994.9,606.5 L995.3,602.4 L995.7,598.2 L996.1,594.0 L996.5,589.7 L996.9,585.4 L997.3,580.9 L997.8,576.5 L998.2,572.0 L998.7,567.4 L999.2,562.7 L999.7,558.0 L1000.2,553.3 L1000.8,548.5 L1001.3,543.6 L1001.9,538.7 L1002.5,533.7 L1003.1,528.7 L1003.7,523.6 L1004.3,518.4 L1005.0,513.2 L1005.7,507.9 L1006.3,502.6 L1007.1,497.2 L1007.8,491.8 L1008.5,486.3 L1009.3,480.7 L1010.1,475.1 L1010.9,469.5 L1011.7,463.8 L1012.5,458.1 L1013.4,452.4 L1014.2,446.6 L1015.1,440.8 L1016.0,435.0 L1016.9,429.2 L1017.8,423.4 L1018.7,417.6 L1019.7,411.7 L1020.6,405.9 L1021.6,400.1 L1022.6,394.4 L1023.5,388.6 L1024.5,382.9 L1025.5,377.2 L1026.5,371.5 L1027.5,365.9 L1028.5,360.4 L1029.5,354.8 L1030.5,349.4 L1031.5,344.0 L1032.6,338.6 L1033.6,333.4 L1034.6,328.2 L1035.6,323.1 L1036.7,318.1 L1037.7,313.1 L1038.7,308.3 L1039.7,303.5 L1040.7,298.9 L1041.8,294.4 L1042.8,290.0 L1043.8,285.7 L1044.8,281.5 L1045.8,277.4 L1046.8,273.5 L1047.8,269.7 L1048.9,265.9 L1050.0,262.2 L1051.3,258.5 L1052.7,254.8 L1054.2,251.1 L1055.9,247.3 L1057.9,243.4 L1060.0,239.4 L1062.4,235.3 L1065.0,231.1 L1067.8,226.9 L1070.8,222.6 L1073.9,218.3 L1077.1,214.0 L1080.4,209.7 L1083.7,205.6 L1087.0,201.5 L1090.3,197.6 L1093.6,193.8 L1096.9,190.2 L1100.0,186.9 L1103.0,183.7 L1105.9,180.8 L1108.8,178.0 L1111.6,175.4 L1114.4,173.0 L1117.2,170.6 L1120.0,168.4 L1122.9,166.1 L1125.8,164.0 L1128.8,161.8 L1131.9,159.7 L1135.0,157.6 L1138.2,155.5 L1141.5,153.4 L1144.7,151.4 L1148.0,149.5 L1151.4,147.5 L1154.7,145.7 L1158.0,143.9 L1161.3,142.1 L1164.6,140.4 L1167.8,138.8 L1171.0,137.3 L1174.2,135.8 L1177.3,134.4 L1180.3,133.1 L1183.3,131.9 L1186.1,130.8 L1188.9,129.8 L1191.7,128.8 L1194.5,127.9 L1197.2,127.0 L1200.0,126.1 L1202.9,125.3 L1205.8,124.4 L1208.9,123.5 L1212.0,122.7 L1215.3,121.7 L1218.6,120.8 L1222.0,119.9 L1225.5,119.0 L1229.0,118.1 L1232.7,117.1 L1236.4,116.2 L1240.1,115.3 L1243.9,114.3 L1247.8,113.4 L1251.7,112.5 L1255.7,111.6 L1259.7,110.7 L1263.7,109.8 L1267.8,108.9 L1271.9,108.0 L1276.1,107.2 L1280.2,106.4 L1284.4,105.6 L1288.6,104.8 L1292.8,104.0 L1297.0,103.3 L1301.3,102.6 L1305.5,102.0 L1309.7,101.3 L1313.9,100.7 L1318.1,100.1 L1322.3,99.6 L1326.5,99.1 L1330.6,98.6 L1334.8,98.2 L1338.9,97.8 L1343.1,97.4 L1347.2,97.0 L1351.4,96.7 L1355.5,96.3 L1359.6,96.0 L1363.8,95.7 L1367.9,95.5 L1372.0,95.2 L1376.1,95.0 L1380.2,94.8 L1384.3,94.6 L1388.5,94.4 L1392.6,94.2 L1396.7,94.0 L1400.8,93.8 L1404.9,93.6 L1409.1,93.5 L1413.2,93.3 L1417.4,93.1 L1421.5,93.0 L1425.6,92.8 L1429.8,92.6 L1434.0,92.5 L1438.2,92.3 L1442.3,92.1 L1446.5,91.9 L1450.7,91.7 L1454.9,91.5 L1459.1,91.3 L1463.4,91.0 L1467.6,90.8 L1471.8,90.6 L1476.0,90.3 L1480.2,90.1 L1484.4,89.8 L1488.6,89.6 L1492.7,89.4 L1496.9,89.1 L1501.1,88.9 L1505.2,88.6 L1509.3,88.4 L1513.4,88.2 L1517.5,87.9 L1521.6,87.7 L1525.6,87.5 L1529.7,87.3 L1533.7,87.0 L1537.7,86.8 L1541.6,86.7 L1545.6,86.5 L1549.6,86.3 L1553.6,86.2 L1557.7,86.0 L1561.7,85.9 L1565.8,85.8 L1569.9,85.8 L1574.1,85.7 L1578.3,85.7 L1582.6,85.7 L1586.9,85.7 L1591.3,85.7 L1595.8,85.8 L1600.3,85.9 L1605.0,86.0 L1609.7,86.1 L1614.5,86.2 L1619.5,86.4 L1624.5,86.6 L1629.6,86.8 L1634.9,87.0 L1640.3,87.2 L1645.8,87.5 L1651.5,87.7 L1657.3,88.0 L1663.3,88.3 L1669.4,88.6 L1675.6,88.9 L1682.1,89.3 L1688.7,89.6 L1695.5,90.0 L1702.5,90.4 L1709.5,90.8 L1716.6,91.1 L1723.7,91.5 L1730.6,91.9 L1737.4,92.2 L1743.9,92.5 L1750.1,92.7 L1755.8,92.9 L1761.2,93.0 L1766.0,93.1 L1770.1,93.1 L1773.6,93.0 L1776.4,92.8"/>
<path class="c" stroke="#00ff00" d="M992.2,641.0 L992.5,637.2 L992.7,633.4 L993.0,629.8 L993.3,626.2 L993.6,622.6 L993.8,619.0 L994.1,615.5 L994.4,612.1 L994.8,608.6 L995.1,605.2 L995.4,601.7 L995.7,598.3 L996.1,594.8 L996.4,591.3 L996.8,587.8 L997.1,584.2 L997.5,580.6 L997.9,577.0 L998.3,573.3 L998.7,569.5 L999.2,565.6 L999.6,561.7 L1000.0,557.6 L1000.5,553.5 L1001.0,549.3 L1001.5,545.0 L1002.0,540.6 L1002.5,536.2 L1003.0,531.6 L1003.6,527.0 L1004.1,522.4 L1004.7,517.6 L1005.3,512.8 L1005.9,508.0 L1006.5,503.1 L1007.2,498.2 L1007.9,493.2 L1008.5,488.1 L1009.2,483.1 L1010.0,478.0 L1010.7,472.9 L1011.4,467.7 L1012.2,462.5 L1013.0,457.3 L1013.8,452.1 L1014.6,446.9 L1015.4,441.7 L1016.2,436.4 L1017.1,431.2 L1017.9,426.0 L1018.8,420.7 L1019.6,415.5 L1020.5,410.3 L1021.4,405.1 L1022.2,400.0 L1023.1,394.9 L1024.0,389.7 L1024.9,384.7 L1025.8,379.6 L1026.7,374.6 L1027.6,369.7 L1028.4,364.8 L1029.3,359.9 L1030.2,355.1 L1031.1,350.4 L1032.0,345.7 L1032.8,341.1 L1033.7,336.5 L1034.6,332.0 L1035.4,327.6 L1036.2,323.3 L1037.1,319.1 L1037.9,314.9 L1038.8,310.7 L1039.6,306.7 L1040.5,302.7 L1041.4,298.7 L1042.3,294.8 L1043.2,291.0 L1044.1,287.2 L1045.1,283.4 L1046.1,279.7 L1047.1,276.0 L1048.1,272.3 L1049.3,268.7 L1050.4,265.1 L1051.7,261.5 L1053.0,257.9 L1054.4,254.4 L1055.9,250.8 L1057.6,247.3 L1059.3,243.8 L1061.2,240.3 L1063.2,236.8 L1065.4,233.3 L1067.6,229.8 L1070.0,226.3 L1072.5,222.8 L1075.1,219.4 L1077.7,216.1 L1080.4,212.8 L1083.2,209.5 L1086.0,206.3 L1088.8,203.2 L1091.6,200.1 L1094.4,197.2 L1097.3,194.3 L1100.0,191.6 L1102.8,188.9 L1105.6,186.4 L1108.3,183.9 L1111.0,181.6 L1113.7,179.3 L1116.4,177.1 L1119.1,175.0 L1121.7,172.9 L1124.4,171.0 L1127.1,169.0 L1129.8,167.2 L1132.4,165.4 L1135.1,163.7 L1137.9,162.0 L1140.6,160.4 L1143.3,158.8 L1146.1,157.2 L1148.9,155.7 L1151.7,154.2 L1154.5,152.7 L1157.4,151.2 L1160.3,149.8 L1163.3,148.4 L1166.3,147.0 L1169.3,145.6 L1172.3,144.3 L1175.4,143.0 L1178.5,141.7 L1181.7,140.4 L1184.9,139.2 L1188.1,138.0 L1191.3,136.8 L1194.6,135.7 L1197.9,134.6 L1201.3,133.5 L1204.6,132.4 L1208.1,131.4 L1211.5,130.4 L1215.0,129.4 L1218.5,128.5 L1222.0,127.6 L1225.6,126.7 L1229.2,125.9 L1232.9,125.1 L1236.6,124.3 L1240.4,123.6 L1244.2,122.9 L1248.1,122.2 L1252.1,121.5 L1256.2,120.9 L1260.4,120.3 L1264.6,119.7 L1269.0,119.1 L1273.5,118.5 L1278.1,118.0 L1282.8,117.5 L1287.7,116.9 L1292.6,116.5 L1297.5,116.0 L1302.6,115.5 L1307.7,115.1 L1312.9,114.7 L1318.1,114.3 L1323.4,113.9 L1328.7,113.5 L1334.0,113.2 L1339.4,112.9 L1344.7,112.6 L1350.1,112.3 L1355.4,112.1 L1360.7,111.9 L1366.0,111.7 L1371.3,111.5 L1376.6,111.3 L1381.9,111.2 L1387.1,111.0 L1392.4,110.9 L1397.6,110.8 L1402.9,110.8 L1408.1,110.7 L1413.3,110.7 L1418.5,110.6 L1423.7,110.6 L1429.0,110.6 L1434.2,110.6 L1439.4,110.6 L1444.6,110.7 L1449.8,110.7 L1455.0,110.7 L1460.3,110.8 L1465.5,110.8 L1470.7,110.9 L1475.9,111.0 L1481.1,111.0 L1486.4,111.1 L1491.6,111.2 L1496.8,111.3 L1502.0,111.4 L1507.3,111.6 L1512.5,111.7 L1517.7,111.8 L1522.9,111.9 L1528.2,112.1 L1533.4,112.2 L1538.6,112.4 L1543.8,112.6 L1549.0,112.7 L1554.3,112.9 L1559.5,113.1 L1564.7,113.3 L1569.9,113.4 L1575.1,113.6 L1580.4,113.8 L1585.6,114.0 L1590.8,114.2 L1596.0,114.4 L1601.2,114.7 L1606.4,114.9 L1611.6,115.1 L1616.8,115.3 L1622.0,115.5 L1627.2,115.8 L1632.4,116.0 L1637.6,116.2 L1642.8,116.5 L1648.0,116.7 L1653.2,117.0 L1658.4,117.2 L1663.5,117.5 L1668.7,117.7 L1673.9,118.0 L1679.0,118.2 L1684.2,118.5 L1689.4,118.7 L1694.5,119.0 L1699.7,119.2 L1704.8,119.5 L1710.0,119.7 L1715.1,120.0 L1720.2,120.2 L1725.4,120.5 L1730.5,120.7 L1735.6,121.0 L1740.7,121.3 L1745.9,121.5 L1751.0,121.8 L1756.1,122.0 L1761.2,122.3 L1766.2,122.5 L1771.3,122.8 L1776.4,123.0"/>
<path class="c" stroke="#00ff00" d="M992.2,641.0 L992.5,637.2 L992.7,633.4 L993.0,629.7 L993.3,626.1 L993.6,622.6 L993.9,619.0 L994.2,615.6 L994.5,612.1 L994.8,608.7 L995.1,605.3 L995.5,601.9 L995.8,598.5 L996.2,595.0 L996.5,591.6 L996.9,588.1 L997.3,584.6 L997.7,581.1 L998.1,577.5 L998.5,573.8 L998.9,570.1 L999.3,566.2 L999.8,562.3 L1000.2,558.4 L1000.7,554.3 L1001.1,550.1 L1001.6,545.8 L1002.1,541.4 L1002.6,537.0 L1003.1,532.5 L1003.7,527.9 L1004.2,523.3 L1004.8,518.6 L1005.4,513.8 L1006.0,509.0 L1006.6,504.1 L1007.3,499.2 L1007.9,494.2 L1008.6,489.2 L1009.3,484.2 L1010.0,479.1 L1010.8,474.1 L1011.5,469.0 L1012.3,463.8 L1013.1,458.7 L1013.9,453.5 L1014.7,448.4 L1015.5,443.2 L1016.4,438.0 L1017.2,432.9 L1018.1,427.7 L1019.0,422.5 L1019.9,417.4 L1020.7,412.2 L1021.6,407.1 L1022.5,402.0 L1023.4,396.9 L1024.3,391.8 L1025.2,386.8 L1026.1,381.8 L1027.1,376.8 L1028.0,371.9 L1028.9,367.0 L1029.8,362.1 L1030.7,357.3 L1031.6,352.6 L1032.5,347.9 L1033.3,343.2 L1034.2,338.6 L1035.1,334.1 L1036.0,329.7 L1036.8,325.3 L1037.6,320.9 L1038.5,316.7 L1039.3,312.5 L1040.2,308.3 L1041.0,304.3 L1041.9,300.2 L1042.8,296.3 L1043.7,292.4 L1044.6,288.5 L1045.5,284.7 L1046.5,281.0 L1047.5,277.3 L1048.5,273.6 L1049.6,270.0 L1050.7,266.5 L1051.9,263.0 L1053.2,259.5 L1054.6,256.1 L1056.1,252.8 L1057.7,249.5 L1059.4,246.3 L1061.3,243.1 L1063.3,240.0 L1065.5,237.0 L1067.9,234.0 L1070.3,231.0 L1072.9,228.2 L1075.6,225.4 L1078.4,222.6 L1081.2,219.9 L1084.1,217.3 L1087.0,214.7 L1089.9,212.2 L1092.8,209.7 L1095.7,207.3 L1098.6,205.0 L1101.4,202.7 L1104.2,200.5 L1106.9,198.3 L1109.6,196.2 L1112.3,194.2 L1115.0,192.2 L1117.6,190.2 L1120.2,188.3 L1122.8,186.5 L1125.4,184.7 L1128.0,182.9 L1130.7,181.2 L1133.3,179.5 L1135.9,177.9 L1138.6,176.3 L1141.2,174.7 L1144.0,173.2 L1146.7,171.7 L1149.5,170.3 L1152.3,168.9 L1155.2,167.5 L1158.1,166.1 L1161.0,164.8 L1164.0,163.5 L1167.0,162.2 L1170.1,161.0 L1173.2,159.8 L1176.4,158.6 L1179.6,157.4 L1182.8,156.3 L1186.0,155.3 L1189.3,154.2 L1192.7,153.2 L1196.0,152.3 L1199.4,151.4 L1202.8,150.5 L1206.3,149.6 L1209.8,148.8 L1213.3,148.0 L1216.8,147.3 L1220.4,146.6 L1223.9,145.9 L1227.6,145.3 L1231.2,144.7 L1234.9,144.2 L1238.6,143.6 L1242.4,143.1 L1246.3,142.6 L1250.3,142.1 L1254.3,141.7 L1258.4,141.2 L1262.6,140.8 L1267.0,140.3 L1271.4,139.8 L1276.0,139.4 L1280.6,138.9 L1285.4,138.4 L1290.3,137.9 L1295.2,137.5 L1300.3,137.0 L1305.4,136.6 L1310.5,136.1 L1315.8,135.7 L1321.0,135.3 L1326.3,134.9 L1331.6,134.5 L1336.9,134.2 L1342.3,133.9 L1347.6,133.6 L1353.0,133.4 L1358.3,133.2 L1363.6,133.1 L1368.8,133.0 L1374.1,132.9 L1379.3,132.9 L1384.6,132.8 L1389.8,132.9 L1395.0,132.9 L1400.2,133.0 L1405.4,133.1 L1410.5,133.2 L1415.7,133.3 L1420.9,133.5 L1426.0,133.6 L1431.2,133.8 L1436.4,134.0 L1441.5,134.2 L1446.7,134.4 L1451.9,134.6 L1457.1,134.9 L1462.2,135.1 L1467.4,135.3 L1472.6,135.6 L1477.8,135.8 L1482.9,136.1 L1488.1,136.3 L1493.3,136.6 L1498.5,136.8 L1503.7,137.1 L1508.9,137.3 L1514.1,137.6 L1519.3,137.9 L1524.4,138.2 L1529.6,138.4 L1534.8,138.7 L1540.0,139.0 L1545.2,139.2 L1550.4,139.5 L1555.6,139.8 L1560.8,140.1 L1565.9,140.3 L1571.1,140.6 L1576.3,140.8 L1581.5,141.1 L1586.7,141.4 L1591.9,141.6 L1597.1,141.9 L1602.2,142.1 L1607.4,142.4 L1612.6,142.6 L1617.8,142.8 L1622.9,143.0 L1628.1,143.3 L1633.3,143.5 L1638.4,143.7 L1643.6,143.9 L1648.7,144.1 L1653.9,144.2 L1659.1,144.4 L1664.2,144.6 L1669.3,144.7 L1674.5,144.9 L1679.6,145.0 L1684.8,145.1 L1689.9,145.2 L1695.0,145.3 L1700.1,145.4 L1705.3,145.5 L1710.4,145.5 L1715.5,145.6 L1720.6,145.6 L1725.7,145.6 L1730.8,145.6 L1735.9,145.6 L1741.0,145.6 L1746.0,145.6 L1751.1,145.5 L1756.2,145.4 L1761.3,145.4 L1766.3,145.2 L1771.4,145.1 L1776.4,145.0"/>
<path class="c" stroke="#00ff00" d="M992.2,641.0 L992.5,636.8 L992.8,632.7 L993.1,628.7 L993.4,624.9 L993.7,621.1 L994.0,617.4 L994.3,613.8 L994.7,610.2 L995.0,606.6 L995.4,603.1 L995.7,599.6 L996.1,596.1 L996.5,592.6 L996.9,589.0 L997.3,585.4 L997.7,581.8 L998.1,578.1 L998.5,574.3 L999.0,570.4 L999.4,566.5 L999.9,562.4 L1000.4,558.2 L1000.9,553.8 L1001.4,549.3 L1001.9,544.8 L1002.5,540.1 L1003.0,535.3 L1003.6,530.4 L1004.2,525.4 L1004.8,520.4 L1005.4,515.3 L1006.0,510.2 L1006.7,505.0 L1007.3,499.7 L1008.0,494.4 L1008.7,489.1 L1009.5,483.8 L1010.2,478.5 L1011.0,473.1 L1011.8,467.8 L1012.6,462.4 L1013.4,457.0 L1014.2,451.6 L1015.1,446.2 L1016.0,440.8 L1016.8,435.5 L1017.7,430.1 L1018.6,424.7 L1019.6,419.3 L1020.5,414.0 L1021.4,408.7 L1022.4,403.4 L1023.3,398.1 L1024.3,392.8 L1025.2,387.6 L1026.2,382.3 L1027.2,377.2 L1028.2,372.0 L1029.2,366.9 L1030.2,361.8 L1031.2,356.8 L1032.1,351.8 L1033.1,346.8 L1034.1,341.9 L1035.1,337.1 L1036.1,332.3 L1037.1,327.6 L1038.1,322.9 L1039.1,318.2 L1040.1,313.7 L1041.1,309.2 L1042.0,304.8 L1043.0,300.4 L1044.0,296.1 L1044.9,291.9 L1045.9,287.8 L1046.8,283.7 L1047.7,279.8 L1048.6,275.9 L1049.6,272.1 L1050.5,268.4 L1051.5,264.7 L1052.6,261.1 L1053.8,257.7 L1055.1,254.2 L1056.6,250.9 L1058.3,247.6 L1060.1,244.4 L1062.2,241.2 L1064.5,238.1 L1067.1,235.0 L1069.8,232.0 L1072.7,229.1 L1075.8,226.2 L1079.0,223.4 L1082.2,220.7 L1085.5,218.0 L1088.8,215.5 L1092.1,213.0 L1095.4,210.6 L1098.5,208.3 L1101.6,206.0 L1104.5,203.9 L1107.4,201.8 L1110.2,199.8 L1112.9,197.9 L1115.6,196.0 L1118.3,194.1 L1120.9,192.3 L1123.6,190.5 L1126.2,188.8 L1128.9,187.0 L1131.6,185.3 L1134.4,183.6 L1137.1,181.9 L1139.9,180.2 L1142.8,178.6 L1145.6,177.0 L1148.6,175.4 L1151.5,173.8 L1154.5,172.3 L1157.5,170.9 L1160.6,169.4 L1163.8,168.0 L1167.0,166.7 L1170.2,165.3 L1173.5,164.1 L1176.9,162.9 L1180.3,161.7 L1183.8,160.6 L1187.3,159.5 L1190.9,158.5 L1194.6,157.6 L1198.3,156.7 L1202.0,155.8 L1205.8,155.0 L1209.7,154.3 L1213.5,153.5 L1217.4,152.9 L1221.3,152.2 L1225.3,151.6 L1229.2,151.0 L1233.2,150.5 L1237.2,150.0 L1241.1,149.5 L1245.1,149.0 L1249.1,148.6 L1253.0,148.1 L1256.9,147.7 L1260.9,147.3 L1264.7,147.0 L1268.6,146.6 L1272.4,146.2 L1276.2,145.9 L1280.0,145.6 L1283.7,145.3 L1287.4,145.0 L1291.1,144.7 L1294.8,144.4 L1298.4,144.1 L1302.1,143.9 L1305.7,143.7 L1309.3,143.4 L1313.0,143.3 L1316.7,143.1 L1320.4,142.9 L1324.1,142.8 L1327.9,142.7 L1331.9,142.6 L1335.9,142.5 L1340.0,142.4 L1344.3,142.4 L1348.8,142.4 L1353.4,142.4 L1358.2,142.4 L1363.1,142.4 L1368.3,142.5 L1373.6,142.5 L1379.0,142.6 L1384.5,142.7 L1390.1,142.8 L1395.8,142.8 L1401.6,142.9 L1407.4,143.0 L1413.2,143.0 L1419.1,143.1 L1424.9,143.1 L1430.8,143.1 L1436.6,143.1 L1442.3,143.1 L1447.9,143.0 L1453.5,142.9 L1459.1,142.8 L1464.5,142.7 L1469.9,142.5 L1475.3,142.4 L1480.5,142.2 L1485.7,142.0 L1490.9,141.9 L1496.0,141.7 L1501.0,141.5 L1506.0,141.3 L1510.9,141.2 L1515.8,141.0 L1520.6,140.9 L1525.3,140.8 L1530.0,140.7 L1534.7,140.6 L1539.3,140.5 L1543.9,140.5 L1548.4,140.5 L1552.8,140.6 L1557.3,140.6 L1561.6,140.7 L1566.0,140.9 L1570.2,141.1 L1574.5,141.3 L1578.7,141.6 L1582.9,142.0 L1587.0,142.4 L1591.2,142.8 L1595.3,143.3 L1599.5,143.8 L1603.6,144.4 L1607.8,145.0 L1612.0,145.6 L1616.2,146.3 L1620.5,147.0 L1624.9,147.7 L1629.3,148.4 L1633.8,149.2 L1638.3,150.0 L1642.9,150.9 L1647.6,151.7 L1652.4,152.6 L1657.2,153.5 L1662.0,154.4 L1666.9,155.3 L1671.9,156.2 L1676.9,157.2 L1681.9,158.1 L1687.0,159.1 L1692.1,160.0 L1697.3,161.0 L1702.5,161.9 L1707.7,162.9 L1712.9,163.9 L1718.2,164.8 L1723.4,165.8 L1728.7,166.7 L1734.0,167.6 L1739.3,168.5 L1744.6,169.4 L1749.9,170.3 L1755.2,171.2 L1760.5,172.0 L1765.8,172.8 L1771.1,173.6 L1776.4,174.4"/>
<path class="c" stroke="#00ff00" d="M992.2,641.0 L992.5,637.2 L992.8,633.4 L993.0,629.7 L993.3,626.1 L993.6,622.5 L994.0,619.0 L994.3,615.6 L994.6,612.2 L994.9,608.8 L995.3,605.4 L995.6,602.0 L996.0,598.6 L996.4,595.2 L996.7,591.8 L997.1,588.4 L997.5,585.0 L997.9,581.4 L998.3,577.9 L998.7,574.3 L999.1,570.6 L999.6,566.8 L1000.0,562.9 L1000.5,559.0 L1000.9,554.9 L1001.4,550.8 L1001.9,546.5 L1002.4,542.2 L1002.9,537.8 L1003.4,533.3 L1003.9,528.7 L1004.5,524.1 L1005.0,519.4 L1005.6,514.6 L1006.2,509.8 L1006.9,505.0 L1007.5,500.1 L1008.2,495.1 L1008.8,490.2 L1009.5,485.2 L1010.3,480.2 L1011.0,475.1 L1011.8,470.1 L1012.6,465.0 L1013.4,459.9 L1014.2,454.8 L1015.0,449.6 L1015.9,444.5 L1016.8,439.4 L1017.6,434.3 L1018.5,429.1 L1019.4,424.0 L1020.3,418.9 L1021.2,413.8 L1022.1,408.7 L1023.1,403.7 L1024.0,398.6 L1024.9,393.6 L1025.9,388.6 L1026.8,383.6 L1027.8,378.7 L1028.7,373.7 L1029.6,368.9 L1030.6,364.0 L1031.5,359.2 L1032.4,354.5 L1033.4,349.8 L1034.3,345.1 L1035.2,340.5 L1036.1,336.0 L1037.0,331.5 L1037.9,327.1 L1038.7,322.7 L1039.6,318.4 L1040.5,314.2 L1041.3,310.0 L1042.2,305.9 L1043.1,301.8 L1044.0,297.8 L1044.9,293.9 L1045.8,290.0 L1046.7,286.1 L1047.6,282.3 L1048.6,278.6 L1049.6,274.9 L1050.6,271.3 L1051.7,267.8 L1052.8,264.3 L1054.1,260.9 L1055.4,257.6 L1056.8,254.3 L1058.3,251.2 L1060.0,248.1 L1061.8,245.1 L1063.8,242.2 L1066.0,239.5 L1068.3,236.8 L1070.8,234.3 L1073.4,231.8 L1076.1,229.4 L1078.9,227.2 L1081.8,224.9 L1084.7,222.8 L1087.7,220.7 L1090.7,218.7 L1093.7,216.7 L1096.6,214.8 L1099.5,212.9 L1102.4,211.1 L1105.2,209.3 L1108.0,207.5 L1110.7,205.8 L1113.4,204.1 L1116.1,202.4 L1118.7,200.8 L1121.4,199.2 L1124.0,197.6 L1126.6,196.1 L1129.3,194.6 L1131.9,193.1 L1134.5,191.7 L1137.2,190.2 L1139.9,188.9 L1142.6,187.5 L1145.4,186.2 L1148.2,184.9 L1151.0,183.6 L1153.9,182.4 L1156.9,181.2 L1159.9,180.0 L1162.9,178.8 L1166.0,177.7 L1169.1,176.6 L1172.3,175.5 L1175.5,174.4 L1178.7,173.4 L1182.0,172.4 L1185.3,171.5 L1188.7,170.5 L1192.0,169.6 L1195.4,168.8 L1198.8,167.9 L1202.3,167.1 L1205.8,166.3 L1209.2,165.6 L1212.7,164.8 L1216.3,164.1 L1219.8,163.5 L1223.3,162.8 L1226.9,162.2 L1230.5,161.7 L1234.1,161.1 L1237.7,160.6 L1241.4,160.1 L1245.2,159.6 L1249.0,159.1 L1252.9,158.7 L1256.8,158.3 L1260.9,157.8 L1265.1,157.4 L1269.4,157.0 L1273.8,156.6 L1278.4,156.2 L1283.1,155.8 L1287.8,155.4 L1292.7,155.0 L1297.7,154.6 L1302.7,154.2 L1307.8,153.8 L1313.0,153.4 L1318.2,153.0 L1323.5,152.7 L1328.8,152.3 L1334.1,151.9 L1339.4,151.6 L1344.7,151.3 L1350.0,150.9 L1355.4,150.6 L1360.6,150.3 L1365.9,150.0 L1371.2,149.7 L1376.4,149.4 L1381.6,149.1 L1386.8,148.8 L1392.0,148.6 L1397.1,148.3 L1402.3,148.1 L1407.4,147.8 L1412.6,147.6 L1417.7,147.4 L1422.9,147.2 L1428.0,147.1 L1433.1,146.9 L1438.3,146.7 L1443.4,146.6 L1448.5,146.5 L1453.7,146.4 L1458.8,146.3 L1464.0,146.2 L1469.1,146.1 L1474.2,146.1 L1479.4,146.1 L1484.6,146.0 L1489.7,146.0 L1494.9,146.0 L1500.0,146.0 L1505.2,146.0 L1510.3,146.1 L1515.5,146.1 L1520.7,146.2 L1525.8,146.2 L1531.0,146.3 L1536.2,146.4 L1541.3,146.5 L1546.5,146.6 L1551.6,146.7 L1556.8,146.8 L1562.0,146.9 L1567.1,147.0 L1572.3,147.2 L1577.5,147.3 L1582.6,147.5 L1587.8,147.6 L1592.9,147.8 L1598.1,148.0 L1603.2,148.1 L1608.4,148.3 L1613.5,148.5 L1618.7,148.7 L1623.8,148.9 L1629.0,149.1 L1634.1,149.3 L1639.3,149.5 L1644.4,149.7 L1649.5,150.0 L1654.7,150.2 L1659.8,150.4 L1664.9,150.6 L1670.0,150.9 L1675.1,151.1 L1680.2,151.3 L1685.4,151.5 L1690.5,151.8 L1695.6,152.0 L1700.6,152.2 L1705.7,152.5 L1710.8,152.7 L1715.9,152.9 L1721.0,153.2 L1726.0,153.4 L1731.1,153.6 L1736.2,153.9 L1741.2,154.1 L1746.3,154.3 L1751.3,154.5 L1756.3,154.8 L1761.4,155.0 L1766.4,155.2 L1771.4,155.4 L1776.4,155.6"/>
<path class="c" stroke="#00ff00" d="M992.2,641.0 L992.5,637.1 L992.8,633.4 L993.1,629.7 L993.4,626.1 L993.7,622.5 L994.0,619.0 L994.3,615.6 L994.6,612.1 L995.0,608.7 L995.3,605.4 L995.7,602.0 L996.0,598.6 L996.4,595.3 L996.8,591.9 L997.2,588.5 L997.6,585.0 L998.0,581.5 L998.4,578.0 L998.8,574.3 L999.2,570.7 L999.7,566.9 L1000.1,563.0 L1000.6,559.1 L1001.0,555.0 L1001.5,550.9 L1002.0,546.6 L1002.5,542.3 L1003.0,537.9 L1003.5,533.4 L1004.0,528.8 L1004.6,524.2 L1005.2,519.5 L1005.7,514.7 L1006.3,509.9 L1007.0,505.1 L1007.6,500.2 L1008.3,495.2 L1009.0,490.3 L1009.7,485.3 L1010.4,480.3 L1011.1,475.2 L1011.9,470.2 L1012.7,465.1 L1013.5,460.0 L1014.3,454.9 L1015.2,449.8 L1016.0,444.7 L1016.9,439.6 L1017.8,434.4 L1018.7,429.3 L1019.6,424.2 L1020.5,419.1 L1021.4,414.0 L1022.4,408.9 L1023.3,403.9 L1024.3,398.8 L1025.2,393.8 L1026.2,388.8 L1027.1,383.9 L1028.1,378.9 L1029.0,374.0 L1030.0,369.1 L1030.9,364.3 L1031.9,359.5 L1032.8,354.8 L1033.7,350.1 L1034.7,345.4 L1035.6,340.8 L1036.5,336.2 L1037.4,331.8 L1038.3,327.3 L1039.2,323.0 L1040.1,318.6 L1040.9,314.4 L1041.8,310.2 L1042.7,306.0 L1043.5,302.0 L1044.4,297.9 L1045.3,294.0 L1046.2,290.1 L1047.2,286.2 L1048.1,282.4 L1049.1,278.7 L1050.0,275.0 L1051.1,271.4 L1052.1,267.8 L1053.3,264.4 L1054.5,261.0 L1055.8,257.7 L1057.2,254.5 L1058.8,251.3 L1060.4,248.3 L1062.2,245.4 L1064.2,242.7 L1066.4,240.0 L1068.7,237.5 L1071.2,235.1 L1073.9,232.8 L1076.6,230.6 L1079.4,228.4 L1082.3,226.4 L1085.3,224.4 L1088.3,222.5 L1091.3,220.6 L1094.3,218.8 L1097.3,217.0 L1100.2,215.3 L1103.0,213.5 L1105.8,211.8 L1108.6,210.1 L1111.3,208.5 L1114.0,206.8 L1116.7,205.2 L1119.3,203.6 L1121.9,202.0 L1124.6,200.5 L1127.2,198.9 L1129.8,197.4 L1132.4,196.0 L1135.1,194.5 L1137.7,193.1 L1140.4,191.7 L1143.1,190.3 L1145.9,189.0 L1148.7,187.7 L1151.6,186.4 L1154.5,185.1 L1157.4,183.9 L1160.4,182.7 L1163.5,181.5 L1166.6,180.4 L1169.7,179.3 L1172.9,178.2 L1176.1,177.1 L1179.3,176.1 L1182.6,175.1 L1186.0,174.2 L1189.3,173.2 L1192.7,172.3 L1196.1,171.5 L1199.5,170.7 L1203.0,169.9 L1206.5,169.1 L1209.9,168.4 L1213.5,167.7 L1217.0,167.0 L1220.5,166.4 L1224.1,165.8 L1227.6,165.3 L1231.2,164.7 L1234.8,164.3 L1238.4,163.8 L1242.1,163.4 L1245.9,162.9 L1249.7,162.5 L1253.6,162.1 L1257.6,161.8 L1261.7,161.4 L1265.9,161.0 L1270.2,160.6 L1274.6,160.2 L1279.2,159.9 L1283.9,159.5 L1288.7,159.1 L1293.5,158.7 L1298.5,158.3 L1303.6,157.9 L1308.7,157.5 L1313.8,157.1 L1319.1,156.7 L1324.3,156.3 L1329.6,155.9 L1334.9,155.6 L1340.3,155.2 L1345.6,154.8 L1350.9,154.4 L1356.3,154.1 L1361.5,153.7 L1366.8,153.4 L1372.1,153.0 L1377.3,152.7 L1382.5,152.4 L1387.7,152.1 L1392.9,151.8 L1398.1,151.6 L1403.3,151.3 L1408.5,151.0 L1413.6,150.8 L1418.8,150.6 L1423.9,150.4 L1429.0,150.2 L1434.2,150.1 L1439.3,149.9 L1444.4,149.8 L1449.6,149.7 L1454.7,149.7 L1459.8,149.6 L1465.0,149.6 L1470.1,149.6 L1475.2,149.6 L1480.4,149.6 L1485.5,149.7 L1490.6,149.7 L1495.8,149.8 L1500.9,149.9 L1506.0,150.1 L1511.2,150.2 L1516.3,150.4 L1521.4,150.6 L1526.6,150.9 L1531.7,151.1 L1536.8,151.4 L1542.0,151.7 L1547.1,152.0 L1552.2,152.4 L1557.4,152.7 L1562.5,153.1 L1567.6,153.5 L1572.8,154.0 L1577.9,154.4 L1583.1,154.9 L1588.2,155.4 L1593.3,155.9 L1598.5,156.5 L1603.6,157.1 L1608.8,157.7 L1613.9,158.3 L1619.0,158.9 L1624.2,159.6 L1629.3,160.3 L1634.5,161.0 L1639.6,161.7 L1644.8,162.4 L1649.9,163.2 L1655.0,163.9 L1660.2,164.7 L1665.3,165.4 L1670.4,166.1 L1675.5,166.9 L1680.7,167.6 L1685.8,168.3 L1690.9,169.1 L1696.0,169.8 L1701.1,170.5 L1706.2,171.1 L1711.2,171.8 L1716.3,172.4 L1721.4,173.0 L1726.4,173.6 L1731.5,174.1 L1736.5,174.7 L1741.5,175.1 L1746.5,175.6 L1751.6,176.0 L1756.5,176.4 L1761.5,176.7 L1766.5,177.0 L1771.5,177.2 L1776.4,177.4"/>
<path class="c" stroke="#00ff00" d="M992.2,641.0 L992.6,637.1 L992.9,633.2 L993.2,629.4 L993.6,625.8 L993.9,622.1 L994.2,618.6 L994.6,615.1 L994.9,611.6 L995.2,608.1 L995.6,604.7 L995.9,601.3 L996.3,597.8 L996.6,594.4 L997.0,590.9 L997.3,587.4 L997.7,583.9 L998.1,580.3 L998.5,576.6 L999.0,572.9 L999.4,569.1 L999.9,565.2 L1000.3,561.2 L1000.8,557.0 L1001.3,552.8 L1001.9,548.5 L1002.4,544.1 L1003.0,539.6 L1003.6,535.0 L1004.2,530.3 L1004.8,525.6 L1005.4,520.8 L1006.1,515.9 L1006.8,511.0 L1007.5,506.0 L1008.1,501.0 L1008.9,496.0 L1009.6,490.9 L1010.3,485.8 L1011.1,480.7 L1011.8,475.6 L1012.6,470.4 L1013.4,465.3 L1014.2,460.1 L1015.0,454.9 L1015.8,449.7 L1016.6,444.5 L1017.5,439.3 L1018.3,434.2 L1019.2,429.0 L1020.1,423.8 L1021.0,418.6 L1021.8,413.5 L1022.7,408.3 L1023.7,403.2 L1024.6,398.1 L1025.5,393.0 L1026.4,387.9 L1027.4,382.8 L1028.3,377.8 L1029.3,372.8 L1030.3,367.9 L1031.3,362.9 L1032.2,358.0 L1033.2,353.2 L1034.2,348.4 L1035.2,343.6 L1036.3,338.9 L1037.3,334.2 L1038.3,329.6 L1039.3,325.0 L1040.4,320.5 L1041.4,316.1 L1042.5,311.7 L1043.5,307.3 L1044.6,303.1 L1045.6,298.9 L1046.7,294.7 L1047.8,290.7 L1048.8,286.7 L1049.9,282.8 L1051.0,278.9 L1052.1,275.2 L1053.2,271.5 L1054.3,268.0 L1055.5,264.5 L1056.6,261.1 L1057.9,257.8 L1059.1,254.7 L1060.5,251.6 L1061.9,248.7 L1063.4,245.9 L1065.0,243.2 L1066.6,240.7 L1068.4,238.3 L1070.3,236.0 L1072.2,233.9 L1074.2,231.8 L1076.2,229.8 L1078.3,228.0 L1080.5,226.2 L1082.6,224.4 L1084.8,222.8 L1087.0,221.2 L1089.2,219.6 L1091.4,218.1 L1093.6,216.6 L1095.8,215.1 L1097.9,213.7 L1100.1,212.3 L1102.2,211.0 L1104.3,209.6 L1106.3,208.3 L1108.4,206.9 L1110.4,205.6 L1112.4,204.4 L1114.3,203.1 L1116.3,201.9 L1118.2,200.7 L1120.1,199.5 L1122.0,198.3 L1123.9,197.2 L1125.7,196.1 L1127.6,195.1 L1129.4,194.0 L1131.2,193.0 L1133.0,192.0 L1134.9,191.1 L1136.7,190.2 L1138.6,189.3 L1140.5,188.4 L1142.5,187.6 L1144.5,186.8 L1146.6,186.0 L1148.8,185.3 L1151.1,184.6 L1153.5,183.9 L1156.0,183.2 L1158.6,182.6 L1161.3,182.0 L1164.2,181.4 L1167.2,180.9 L1170.4,180.4 L1173.8,179.9 L1177.3,179.4 L1181.1,179.0 L1185.0,178.6 L1189.2,178.3 L1193.5,177.9 L1198.1,177.6 L1202.8,177.3 L1207.7,177.1 L1212.7,176.8 L1217.8,176.6 L1223.1,176.4 L1228.4,176.3 L1233.9,176.1 L1239.3,176.0 L1244.9,175.9 L1250.4,175.9 L1256.0,175.8 L1261.6,175.8 L1267.1,175.8 L1272.7,175.8 L1278.2,175.8 L1283.6,175.9 L1289.0,175.9 L1294.4,176.0 L1299.7,176.1 L1305.1,176.2 L1310.4,176.3 L1315.6,176.5 L1320.9,176.6 L1326.1,176.8 L1331.4,176.9 L1336.6,177.1 L1341.8,177.3 L1347.0,177.5 L1352.3,177.6 L1357.5,177.8 L1362.7,178.0 L1367.9,178.2 L1373.1,178.4 L1378.4,178.6 L1383.6,178.8 L1388.8,178.9 L1394.1,179.1 L1399.3,179.3 L1404.6,179.5 L1409.8,179.7 L1415.1,179.9 L1420.3,180.1 L1425.6,180.3 L1430.8,180.5 L1436.1,180.7 L1441.3,180.8 L1446.6,181.0 L1451.8,181.2 L1457.1,181.4 L1462.4,181.6 L1467.6,181.8 L1472.9,181.9 L1478.2,182.1 L1483.4,182.3 L1488.7,182.4 L1494.0,182.6 L1499.3,182.8 L1504.5,182.9 L1509.8,183.1 L1515.1,183.2 L1520.4,183.4 L1525.6,183.5 L1530.9,183.6 L1536.2,183.8 L1541.4,183.9 L1546.7,184.0 L1552.0,184.1 L1557.3,184.2 L1562.5,184.3 L1567.8,184.4 L1573.1,184.5 L1578.3,184.6 L1583.6,184.7 L1588.9,184.7 L1594.1,184.8 L1599.4,184.9 L1604.6,184.9 L1609.9,184.9 L1615.1,185.0 L1620.4,185.0 L1625.6,185.0 L1630.9,185.0 L1636.1,185.0 L1641.4,185.0 L1646.6,185.0 L1651.9,185.0 L1657.1,184.9 L1662.3,184.9 L1667.6,184.8 L1672.8,184.7 L1678.0,184.7 L1683.2,184.6 L1688.4,184.5 L1693.6,184.4 L1698.8,184.3 L1704.1,184.1 L1709.3,184.0 L1714.4,183.8 L1719.6,183.7 L1724.8,183.5 L1730.0,183.3 L1735.2,183.1 L1740.3,182.9 L1745.5,182.6 L1750.7,182.4 L1755.8,182.1 L1761.0,181.9 L1766.1,181.6 L1771.3,181.3 L1776.4,181.0"/>
<path class="c" stroke="#00ff00" d="M992.2,641.0 L993.2,636.8 L994.1,632.7 L995.0,628.7 L995.8,624.8 L996.5,620.9 L997.2,617.2 L997.9,613.4 L998.5,609.8 L999.1,606.1 L999.6,602.5 L1000.2,598.9 L1000.7,595.3 L1001.2,591.6 L1001.7,587.9 L1002.2,584.2 L1002.8,580.4 L1003.3,576.6 L1003.8,572.7 L1004.3,568.6 L1004.9,564.5 L1005.5,560.3 L1006.1,555.9 L1006.8,551.4 L1007.4,546.8 L1008.1,542.1 L1008.9,537.3 L1009.6,532.4 L1010.4,527.4 L1011.2,522.3 L1012.0,517.1 L1012.8,511.9 L1013.6,506.7 L1014.5,501.4 L1015.3,496.0 L1016.2,490.6 L1017.1,485.2 L1017.9,479.7 L1018.8,474.2 L1019.7,468.7 L1020.6,463.2 L1021.5,457.7 L1022.5,452.1 L1023.4,446.6 L1024.4,441.0 L1025.4,435.5 L1026.4,429.9 L1027.4,424.4 L1028.4,418.8 L1029.5,413.3 L1030.6,407.8 L1031.7,402.3 L1032.9,396.8 L1034.1,391.4 L1035.3,386.0 L1036.5,380.6 L1037.8,375.2 L1039.1,369.9 L1040.4,364.6 L1041.8,359.4 L1043.2,354.2 L1044.7,349.1 L1046.2,344.0 L1047.8,338.9 L1049.3,334.0 L1051.0,329.1 L1052.7,324.2 L1054.4,319.5 L1056.1,314.8 L1057.9,310.3 L1059.7,305.9 L1061.5,301.7 L1063.3,297.7 L1065.1,293.8 L1066.8,290.2 L1068.6,286.8 L1070.3,283.6 L1071.9,280.8 L1073.6,278.2 L1075.2,275.8 L1076.8,273.6 L1078.4,271.5 L1080.1,269.5 L1081.9,267.6 L1083.7,265.7 L1085.7,263.7 L1087.7,261.8 L1089.8,259.8 L1092.0,257.9 L1094.2,255.9 L1096.5,253.9 L1098.8,251.8 L1101.2,249.8 L1103.6,247.7 L1106.0,245.6 L1108.5,243.5 L1110.9,241.5 L1113.4,239.5 L1116.0,237.6 L1118.5,235.7 L1121.0,234.0 L1123.6,232.3 L1126.1,230.8 L1128.7,229.3 L1131.2,228.0 L1133.8,226.8 L1136.4,225.6 L1139.0,224.5 L1141.6,223.5 L1144.2,222.6 L1146.9,221.7 L1149.5,220.9 L1152.2,220.2 L1154.9,219.5 L1157.6,218.9 L1160.3,218.3 L1163.0,217.7 L1165.8,217.2 L1168.6,216.7 L1171.4,216.2 L1174.2,215.7 L1177.1,215.2 L1180.0,214.8 L1182.9,214.3 L1185.8,213.9 L1188.7,213.4 L1191.7,213.0 L1194.7,212.5 L1197.6,212.1 L1200.5,211.7 L1203.4,211.2 L1206.3,210.8 L1209.1,210.3 L1212.0,209.9 L1214.8,209.5 L1217.6,209.0 L1220.6,208.6 L1223.7,208.1 L1226.9,207.6 L1230.3,207.0 L1233.8,206.4 L1237.5,205.8 L1241.3,205.2 L1245.2,204.5 L1249.1,203.8 L1253.1,203.1 L1257.2,202.3 L1261.2,201.5 L1265.3,200.6 L1269.4,199.7 L1273.4,198.8 L1277.4,197.8 L1281.3,196.8 L1285.2,195.8 L1289.1,194.7 L1293.0,193.7 L1296.9,192.6 L1300.8,191.5 L1304.6,190.4 L1308.5,189.2 L1312.3,188.1 L1316.2,187.0 L1320.0,185.9 L1323.9,184.8 L1327.8,183.7 L1331.7,182.6 L1335.7,181.5 L1339.6,180.5 L1343.6,179.4 L1347.6,178.5 L1351.7,177.5 L1355.8,176.6 L1359.9,175.7 L1364.1,174.8 L1368.3,174.0 L1372.5,173.3 L1376.7,172.6 L1381.0,171.9 L1385.1,171.3 L1389.3,170.7 L1393.4,170.1 L1397.5,169.6 L1401.5,169.2 L1405.5,168.7 L1409.4,168.4 L1413.3,168.1 L1417.1,167.8 L1420.8,167.6 L1424.5,167.4 L1428.2,167.2 L1431.9,167.1 L1435.6,167.0 L1439.2,167.0 L1442.9,167.0 L1446.5,167.1 L1450.1,167.2 L1453.8,167.3 L1457.5,167.4 L1461.1,167.6 L1464.9,167.8 L1468.6,168.1 L1472.4,168.3 L1476.2,168.7 L1480.1,169.0 L1484.0,169.4 L1488.0,169.8 L1492.1,170.2 L1496.2,170.6 L1500.4,171.1 L1504.7,171.6 L1509.1,172.1 L1513.6,172.7 L1518.2,173.2 L1522.9,173.8 L1527.7,174.4 L1532.6,175.0 L1537.6,175.7 L1542.8,176.3 L1548.0,177.0 L1553.3,177.7 L1558.7,178.3 L1564.1,179.0 L1569.7,179.7 L1575.3,180.4 L1580.9,181.1 L1586.6,181.7 L1592.3,182.4 L1598.1,183.0 L1603.9,183.7 L1609.7,184.3 L1615.5,184.9 L1621.3,185.5 L1627.1,186.1 L1633.0,186.6 L1638.8,187.1 L1644.5,187.6 L1650.3,188.0 L1656.0,188.4 L1661.7,188.8 L1667.3,189.2 L1672.9,189.4 L1678.4,189.7 L1683.8,189.9 L1689.2,190.0 L1694.5,190.1 L1699.6,190.2 L1704.8,190.2 L1709.8,190.1 L1714.9,190.0 L1720.0,189.9 L1725.1,189.7 L1730.2,189.5 L1735.4,189.2 L1740.8,189.0 L1746.3,188.7 L1751.9,188.4 L1757.7,188.1 L1763.7,187.8 L1769.9,187.5 L1776.4,187.2"/>
<path class="c" stroke="#00ff00" d="M992.2,641.0 L993.2,636.9 L994.0,633.0 L994.9,629.1 L995.6,625.4 L996.4,621.7 L997.1,618.0 L997.7,614.5 L998.3,610.9 L998.9,607.4 L999.4,604.0 L1000.0,600.5 L1000.5,597.0 L1001.0,593.5 L1001.4,590.0 L1001.9,586.5 L1002.4,582.9 L1002.9,579.3 L1003.4,575.6 L1003.9,571.8 L1004.4,567.9 L1005.0,563.9 L1005.5,559.8 L1006.1,555.6 L1006.8,551.3 L1007.4,546.9 L1008.1,542.4 L1008.8,537.7 L1009.5,533.0 L1010.3,528.2 L1011.0,523.4 L1011.8,518.4 L1012.6,513.5 L1013.4,508.4 L1014.2,503.3 L1015.0,498.2 L1015.9,493.0 L1016.7,487.8 L1017.5,482.6 L1018.4,477.4 L1019.2,472.1 L1020.1,466.8 L1020.9,461.5 L1021.8,456.2 L1022.7,450.9 L1023.6,445.6 L1024.5,440.3 L1025.4,435.0 L1026.4,429.7 L1027.4,424.4 L1028.3,419.0 L1029.4,413.8 L1030.4,408.5 L1031.5,403.2 L1032.6,398.0 L1033.7,392.7 L1034.8,387.5 L1036.0,382.4 L1037.2,377.2 L1038.5,372.1 L1039.8,367.0 L1041.1,362.0 L1042.5,357.0 L1043.9,352.0 L1045.3,347.1 L1046.8,342.2 L1048.3,337.4 L1049.9,332.6 L1051.5,327.9 L1053.2,323.2 L1054.9,318.6 L1056.7,314.2 L1058.4,309.8 L1060.2,305.6 L1062.0,301.5 L1063.9,297.6 L1065.7,293.9 L1067.5,290.4 L1069.3,287.2 L1071.1,284.1 L1072.9,281.4 L1074.7,278.9 L1076.5,276.6 L1078.2,274.6 L1080.1,272.7 L1082.0,271.0 L1084.0,269.3 L1086.1,267.7 L1088.4,266.2 L1090.8,264.6 L1093.3,263.1 L1095.8,261.5 L1098.4,260.0 L1101.0,258.4 L1103.7,256.8 L1106.3,255.1 L1108.9,253.4 L1111.5,251.6 L1114.1,249.8 L1116.6,248.0 L1119.0,246.1 L1121.5,244.2 L1123.9,242.4 L1126.3,240.6 L1128.7,238.8 L1131.1,237.2 L1133.5,235.6 L1136.0,234.0 L1138.4,232.6 L1140.8,231.3 L1143.2,230.0 L1145.6,228.8 L1148.0,227.6 L1150.4,226.6 L1152.8,225.6 L1155.1,224.6 L1157.5,223.8 L1159.9,223.0 L1162.2,222.2 L1164.5,221.5 L1166.8,220.9 L1169.0,220.3 L1171.3,219.8 L1173.5,219.3 L1175.7,218.9 L1177.9,218.5 L1180.0,218.2 L1182.1,217.9 L1184.2,217.7 L1186.2,217.5 L1188.3,217.3 L1190.3,217.2 L1192.3,217.1 L1194.4,217.0 L1196.4,217.0 L1198.5,217.0 L1200.6,217.1 L1202.7,217.2 L1204.9,217.3 L1207.2,217.5 L1209.5,217.7 L1211.8,217.9 L1214.3,218.2 L1216.8,218.4 L1219.4,218.8 L1222.1,219.1 L1225.0,219.5 L1227.9,219.9 L1230.9,220.3 L1234.1,220.8 L1237.3,221.3 L1240.6,221.7 L1244.1,222.2 L1247.6,222.8 L1251.1,223.3 L1254.8,223.8 L1258.5,224.3 L1262.2,224.8 L1266.0,225.4 L1269.9,225.9 L1273.8,226.4 L1277.8,226.8 L1281.7,227.3 L1285.7,227.8 L1289.8,228.2 L1293.8,228.6 L1297.9,229.0 L1301.9,229.3 L1306.0,229.6 L1310.0,229.9 L1314.1,230.1 L1318.1,230.3 L1322.2,230.5 L1326.3,230.6 L1330.4,230.7 L1334.6,230.7 L1338.8,230.7 L1343.0,230.7 L1347.4,230.7 L1351.8,230.6 L1356.3,230.5 L1360.9,230.4 L1365.6,230.2 L1370.3,230.0 L1375.2,229.8 L1380.1,229.6 L1385.1,229.3 L1390.2,229.0 L1395.3,228.7 L1400.5,228.4 L1405.8,228.1 L1411.1,227.7 L1416.5,227.3 L1421.9,226.9 L1427.3,226.5 L1432.8,226.1 L1438.3,225.6 L1443.8,225.1 L1449.4,224.7 L1455.0,224.2 L1460.6,223.7 L1466.2,223.2 L1471.8,222.6 L1477.4,222.1 L1483.0,221.6 L1488.6,221.0 L1494.2,220.5 L1499.8,219.9 L1505.3,219.4 L1510.8,218.8 L1516.3,218.3 L1521.8,217.7 L1527.2,217.1 L1532.6,216.6 L1537.9,216.0 L1543.3,215.5 L1548.5,214.9 L1553.8,214.4 L1559.1,213.8 L1564.3,213.3 L1569.5,212.8 L1574.7,212.3 L1579.9,211.8 L1585.1,211.3 L1590.4,210.8 L1595.6,210.3 L1600.8,209.9 L1606.1,209.5 L1611.4,209.1 L1616.7,208.7 L1622.1,208.3 L1627.4,207.9 L1632.8,207.6 L1638.2,207.3 L1643.6,207.0 L1649.1,206.7 L1654.5,206.4 L1659.9,206.2 L1665.4,206.0 L1670.8,205.7 L1676.3,205.5 L1681.7,205.3 L1687.2,205.1 L1692.6,205.0 L1698.0,204.8 L1703.4,204.6 L1708.8,204.5 L1714.2,204.4 L1719.6,204.2 L1724.9,204.1 L1730.2,204.0 L1735.5,203.9 L1740.7,203.8 L1745.9,203.7 L1751.1,203.6 L1756.3,203.6 L1761.4,203.5 L1766.4,203.4 L1771.4,203.4 L1776.4,203.3"/>
<path class="c" stroke="#00ff00" d="M992.2,641.0 L993.0,637.3 L993.8,633.6 L994.5,630.0 L995.2,626.5 L995.8,623.0 L996.4,619.6 L997.0,616.2 L997.5,612.8 L998.1,609.4 L998.6,606.1 L999.1,602.7 L999.5,599.3 L1000.0,596.0 L1000.4,592.6 L1000.9,589.2 L1001.3,585.7 L1001.7,582.2 L1002.1,578.7 L1002.5,575.1 L1003.0,571.5 L1003.4,567.7 L1003.9,563.9 L1004.3,560.0 L1004.8,556.0 L1005.3,552.0 L1005.8,547.8 L1006.3,543.6 L1006.8,539.2 L1007.4,534.9 L1008.0,530.4 L1008.6,525.9 L1009.2,521.3 L1009.8,516.6 L1010.5,511.9 L1011.1,507.2 L1011.8,502.4 L1012.5,497.5 L1013.3,492.6 L1014.0,487.7 L1014.8,482.8 L1015.6,477.8 L1016.4,472.8 L1017.3,467.8 L1018.2,462.8 L1019.0,457.7 L1019.9,452.6 L1020.9,447.6 L1021.8,442.5 L1022.8,437.4 L1023.7,432.3 L1024.7,427.2 L1025.8,422.2 L1026.8,417.1 L1027.8,412.0 L1028.9,407.0 L1030.0,402.0 L1031.1,396.9 L1032.2,392.0 L1033.3,387.0 L1034.4,382.1 L1035.6,377.2 L1036.7,372.3 L1037.9,367.5 L1039.1,362.7 L1040.3,358.0 L1041.5,353.3 L1042.7,348.7 L1043.9,344.1 L1045.1,339.6 L1046.4,335.1 L1047.6,330.7 L1048.9,326.4 L1050.2,322.1 L1051.4,317.9 L1052.7,313.8 L1054.0,309.7 L1055.3,305.7 L1056.6,301.8 L1057.9,298.0 L1059.2,294.3 L1060.5,290.6 L1061.8,287.1 L1063.2,283.6 L1064.5,280.3 L1065.8,277.0 L1067.1,273.8 L1068.4,270.8 L1069.7,267.8 L1071.0,264.9 L1072.3,262.2 L1073.6,259.6 L1074.9,257.0 L1076.2,254.6 L1077.5,252.3 L1078.8,250.2 L1080.1,248.1 L1081.4,246.2 L1082.7,244.4 L1084.0,242.6 L1085.4,241.1 L1086.9,239.6 L1088.4,238.2 L1090.0,236.9 L1091.6,235.7 L1093.3,234.6 L1095.1,233.6 L1096.9,232.7 L1098.8,231.8 L1100.7,231.0 L1102.7,230.3 L1104.8,229.6 L1106.9,229.0 L1109.0,228.5 L1111.2,228.0 L1113.4,227.5 L1115.7,227.1 L1118.0,226.7 L1120.4,226.3 L1122.8,226.0 L1125.2,225.6 L1127.8,225.4 L1130.3,225.1 L1132.9,224.9 L1135.6,224.7 L1138.3,224.5 L1141.1,224.4 L1144.0,224.3 L1146.9,224.2 L1149.9,224.1 L1152.9,224.0 L1156.1,224.0 L1159.3,224.0 L1162.5,224.0 L1165.8,224.0 L1169.3,224.0 L1172.7,224.0 L1176.3,224.1 L1179.8,224.2 L1183.5,224.2 L1187.2,224.3 L1190.9,224.4 L1194.7,224.5 L1198.5,224.5 L1202.3,224.6 L1206.2,224.7 L1210.1,224.7 L1214.0,224.8 L1217.9,224.8 L1221.9,224.8 L1225.9,224.9 L1230.0,224.9 L1234.1,224.8 L1238.3,224.8 L1242.6,224.7 L1246.9,224.6 L1251.3,224.5 L1255.8,224.4 L1260.4,224.2 L1265.0,224.0 L1269.8,223.8 L1274.7,223.5 L1279.6,223.3 L1284.7,223.0 L1289.8,222.6 L1294.9,222.3 L1300.1,222.0 L1305.4,221.6 L1310.7,221.3 L1316.0,220.9 L1321.4,220.6 L1326.8,220.2 L1332.2,219.9 L1337.6,219.6 L1343.0,219.3 L1348.4,219.0 L1353.8,218.8 L1359.2,218.6 L1364.5,218.4 L1369.9,218.2 L1375.2,218.0 L1380.5,217.9 L1385.7,217.8 L1391.0,217.8 L1396.2,217.7 L1401.4,217.7 L1406.6,217.7 L1411.8,217.7 L1417.0,217.7 L1422.2,217.8 L1427.3,217.9 L1432.4,218.0 L1437.6,218.1 L1442.7,218.2 L1447.8,218.4 L1452.9,218.5 L1458.0,218.7 L1463.0,218.9 L1468.1,219.1 L1473.2,219.3 L1478.2,219.6 L1483.3,219.8 L1488.3,220.1 L1493.3,220.3 L1498.4,220.6 L1503.4,220.9 L1508.4,221.2 L1513.5,221.5 L1518.5,221.8 L1523.5,222.1 L1528.6,222.4 L1533.6,222.7 L1538.6,223.1 L1543.6,223.4 L1548.7,223.7 L1553.7,224.1 L1558.8,224.4 L1563.8,224.7 L1568.9,225.1 L1573.9,225.4 L1579.0,225.8 L1584.1,226.1 L1589.1,226.4 L1594.2,226.8 L1599.3,227.1 L1604.4,227.4 L1609.5,227.7 L1614.7,228.0 L1619.8,228.3 L1625.0,228.6 L1630.1,228.9 L1635.3,229.2 L1640.5,229.4 L1645.6,229.7 L1650.8,229.9 L1656.0,230.2 L1661.1,230.4 L1666.3,230.6 L1671.5,230.7 L1676.6,230.9 L1681.8,231.0 L1686.9,231.1 L1692.1,231.2 L1697.2,231.3 L1702.3,231.4 L1707.4,231.4 L1712.5,231.4 L1717.5,231.3 L1722.6,231.3 L1727.6,231.2 L1732.6,231.1 L1737.6,230.9 L1742.5,230.7 L1747.4,230.5 L1752.4,230.2 L1757.2,229.9 L1762.1,229.6 L1766.9,229.3 L1771.7,228.8 L1776.4,228.4"/>
<path class="c" stroke="#ff0000" d="M992.2,641.0 L992.6,636.9 L992.9,633.0 L993.3,629.1 L993.6,625.4 L993.9,621.7 L994.2,618.1 L994.5,614.5 L994.8,611.0 L995.1,607.5 L995.4,604.0 L995.7,600.6 L996.0,597.1 L996.3,593.6 L996.6,590.1 L996.9,586.6 L997.3,583.1 L997.6,579.5 L997.9,575.8 L998.3,572.0 L998.7,568.2 L999.1,564.3 L999.6,560.2 L1000.0,556.1 L1000.5,551.8 L1001.0,547.4 L1001.5,543.0 L1002.1,538.4 L1002.6,533.8 L1003.2,529.0 L1003.8,524.2 L1004.4,519.4 L1005.1,514.4 L1005.8,509.4 L1006.5,504.4 L1007.2,499.3 L1007.9,494.2 L1008.7,489.0 L1009.4,483.8 L1010.2,478.6 L1011.0,473.4 L1011.9,468.1 L1012.7,462.9 L1013.6,457.6 L1014.4,452.3 L1015.3,447.0 L1016.2,441.7 L1017.2,436.4 L1018.1,431.1 L1019.0,425.8 L1020.0,420.5 L1021.0,415.2 L1022.0,410.0 L1023.0,404.7 L1024.0,399.5 L1025.0,394.3 L1026.0,389.2 L1027.0,384.0 L1028.1,378.9 L1029.1,373.8 L1030.2,368.8 L1031.2,363.8 L1032.3,358.9 L1033.4,354.0 L1034.5,349.2 L1035.5,344.4 L1036.6,339.6 L1037.7,335.0 L1038.8,330.4 L1039.9,325.9 L1041.0,321.4 L1042.1,317.0 L1043.2,312.7 L1044.3,308.4 L1045.3,304.2 L1046.4,300.1 L1047.4,296.1 L1048.5,292.2 L1049.5,288.3 L1050.5,284.5 L1051.5,280.8 L1052.4,277.1 L1053.4,273.6 L1054.3,270.1 L1055.3,266.6 L1056.3,263.1 L1057.3,259.6 L1058.4,256.1 L1059.6,252.6 L1061.0,249.0 L1062.4,245.3 L1063.9,241.5 L1065.6,237.6 L1067.5,233.6 L1069.5,229.5 L1071.6,225.3 L1073.9,221.1 L1076.2,216.9 L1078.6,212.6 L1081.1,208.4 L1083.7,204.2 L1086.3,200.1 L1088.9,196.1 L1091.6,192.2 L1094.3,188.4 L1097.0,184.7 L1099.6,181.3 L1102.3,178.0 L1104.9,175.0 L1107.5,172.1 L1110.1,169.4 L1112.6,166.8 L1115.2,164.4 L1117.8,162.1 L1120.4,159.9 L1123.0,157.9 L1125.5,156.0 L1128.2,154.1 L1130.8,152.3 L1133.5,150.7 L1136.2,149.0 L1138.9,147.4 L1141.7,145.9 L1144.5,144.4 L1147.3,142.9 L1150.3,141.4 L1153.2,139.9 L1156.3,138.3 L1159.3,136.8 L1162.4,135.3 L1165.6,133.8 L1168.7,132.4 L1171.7,131.0 L1174.7,129.7 L1177.6,128.4 L1180.5,127.3 L1183.2,126.3 L1185.8,125.4 L1188.3,124.6 L1190.7,123.9 L1193.1,123.3 L1195.6,122.7 L1198.3,122.1 L1201.0,121.6 L1204.0,121.0 L1207.2,120.3 L1210.5,119.7 L1213.9,119.0 L1217.4,118.3 L1220.9,117.6 L1224.5,116.9 L1228.1,116.2 L1231.7,115.5 L1235.2,114.8 L1238.7,114.1 L1242.0,113.5 L1245.3,112.9 L1248.5,112.3 L1251.8,111.7 L1255.0,111.2 L1258.3,110.7 L1261.8,110.2 L1265.4,109.9 L1269.1,109.5 L1273.1,109.2 L1277.3,109.0 L1281.7,108.9 L1286.3,108.8 L1291.1,108.7 L1296.0,108.7 L1301.1,108.7 L1306.3,108.8 L1311.6,108.9 L1317.1,109.0 L1322.6,109.1 L1328.1,109.2 L1333.7,109.4 L1339.4,109.5 L1345.1,109.7 L1350.7,109.8 L1356.4,110.0 L1362.0,110.1 L1367.6,110.2 L1373.1,110.3 L1378.7,110.4 L1384.2,110.5 L1389.7,110.6 L1395.2,110.6 L1400.7,110.7 L1406.1,110.8 L1411.6,110.8 L1417.0,110.8 L1422.4,110.9 L1427.7,110.9 L1433.1,110.9 L1438.4,110.9 L1443.8,110.9 L1449.1,110.9 L1454.4,110.9 L1459.7,110.9 L1465.0,110.9 L1470.3,110.9 L1475.6,110.9 L1480.8,110.9 L1486.1,110.9 L1491.4,110.8 L1496.6,110.8 L1501.9,110.8 L1507.1,110.8 L1512.3,110.7 L1517.6,110.7 L1522.8,110.7 L1528.0,110.7 L1533.3,110.6 L1538.5,110.6 L1543.8,110.6 L1549.0,110.6 L1554.3,110.6 L1559.5,110.6 L1564.8,110.6 L1570.0,110.6 L1575.3,110.6 L1580.6,110.6 L1585.9,110.6 L1591.2,110.6 L1596.5,110.7 L1601.8,110.7 L1607.2,110.7 L1612.5,110.8 L1617.9,110.8 L1623.2,110.9 L1628.6,111.0 L1634.0,111.1 L1639.4,111.1 L1644.8,111.2 L1650.2,111.3 L1655.6,111.4 L1661.0,111.6 L1666.4,111.7 L1671.8,111.8 L1677.2,111.9 L1682.6,112.1 L1688.0,112.2 L1693.3,112.3 L1698.7,112.5 L1704.0,112.6 L1709.3,112.8 L1714.6,113.0 L1719.9,113.1 L1725.2,113.3 L1730.4,113.5 L1735.7,113.7 L1740.9,113.8 L1746.0,114.0 L1751.2,114.2 L1756.3,114.4 L1761.4,114.6 L1766.4,114.8 L1771.4,115.0 L1776.4,115.2"/>
<path class="c" stroke="#ff0000" d="M992.2,641.0 L992.6,636.9 L993.0,633.0 L993.3,629.2 L993.7,625.4 L994.0,621.7 L994.3,618.1 L994.6,614.5 L994.9,611.0 L995.2,607.5 L995.5,604.0 L995.8,600.6 L996.1,597.1 L996.5,593.7 L996.8,590.2 L997.1,586.7 L997.4,583.1 L997.8,579.5 L998.1,575.8 L998.5,572.1 L998.9,568.2 L999.3,564.3 L999.7,560.3 L1000.2,556.1 L1000.7,551.9 L1001.2,547.5 L1001.7,543.0 L1002.2,538.5 L1002.8,533.8 L1003.4,529.1 L1004.0,524.3 L1004.6,519.5 L1005.3,514.5 L1006.0,509.5 L1006.7,504.5 L1007.4,499.4 L1008.1,494.3 L1008.9,489.2 L1009.6,484.0 L1010.4,478.8 L1011.2,473.5 L1012.0,468.3 L1012.9,463.0 L1013.8,457.7 L1014.6,452.4 L1015.5,447.1 L1016.4,441.8 L1017.3,436.5 L1018.3,431.2 L1019.2,426.0 L1020.2,420.7 L1021.2,415.4 L1022.2,410.1 L1023.1,404.9 L1024.2,399.7 L1025.2,394.5 L1026.2,389.3 L1027.2,384.2 L1028.3,379.1 L1029.3,374.0 L1030.4,369.0 L1031.4,364.0 L1032.5,359.1 L1033.6,354.2 L1034.7,349.3 L1035.8,344.6 L1036.9,339.8 L1038.0,335.2 L1039.1,330.6 L1040.2,326.1 L1041.3,321.6 L1042.3,317.2 L1043.4,312.9 L1044.5,308.6 L1045.6,304.5 L1046.7,300.4 L1047.7,296.3 L1048.8,292.4 L1049.8,288.5 L1050.8,284.7 L1051.8,281.0 L1052.8,277.3 L1053.8,273.8 L1054.8,270.2 L1055.7,266.8 L1056.8,263.3 L1057.8,259.8 L1059.0,256.3 L1060.2,252.8 L1061.5,249.2 L1062.9,245.5 L1064.5,241.8 L1066.2,237.9 L1068.0,233.9 L1070.0,229.9 L1072.1,225.8 L1074.3,221.6 L1076.6,217.4 L1079.0,213.2 L1081.5,209.0 L1084.0,204.9 L1086.6,200.8 L1089.2,196.9 L1091.8,193.0 L1094.5,189.3 L1097.2,185.7 L1099.8,182.3 L1102.4,179.1 L1105.0,176.0 L1107.6,173.2 L1110.2,170.5 L1112.8,167.9 L1115.4,165.5 L1117.9,163.3 L1120.5,161.1 L1123.1,159.1 L1125.7,157.2 L1128.4,155.3 L1131.0,153.5 L1133.7,151.8 L1136.4,150.2 L1139.1,148.6 L1141.9,147.1 L1144.7,145.5 L1147.6,144.0 L1150.5,142.5 L1153.5,141.0 L1156.5,139.5 L1159.5,138.0 L1162.6,136.5 L1165.7,135.1 L1168.8,133.6 L1171.8,132.3 L1174.8,131.0 L1177.7,129.7 L1180.5,128.6 L1183.3,127.6 L1185.9,126.7 L1188.4,126.0 L1190.8,125.3 L1193.3,124.6 L1195.9,124.0 L1198.5,123.5 L1201.3,122.9 L1204.3,122.3 L1207.5,121.6 L1210.8,121.0 L1214.2,120.3 L1217.7,119.6 L1221.2,119.0 L1224.8,118.3 L1228.3,117.6 L1231.9,116.9 L1235.4,116.3 L1238.8,115.6 L1242.1,115.0 L1245.4,114.4 L1248.6,113.8 L1251.9,113.3 L1255.2,112.8 L1258.5,112.3 L1262.0,111.9 L1265.6,111.5 L1269.3,111.2 L1273.3,110.9 L1277.6,110.7 L1282.0,110.6 L1286.6,110.5 L1291.4,110.4 L1296.3,110.4 L1301.4,110.4 L1306.6,110.4 L1312.0,110.5 L1317.4,110.6 L1322.9,110.7 L1328.4,110.9 L1334.1,111.0 L1339.7,111.1 L1345.3,111.3 L1351.0,111.4 L1356.6,111.5 L1362.2,111.7 L1367.8,111.8 L1373.4,111.9 L1378.9,112.0 L1384.5,112.1 L1390.0,112.1 L1395.4,112.2 L1400.9,112.3 L1406.3,112.3 L1411.8,112.4 L1417.2,112.4 L1422.5,112.4 L1427.9,112.5 L1433.3,112.5 L1438.6,112.5 L1444.0,112.5 L1449.3,112.5 L1454.6,112.5 L1459.9,112.5 L1465.2,112.5 L1470.5,112.5 L1475.7,112.5 L1481.0,112.5 L1486.3,112.5 L1491.5,112.5 L1496.8,112.5 L1502.0,112.5 L1507.2,112.4 L1512.5,112.4 L1517.7,112.4 L1523.0,112.4 L1528.2,112.4 L1533.4,112.4 L1538.7,112.4 L1543.9,112.4 L1549.2,112.4 L1554.4,112.4 L1559.7,112.4 L1564.9,112.4 L1570.2,112.4 L1575.5,112.5 L1580.7,112.5 L1586.0,112.5 L1591.3,112.6 L1596.6,112.6 L1602.0,112.7 L1607.3,112.7 L1612.6,112.8 L1618.0,112.9 L1623.4,113.0 L1628.7,113.1 L1634.1,113.2 L1639.5,113.3 L1644.9,113.4 L1650.3,113.5 L1655.7,113.7 L1661.1,113.8 L1666.5,113.9 L1671.9,114.1 L1677.3,114.2 L1682.6,114.4 L1688.0,114.6 L1693.4,114.7 L1698.7,114.9 L1704.1,115.1 L1709.4,115.3 L1714.7,115.4 L1720.0,115.6 L1725.2,115.8 L1730.5,116.0 L1735.7,116.2 L1740.9,116.5 L1746.0,116.7 L1751.2,116.9 L1756.3,117.1 L1761.4,117.3 L1766.4,117.5 L1771.4,117.8 L1776.4,118.0"/>
<path class="c" stroke="#ff0000" d="M992.2,641.0 L992.6,636.8 L993.1,632.8 L993.5,628.8 L993.9,625.0 L994.2,621.4 L994.6,617.7 L995.0,614.2 L995.3,610.7 L995.6,607.3 L996.0,603.9 L996.3,600.6 L996.6,597.2 L997.0,593.9 L997.3,590.5 L997.7,587.0 L998.0,583.6 L998.4,580.0 L998.7,576.4 L999.1,572.7 L999.5,568.9 L999.9,565.0 L1000.4,560.9 L1000.8,556.7 L1001.3,552.3 L1001.8,547.9 L1002.3,543.3 L1002.9,538.6 L1003.4,533.8 L1004.0,529.0 L1004.6,524.0 L1005.2,519.1 L1005.9,514.0 L1006.5,509.0 L1007.2,503.9 L1007.9,498.8 L1008.6,493.7 L1009.4,488.6 L1010.1,483.5 L1010.9,478.4 L1011.7,473.4 L1012.5,468.3 L1013.3,463.3 L1014.2,458.2 L1015.0,453.2 L1015.9,448.1 L1016.8,443.0 L1017.8,437.9 L1018.7,432.8 L1019.7,427.7 L1020.7,422.5 L1021.7,417.3 L1022.7,412.1 L1023.8,406.8 L1024.8,401.5 L1025.9,396.2 L1027.0,390.9 L1028.2,385.5 L1029.3,380.2 L1030.4,374.9 L1031.6,369.7 L1032.7,364.5 L1033.8,359.3 L1034.9,354.2 L1036.0,349.2 L1037.1,344.2 L1038.2,339.4 L1039.3,334.7 L1040.3,330.1 L1041.3,325.6 L1042.3,321.2 L1043.3,316.9 L1044.3,312.8 L1045.2,308.7 L1046.2,304.8 L1047.1,300.9 L1048.1,297.0 L1049.1,293.3 L1050.1,289.6 L1051.1,285.9 L1052.2,282.3 L1053.3,278.7 L1054.4,275.1 L1055.5,271.5 L1056.7,268.0 L1058.0,264.4 L1059.3,260.8 L1060.7,257.2 L1062.2,253.6 L1063.7,249.9 L1065.3,246.2 L1066.9,242.4 L1068.7,238.6 L1070.6,234.7 L1072.5,230.8 L1074.5,226.8 L1076.6,222.8 L1078.7,218.8 L1081.0,214.8 L1083.2,210.8 L1085.5,207.0 L1087.9,203.1 L1090.3,199.4 L1092.7,195.8 L1095.2,192.3 L1097.7,188.9 L1100.2,185.7 L1102.7,182.6 L1105.3,179.7 L1107.8,176.9 L1110.4,174.3 L1113.0,171.8 L1115.6,169.5 L1118.2,167.2 L1120.9,165.1 L1123.5,163.1 L1126.2,161.1 L1128.9,159.2 L1131.6,157.4 L1134.4,155.7 L1137.2,154.1 L1140.0,152.4 L1142.8,150.9 L1145.6,149.3 L1148.5,147.8 L1151.4,146.3 L1154.3,144.9 L1157.3,143.4 L1160.3,141.9 L1163.3,140.5 L1166.2,139.1 L1169.2,137.7 L1172.1,136.4 L1175.0,135.2 L1177.9,134.1 L1180.7,133.0 L1183.4,132.0 L1186.1,131.1 L1188.7,130.4 L1191.3,129.6 L1194.0,129.0 L1196.7,128.4 L1199.4,127.8 L1202.4,127.2 L1205.4,126.6 L1208.6,126.0 L1211.8,125.3 L1215.2,124.7 L1218.6,124.1 L1222.0,123.5 L1225.5,122.9 L1228.9,122.3 L1232.4,121.8 L1235.8,121.2 L1239.1,120.6 L1242.4,120.1 L1245.7,119.5 L1249.0,119.0 L1252.3,118.5 L1255.6,118.1 L1259.0,117.6 L1262.6,117.2 L1266.3,116.9 L1270.2,116.5 L1274.2,116.3 L1278.5,116.0 L1283.0,115.8 L1287.7,115.7 L1292.5,115.6 L1297.5,115.5 L1302.6,115.4 L1307.8,115.4 L1313.1,115.4 L1318.5,115.4 L1324.0,115.4 L1329.5,115.4 L1335.1,115.5 L1340.7,115.5 L1346.3,115.5 L1351.9,115.6 L1357.5,115.6 L1363.1,115.7 L1368.6,115.7 L1374.2,115.7 L1379.7,115.7 L1385.2,115.7 L1390.6,115.7 L1396.1,115.7 L1401.5,115.7 L1407.0,115.7 L1412.4,115.7 L1417.7,115.7 L1423.1,115.7 L1428.5,115.7 L1433.8,115.6 L1439.2,115.6 L1444.5,115.6 L1449.8,115.6 L1455.1,115.5 L1460.4,115.5 L1465.7,115.5 L1470.9,115.5 L1476.2,115.4 L1481.5,115.4 L1486.7,115.4 L1492.0,115.3 L1497.2,115.3 L1502.5,115.3 L1507.7,115.3 L1513.0,115.2 L1518.2,115.2 L1523.4,115.2 L1528.7,115.2 L1533.9,115.2 L1539.1,115.1 L1544.4,115.1 L1549.6,115.1 L1554.9,115.1 L1560.1,115.1 L1565.4,115.2 L1570.6,115.2 L1575.9,115.2 L1581.2,115.2 L1586.5,115.3 L1591.7,115.3 L1597.1,115.3 L1602.4,115.4 L1607.7,115.4 L1613.0,115.5 L1618.4,115.6 L1623.7,115.7 L1629.1,115.8 L1634.4,115.8 L1639.8,115.9 L1645.2,116.1 L1650.6,116.2 L1656.0,116.3 L1661.3,116.4 L1666.7,116.5 L1672.1,116.7 L1677.4,116.8 L1682.8,117.0 L1688.2,117.1 L1693.5,117.3 L1698.8,117.5 L1704.1,117.6 L1709.4,117.8 L1714.7,118.0 L1720.0,118.2 L1725.2,118.4 L1730.5,118.6 L1735.7,118.8 L1740.9,119.0 L1746.0,119.2 L1751.2,119.4 L1756.3,119.6 L1761.4,119.8 L1766.4,120.0 L1771.4,120.3 L1776.4,120.5"/>
<path class="c" stroke="#ff0000" d="M992.2,641.0 L992.6,636.8 L993.1,632.8 L993.5,628.8 L993.8,625.0 L994.2,621.3 L994.6,617.7 L994.9,614.2 L995.3,610.7 L995.6,607.3 L995.9,603.9 L996.2,600.6 L996.6,597.2 L996.9,593.8 L997.2,590.4 L997.6,587.0 L997.9,583.5 L998.3,580.0 L998.7,576.4 L999.0,572.7 L999.4,568.9 L999.9,564.9 L1000.3,560.9 L1000.8,556.7 L1001.2,552.3 L1001.7,547.8 L1002.3,543.3 L1002.8,538.6 L1003.4,533.8 L1003.9,528.9 L1004.5,524.0 L1005.2,519.0 L1005.8,514.0 L1006.5,508.9 L1007.1,503.8 L1007.8,498.7 L1008.6,493.6 L1009.3,488.5 L1010.0,483.4 L1010.8,478.4 L1011.6,473.3 L1012.4,468.3 L1013.2,463.2 L1014.1,458.2 L1015.0,453.1 L1015.8,448.0 L1016.7,443.0 L1017.7,437.9 L1018.6,432.7 L1019.6,427.6 L1020.6,422.4 L1021.6,417.2 L1022.6,412.0 L1023.7,406.7 L1024.8,401.4 L1025.9,396.1 L1027.0,390.8 L1028.1,385.5 L1029.2,380.1 L1030.3,374.8 L1031.5,369.6 L1032.6,364.4 L1033.7,359.2 L1034.9,354.1 L1036.0,349.1 L1037.1,344.1 L1038.1,339.3 L1039.2,334.6 L1040.2,329.9 L1041.2,325.5 L1042.2,321.1 L1043.2,316.8 L1044.1,312.7 L1045.1,308.6 L1046.0,304.7 L1047.0,300.8 L1048.0,297.0 L1048.9,293.2 L1049.9,289.5 L1050.9,285.8 L1052.0,282.2 L1053.1,278.6 L1054.2,275.0 L1055.3,271.5 L1056.5,267.9 L1057.8,264.3 L1059.1,260.8 L1060.5,257.1 L1061.9,253.5 L1063.5,249.8 L1065.1,246.1 L1066.7,242.3 L1068.5,238.5 L1070.4,234.5 L1072.3,230.6 L1074.3,226.6 L1076.4,222.5 L1078.6,218.5 L1080.8,214.5 L1083.1,210.6 L1085.4,206.6 L1087.8,202.8 L1090.2,199.0 L1092.6,195.4 L1095.1,191.9 L1097.6,188.5 L1100.1,185.2 L1102.7,182.2 L1105.2,179.2 L1107.8,176.5 L1110.3,173.8 L1112.9,171.4 L1115.5,169.0 L1118.1,166.7 L1120.8,164.6 L1123.5,162.5 L1126.1,160.6 L1128.8,158.7 L1131.6,156.9 L1134.3,155.2 L1137.1,153.5 L1139.9,151.9 L1142.7,150.4 L1145.6,148.8 L1148.4,147.3 L1151.3,145.8 L1154.3,144.3 L1157.2,142.9 L1160.2,141.4 L1163.2,140.0 L1166.2,138.6 L1169.1,137.2 L1172.1,135.9 L1175.0,134.7 L1177.8,133.5 L1180.6,132.4 L1183.4,131.5 L1186.0,130.6 L1188.6,129.8 L1191.2,129.1 L1193.9,128.4 L1196.6,127.8 L1199.4,127.2 L1202.3,126.6 L1205.3,126.0 L1208.5,125.4 L1211.7,124.8 L1215.1,124.1 L1218.5,123.5 L1221.9,122.9 L1225.4,122.3 L1228.9,121.7 L1232.3,121.1 L1235.7,120.5 L1239.1,119.9 L1242.4,119.4 L1245.6,118.8 L1248.9,118.3 L1252.2,117.8 L1255.5,117.4 L1259.0,116.9 L1262.5,116.5 L1266.2,116.2 L1270.1,115.9 L1274.2,115.6 L1278.4,115.4 L1282.9,115.2 L1287.6,115.1 L1292.4,115.0 L1297.4,115.0 L1302.5,115.0 L1307.7,115.0 L1313.0,115.0 L1318.4,115.0 L1323.9,115.1 L1329.4,115.2 L1335.0,115.2 L1340.6,115.3 L1346.2,115.4 L1351.8,115.5 L1357.4,115.6 L1363.0,115.7 L1368.6,115.7 L1374.1,115.8 L1379.6,115.8 L1385.1,115.9 L1390.6,115.9 L1396.0,116.0 L1401.5,116.0 L1406.9,116.0 L1412.3,116.0 L1417.7,116.1 L1423.1,116.1 L1428.4,116.1 L1433.8,116.1 L1439.1,116.1 L1444.4,116.1 L1449.7,116.1 L1455.0,116.1 L1460.3,116.1 L1465.6,116.1 L1470.9,116.1 L1476.2,116.1 L1481.4,116.1 L1486.7,116.1 L1491.9,116.1 L1497.2,116.1 L1502.4,116.1 L1507.7,116.1 L1512.9,116.1 L1518.1,116.1 L1523.4,116.1 L1528.6,116.1 L1533.9,116.1 L1539.1,116.1 L1544.3,116.2 L1549.6,116.2 L1554.8,116.2 L1560.1,116.2 L1565.3,116.3 L1570.6,116.3 L1575.9,116.4 L1581.1,116.4 L1586.4,116.5 L1591.7,116.6 L1597.0,116.6 L1602.3,116.7 L1607.7,116.8 L1613.0,116.9 L1618.3,117.0 L1623.7,117.1 L1629.1,117.2 L1634.4,117.4 L1639.8,117.5 L1645.2,117.7 L1650.6,117.8 L1655.9,118.0 L1661.3,118.1 L1666.7,118.3 L1672.1,118.5 L1677.4,118.7 L1682.8,118.9 L1688.1,119.0 L1693.5,119.3 L1698.8,119.5 L1704.1,119.7 L1709.4,119.9 L1714.7,120.1 L1720.0,120.3 L1725.2,120.6 L1730.5,120.8 L1735.7,121.0 L1740.9,121.3 L1746.0,121.5 L1751.2,121.8 L1756.3,122.0 L1761.4,122.3 L1766.4,122.6 L1771.4,122.8 L1776.4,123.1"/>
<path class="c" stroke="#ff0000" d="M992.2,641.0 L992.6,637.0 L993.0,633.2 L993.5,629.4 L993.9,625.6 L994.2,622.0 L994.6,618.4 L995.0,614.8 L995.4,611.3 L995.8,607.8 L996.1,604.3 L996.5,600.8 L996.9,597.3 L997.3,593.8 L997.6,590.3 L998.0,586.8 L998.4,583.2 L998.8,579.5 L999.2,575.9 L999.6,572.1 L1000.0,568.3 L1000.4,564.4 L1000.8,560.4 L1001.3,556.3 L1001.7,552.1 L1002.2,547.8 L1002.7,543.4 L1003.2,538.9 L1003.7,534.3 L1004.2,529.7 L1004.8,525.0 L1005.3,520.2 L1005.9,515.4 L1006.6,510.4 L1007.2,505.5 L1007.9,500.4 L1008.6,495.4 L1009.3,490.2 L1010.1,485.1 L1010.9,479.9 L1011.8,474.6 L1012.6,469.4 L1013.5,464.1 L1014.4,458.7 L1015.3,453.4 L1016.3,448.1 L1017.3,442.7 L1018.3,437.3 L1019.3,432.0 L1020.3,426.6 L1021.3,421.3 L1022.4,415.9 L1023.4,410.6 L1024.5,405.3 L1025.6,400.0 L1026.7,394.8 L1027.7,389.6 L1028.8,384.4 L1029.9,379.3 L1031.0,374.2 L1032.1,369.2 L1033.2,364.2 L1034.3,359.3 L1035.3,354.4 L1036.4,349.6 L1037.4,344.9 L1038.5,340.3 L1039.5,335.7 L1040.5,331.3 L1041.5,326.9 L1042.5,322.6 L1043.5,318.4 L1044.5,314.2 L1045.5,310.2 L1046.5,306.2 L1047.5,302.2 L1048.5,298.3 L1049.5,294.5 L1050.5,290.6 L1051.6,286.9 L1052.7,283.1 L1053.8,279.4 L1055.0,275.7 L1056.2,272.0 L1057.5,268.3 L1058.8,264.7 L1060.2,261.0 L1061.6,257.3 L1063.1,253.6 L1064.6,249.9 L1066.2,246.1 L1067.9,242.3 L1069.7,238.5 L1071.6,234.7 L1073.5,230.8 L1075.5,226.9 L1077.6,223.0 L1079.7,219.1 L1081.9,215.3 L1084.1,211.5 L1086.4,207.7 L1088.7,204.1 L1091.1,200.5 L1093.5,197.0 L1095.9,193.7 L1098.3,190.4 L1100.8,187.4 L1103.2,184.4 L1105.7,181.6 L1108.2,179.0 L1110.7,176.4 L1113.2,174.0 L1115.7,171.7 L1118.3,169.5 L1120.9,167.4 L1123.5,165.4 L1126.1,163.4 L1128.8,161.6 L1131.5,159.8 L1134.3,158.0 L1137.1,156.4 L1139.9,154.7 L1142.8,153.1 L1145.7,151.5 L1148.7,149.9 L1151.7,148.4 L1154.8,146.8 L1157.9,145.3 L1161.0,143.8 L1164.2,142.3 L1167.3,140.8 L1170.4,139.4 L1173.4,138.1 L1176.4,136.9 L1179.2,135.8 L1181.9,134.7 L1184.5,133.9 L1186.9,133.1 L1189.2,132.4 L1191.5,131.9 L1193.8,131.4 L1196.2,130.9 L1198.8,130.4 L1201.6,129.9 L1204.6,129.3 L1207.9,128.7 L1211.3,128.1 L1214.8,127.5 L1218.5,126.8 L1222.1,126.2 L1225.9,125.6 L1229.6,124.9 L1233.2,124.3 L1236.8,123.7 L1240.2,123.1 L1243.6,122.6 L1246.8,122.0 L1250.0,121.6 L1253.1,121.1 L1256.3,120.7 L1259.6,120.3 L1263.0,119.9 L1266.6,119.6 L1270.3,119.3 L1274.3,119.1 L1278.5,118.9 L1282.9,118.7 L1287.5,118.5 L1292.3,118.4 L1297.3,118.3 L1302.4,118.2 L1307.6,118.2 L1313.0,118.1 L1318.4,118.1 L1324.0,118.1 L1329.6,118.1 L1335.2,118.1 L1340.9,118.1 L1346.5,118.1 L1352.2,118.1 L1357.8,118.1 L1363.5,118.1 L1369.1,118.1 L1374.6,118.1 L1380.2,118.1 L1385.7,118.0 L1391.2,118.0 L1396.6,118.0 L1402.1,118.0 L1407.5,118.0 L1412.9,117.9 L1418.3,117.9 L1423.7,117.9 L1429.1,117.8 L1434.4,117.8 L1439.7,117.8 L1445.1,117.8 L1450.4,117.7 L1455.6,117.7 L1460.9,117.7 L1466.2,117.6 L1471.5,117.6 L1476.7,117.6 L1481.9,117.5 L1487.2,117.5 L1492.4,117.5 L1497.6,117.5 L1502.9,117.5 L1508.1,117.4 L1513.3,117.4 L1518.5,117.4 L1523.7,117.4 L1528.9,117.4 L1534.1,117.4 L1539.3,117.4 L1544.6,117.4 L1549.8,117.4 L1555.0,117.4 L1560.2,117.5 L1565.5,117.5 L1570.7,117.5 L1576.0,117.6 L1581.2,117.6 L1586.5,117.7 L1591.8,117.7 L1597.1,117.8 L1602.4,117.8 L1607.7,117.9 L1613.0,118.0 L1618.4,118.1 L1623.7,118.2 L1629.1,118.3 L1634.5,118.4 L1639.9,118.5 L1645.3,118.6 L1650.6,118.8 L1656.0,118.9 L1661.4,119.1 L1666.8,119.2 L1672.2,119.4 L1677.6,119.5 L1683.0,119.7 L1688.3,119.9 L1693.7,120.0 L1699.0,120.2 L1704.3,120.4 L1709.6,120.6 L1714.9,120.8 L1720.2,121.0 L1725.4,121.2 L1730.7,121.4 L1735.9,121.7 L1741.0,121.9 L1746.2,122.1 L1751.3,122.4 L1756.4,122.6 L1761.5,122.8 L1766.5,123.1 L1771.5,123.3 L1776.4,123.6"/>
<path class="c" stroke="#ff0000" d="M992.2,641.0 L992.7,637.0 L993.2,633.2 L993.7,629.4 L994.2,625.6 L994.7,622.0 L995.1,618.4 L995.5,614.8 L996.0,611.3 L996.4,607.8 L996.8,604.4 L997.2,600.9 L997.6,597.4 L997.9,594.0 L998.3,590.5 L998.7,586.9 L999.1,583.4 L999.5,579.8 L999.9,576.1 L1000.3,572.4 L1000.7,568.6 L1001.1,564.7 L1001.6,560.7 L1002.0,556.6 L1002.5,552.4 L1002.9,548.1 L1003.4,543.8 L1003.9,539.3 L1004.5,534.7 L1005.0,530.1 L1005.6,525.4 L1006.2,520.6 L1006.8,515.8 L1007.4,510.9 L1008.1,505.9 L1008.8,500.9 L1009.5,495.8 L1010.2,490.7 L1011.0,485.6 L1011.8,480.4 L1012.6,475.2 L1013.5,469.9 L1014.3,464.6 L1015.2,459.3 L1016.2,454.0 L1017.1,448.7 L1018.0,443.4 L1019.0,438.0 L1020.0,432.7 L1021.0,427.4 L1022.1,422.1 L1023.1,416.7 L1024.1,411.5 L1025.2,406.2 L1026.3,400.9 L1027.3,395.7 L1028.4,390.5 L1029.5,385.4 L1030.6,380.2 L1031.7,375.2 L1032.8,370.2 L1033.9,365.2 L1035.0,360.3 L1036.1,355.4 L1037.2,350.6 L1038.3,345.9 L1039.4,341.3 L1040.4,336.7 L1041.5,332.2 L1042.6,327.8 L1043.6,323.5 L1044.7,319.2 L1045.7,315.1 L1046.8,311.0 L1047.8,306.9 L1048.9,302.9 L1050.0,299.0 L1051.1,295.2 L1052.2,291.3 L1053.3,287.5 L1054.5,283.8 L1055.7,280.1 L1056.9,276.4 L1058.2,272.7 L1059.5,269.1 L1060.8,265.4 L1062.2,261.8 L1063.7,258.2 L1065.2,254.6 L1066.7,250.9 L1068.4,247.3 L1070.0,243.7 L1071.8,240.0 L1073.6,236.3 L1075.5,232.6 L1077.4,228.9 L1079.4,225.2 L1081.5,221.5 L1083.6,217.9 L1085.7,214.3 L1087.9,210.8 L1090.2,207.3 L1092.4,203.9 L1094.7,200.6 L1097.1,197.5 L1099.4,194.4 L1101.8,191.5 L1104.1,188.8 L1106.5,186.1 L1109.0,183.6 L1111.4,181.2 L1113.9,178.9 L1116.4,176.6 L1118.9,174.5 L1121.5,172.5 L1124.1,170.5 L1126.7,168.6 L1129.4,166.8 L1132.1,165.0 L1134.9,163.3 L1137.7,161.6 L1140.6,159.9 L1143.5,158.3 L1146.5,156.7 L1149.5,155.1 L1152.6,153.5 L1155.8,152.0 L1159.0,150.4 L1162.2,148.8 L1165.5,147.3 L1168.7,145.9 L1171.8,144.5 L1174.8,143.2 L1177.8,142.0 L1180.5,140.9 L1183.2,140.0 L1185.6,139.2 L1187.8,138.5 L1190.0,138.0 L1192.1,137.6 L1194.2,137.1 L1196.5,136.7 L1199.1,136.3 L1201.8,135.9 L1204.9,135.4 L1208.2,134.8 L1211.6,134.2 L1215.2,133.6 L1219.0,133.0 L1222.7,132.4 L1226.6,131.8 L1230.3,131.2 L1234.1,130.6 L1237.7,130.1 L1241.3,129.5 L1244.6,129.1 L1247.9,128.6 L1251.2,128.2 L1254.4,127.8 L1257.7,127.5 L1261.1,127.2 L1264.5,126.9 L1268.1,126.6 L1271.9,126.3 L1275.9,126.1 L1280.1,125.8 L1284.5,125.6 L1289.1,125.4 L1293.8,125.2 L1298.7,125.0 L1303.7,124.8 L1308.9,124.7 L1314.1,124.5 L1319.5,124.3 L1324.9,124.2 L1330.4,124.1 L1335.9,123.9 L1341.5,123.8 L1347.0,123.7 L1352.6,123.5 L1358.2,123.4 L1363.7,123.3 L1369.3,123.2 L1374.8,123.0 L1380.3,122.9 L1385.8,122.8 L1391.3,122.7 L1396.7,122.6 L1402.2,122.5 L1407.7,122.4 L1413.1,122.3 L1418.5,122.2 L1423.9,122.1 L1429.4,122.1 L1434.8,122.0 L1440.1,121.9 L1445.5,121.8 L1450.9,121.8 L1456.3,121.7 L1461.6,121.6 L1467.0,121.6 L1472.3,121.5 L1477.6,121.5 L1482.9,121.4 L1488.3,121.4 L1493.6,121.3 L1498.9,121.3 L1504.1,121.3 L1509.4,121.3 L1514.7,121.2 L1520.0,121.2 L1525.3,121.2 L1530.5,121.2 L1535.8,121.2 L1541.0,121.2 L1546.3,121.2 L1551.5,121.2 L1556.8,121.2 L1562.0,121.3 L1567.2,121.3 L1572.5,121.3 L1577.7,121.4 L1582.9,121.4 L1588.1,121.4 L1593.3,121.5 L1598.5,121.6 L1603.8,121.6 L1609.0,121.7 L1614.2,121.8 L1619.4,121.8 L1624.6,121.9 L1629.8,122.0 L1635.0,122.1 L1640.2,122.2 L1645.4,122.3 L1650.6,122.4 L1655.8,122.6 L1661.1,122.7 L1666.3,122.8 L1671.5,123.0 L1676.7,123.1 L1681.9,123.3 L1687.1,123.4 L1692.3,123.6 L1697.6,123.8 L1702.8,124.0 L1708.0,124.1 L1713.3,124.3 L1718.5,124.5 L1723.7,124.7 L1729.0,125.0 L1734.2,125.2 L1739.5,125.4 L1744.7,125.6 L1750.0,125.9 L1755.3,126.1 L1760.6,126.4 L1765.8,126.7 L1771.1,126.9 L1776.4,127.2"/>
<path class="c" stroke="#ff0000" d="M992.2,641.0 L992.8,637.0 L993.4,633.2 L994.0,629.4 L994.5,625.7 L995.0,622.0 L995.5,618.4 L996.0,614.9 L996.4,611.4 L996.9,607.9 L997.3,604.5 L997.7,601.0 L998.1,597.6 L998.5,594.1 L998.9,590.6 L999.3,587.1 L999.7,583.6 L1000.0,580.0 L1000.4,576.3 L1000.8,572.6 L1001.3,568.8 L1001.7,564.9 L1002.1,561.0 L1002.6,556.9 L1003.0,552.7 L1003.5,548.4 L1004.0,544.1 L1004.6,539.6 L1005.1,535.0 L1005.7,530.4 L1006.2,525.7 L1006.8,520.9 L1007.5,516.1 L1008.1,511.2 L1008.8,506.2 L1009.5,501.2 L1010.2,496.2 L1011.0,491.1 L1011.7,485.9 L1012.5,480.8 L1013.3,475.6 L1014.2,470.3 L1015.0,465.1 L1015.9,459.8 L1016.8,454.5 L1017.7,449.2 L1018.7,443.9 L1019.6,438.6 L1020.6,433.3 L1021.6,428.0 L1022.6,422.7 L1023.6,417.5 L1024.7,412.2 L1025.7,406.9 L1026.8,401.7 L1027.8,396.5 L1028.9,391.3 L1030.0,386.2 L1031.1,381.1 L1032.2,376.0 L1033.3,371.0 L1034.4,366.1 L1035.5,361.2 L1036.6,356.3 L1037.7,351.5 L1038.8,346.8 L1039.9,342.1 L1041.1,337.5 L1042.2,333.0 L1043.3,328.6 L1044.4,324.3 L1045.5,320.0 L1046.6,315.8 L1047.8,311.6 L1048.9,307.6 L1050.0,303.6 L1051.2,299.6 L1052.4,295.7 L1053.6,291.8 L1054.8,288.0 L1056.0,284.3 L1057.3,280.6 L1058.5,276.9 L1059.9,273.2 L1061.2,269.6 L1062.6,266.0 L1064.0,262.4 L1065.5,258.8 L1067.0,255.3 L1068.5,251.7 L1070.1,248.2 L1071.7,244.7 L1073.4,241.1 L1075.2,237.6 L1077.0,234.1 L1078.8,230.5 L1080.7,227.0 L1082.7,223.5 L1084.7,220.1 L1086.8,216.7 L1088.9,213.3 L1091.0,210.0 L1093.2,206.8 L1095.4,203.7 L1097.7,200.7 L1100.0,197.8 L1102.3,195.0 L1104.7,192.4 L1107.1,189.8 L1109.5,187.3 L1112.0,185.0 L1114.5,182.7 L1117.1,180.5 L1119.7,178.4 L1122.3,176.4 L1125.0,174.4 L1127.7,172.5 L1130.4,170.7 L1133.2,168.9 L1136.0,167.2 L1138.8,165.5 L1141.7,163.8 L1144.6,162.2 L1147.6,160.7 L1150.5,159.1 L1153.6,157.5 L1156.6,156.0 L1159.7,154.5 L1162.8,153.0 L1165.8,151.6 L1168.9,150.2 L1171.9,148.9 L1174.8,147.7 L1177.7,146.6 L1180.4,145.6 L1183.1,144.6 L1185.6,143.8 L1188.0,143.2 L1190.4,142.6 L1192.8,142.1 L1195.2,141.6 L1197.8,141.1 L1200.5,140.7 L1203.4,140.2 L1206.5,139.7 L1209.8,139.2 L1213.2,138.7 L1216.7,138.2 L1220.2,137.7 L1223.8,137.2 L1227.5,136.7 L1231.1,136.3 L1234.6,135.8 L1238.1,135.3 L1241.6,134.9 L1244.9,134.5 L1248.2,134.1 L1251.5,133.8 L1254.8,133.4 L1258.2,133.1 L1261.6,132.8 L1265.2,132.4 L1268.9,132.1 L1272.8,131.8 L1276.9,131.5 L1281.2,131.3 L1285.7,131.0 L1290.4,130.7 L1295.1,130.4 L1300.1,130.1 L1305.1,129.9 L1310.3,129.6 L1315.5,129.4 L1320.8,129.1 L1326.2,128.9 L1331.7,128.6 L1337.2,128.4 L1342.7,128.2 L1348.2,128.0 L1353.7,127.8 L1359.3,127.5 L1364.8,127.3 L1370.3,127.1 L1375.8,127.0 L1381.2,126.8 L1386.7,126.6 L1392.1,126.4 L1397.6,126.2 L1403.0,126.1 L1408.4,125.9 L1413.9,125.8 L1419.3,125.6 L1424.7,125.5 L1430.0,125.4 L1435.4,125.2 L1440.8,125.1 L1446.2,125.0 L1451.5,124.9 L1456.8,124.8 L1462.2,124.7 L1467.5,124.6 L1472.8,124.5 L1478.1,124.4 L1483.5,124.3 L1488.8,124.3 L1494.0,124.2 L1499.3,124.1 L1504.6,124.1 L1509.9,124.0 L1515.2,124.0 L1520.4,124.0 L1525.7,123.9 L1530.9,123.9 L1536.2,123.9 L1541.4,123.9 L1546.7,123.9 L1551.9,123.9 L1557.2,123.9 L1562.4,123.9 L1567.6,123.9 L1572.8,123.9 L1578.1,124.0 L1583.3,124.0 L1588.5,124.0 L1593.7,124.1 L1598.9,124.1 L1604.1,124.2 L1609.3,124.3 L1614.5,124.3 L1619.8,124.4 L1625.0,124.5 L1630.2,124.6 L1635.4,124.7 L1640.6,124.8 L1645.8,124.9 L1651.0,125.0 L1656.2,125.1 L1661.4,125.2 L1666.6,125.4 L1671.8,125.5 L1677.0,125.7 L1682.2,125.8 L1687.4,126.0 L1692.6,126.1 L1697.8,126.3 L1703.0,126.5 L1708.3,126.6 L1713.5,126.8 L1718.7,127.0 L1723.9,127.2 L1729.2,127.4 L1734.4,127.6 L1739.6,127.8 L1744.9,128.1 L1750.1,128.3 L1755.4,128.5 L1760.6,128.7 L1765.9,129.0 L1771.1,129.2 L1776.4,129.5"/>
<path class="c" stroke="#ff0000" d="M992.2,641.0 L992.8,637.0 L993.3,633.2 L993.8,629.4 L994.3,625.6 L994.8,622.0 L995.2,618.4 L995.7,614.8 L996.1,611.3 L996.5,607.9 L996.9,604.4 L997.3,600.9 L997.7,597.5 L998.1,594.0 L998.5,590.5 L998.9,587.0 L999.2,583.4 L999.6,579.8 L1000.0,576.2 L1000.4,572.4 L1000.8,568.6 L1001.3,564.7 L1001.7,560.8 L1002.1,556.7 L1002.6,552.5 L1003.1,548.2 L1003.6,543.8 L1004.1,539.4 L1004.6,534.8 L1005.2,530.2 L1005.7,525.5 L1006.3,520.7 L1007.0,515.9 L1007.6,510.9 L1008.3,506.0 L1009.0,501.0 L1009.7,495.9 L1010.4,490.8 L1011.2,485.7 L1012.0,480.5 L1012.8,475.3 L1013.6,470.0 L1014.5,464.7 L1015.4,459.5 L1016.3,454.2 L1017.3,448.8 L1018.2,443.5 L1019.2,438.2 L1020.2,432.9 L1021.2,427.5 L1022.2,422.2 L1023.2,416.9 L1024.3,411.6 L1025.3,406.4 L1026.4,401.1 L1027.5,395.9 L1028.5,390.7 L1029.6,385.6 L1030.7,380.5 L1031.8,375.4 L1032.9,370.4 L1034.0,365.4 L1035.1,360.5 L1036.2,355.6 L1037.3,350.9 L1038.4,346.1 L1039.5,341.5 L1040.6,336.9 L1041.7,332.4 L1042.7,328.0 L1043.8,323.7 L1044.9,319.4 L1045.9,315.2 L1047.0,311.1 L1048.1,307.1 L1049.2,303.1 L1050.3,299.2 L1051.4,295.3 L1052.5,291.4 L1053.7,287.7 L1054.9,283.9 L1056.1,280.2 L1057.3,276.5 L1058.6,272.8 L1059.9,269.2 L1061.3,265.6 L1062.7,261.9 L1064.1,258.3 L1065.6,254.7 L1067.2,251.1 L1068.8,247.5 L1070.5,243.9 L1072.2,240.3 L1074.0,236.6 L1075.8,233.0 L1077.8,229.3 L1079.7,225.6 L1081.8,222.0 L1083.8,218.4 L1086.0,214.9 L1088.1,211.4 L1090.3,208.0 L1092.6,204.7 L1094.9,201.4 L1097.2,198.3 L1099.5,195.3 L1101.9,192.4 L1104.2,189.7 L1106.6,187.0 L1109.1,184.5 L1111.5,182.1 L1114.0,179.8 L1116.6,177.6 L1119.1,175.5 L1121.7,173.4 L1124.3,171.5 L1127.0,169.6 L1129.7,167.7 L1132.4,166.0 L1135.2,164.2 L1138.0,162.5 L1140.9,160.9 L1143.8,159.3 L1146.8,157.7 L1149.8,156.1 L1152.9,154.5 L1156.0,153.0 L1159.1,151.4 L1162.3,149.9 L1165.5,148.4 L1168.6,147.0 L1171.7,145.7 L1174.7,144.4 L1177.6,143.2 L1180.4,142.1 L1183.0,141.2 L1185.5,140.4 L1187.8,139.7 L1190.0,139.2 L1192.3,138.7 L1194.5,138.2 L1197.0,137.8 L1199.6,137.4 L1202.4,136.9 L1205.5,136.4 L1208.7,135.9 L1212.2,135.3 L1215.7,134.7 L1219.4,134.1 L1223.1,133.6 L1226.8,133.0 L1230.5,132.4 L1234.2,131.9 L1237.8,131.4 L1241.2,130.9 L1244.6,130.4 L1247.9,130.0 L1251.2,129.6 L1254.5,129.3 L1257.8,128.9 L1261.2,128.6 L1264.7,128.3 L1268.3,128.0 L1272.1,127.8 L1276.2,127.5 L1280.4,127.3 L1284.9,127.1 L1289.5,126.9 L1294.2,126.7 L1299.1,126.5 L1304.2,126.4 L1309.3,126.2 L1314.6,126.0 L1319.9,125.9 L1325.3,125.8 L1330.8,125.6 L1336.3,125.5 L1341.8,125.4 L1347.4,125.3 L1352.9,125.2 L1358.5,125.1 L1364.0,124.9 L1369.5,124.8 L1375.1,124.7 L1380.6,124.6 L1386.0,124.6 L1391.5,124.5 L1397.0,124.4 L1402.4,124.3 L1407.9,124.2 L1413.3,124.1 L1418.7,124.1 L1424.1,124.0 L1429.5,123.9 L1434.9,123.9 L1440.3,123.8 L1445.7,123.8 L1451.1,123.7 L1456.4,123.7 L1461.8,123.6 L1467.1,123.6 L1472.4,123.6 L1477.8,123.6 L1483.1,123.5 L1488.4,123.5 L1493.7,123.5 L1499.0,123.5 L1504.3,123.5 L1509.6,123.5 L1514.8,123.5 L1520.1,123.5 L1525.4,123.5 L1530.6,123.6 L1535.9,123.6 L1541.1,123.6 L1546.4,123.7 L1551.6,123.7 L1556.9,123.7 L1562.1,123.8 L1567.3,123.9 L1572.6,123.9 L1577.8,124.0 L1583.0,124.1 L1588.2,124.1 L1593.5,124.2 L1598.7,124.3 L1603.9,124.4 L1609.1,124.5 L1614.3,124.6 L1619.5,124.8 L1624.7,124.9 L1629.9,125.0 L1635.1,125.2 L1640.3,125.3 L1645.5,125.5 L1650.8,125.6 L1656.0,125.8 L1661.2,125.9 L1666.4,126.1 L1671.6,126.3 L1676.8,126.5 L1682.0,126.7 L1687.2,126.9 L1692.4,127.1 L1697.7,127.3 L1702.9,127.5 L1708.1,127.8 L1713.3,128.0 L1718.6,128.3 L1723.8,128.5 L1729.1,128.8 L1734.3,129.1 L1739.5,129.3 L1744.8,129.6 L1750.1,129.9 L1755.3,130.2 L1760.6,130.5 L1765.9,130.8 L1771.1,131.2 L1776.4,131.5"/>
<path class="c" stroke="#ff0000" d="M992.2,641.0 L992.8,637.0 L993.4,633.2 L994.0,629.4 L994.6,625.7 L995.1,622.0 L995.6,618.4 L996.0,614.9 L996.5,611.4 L996.9,607.9 L997.4,604.5 L997.8,601.0 L998.2,597.6 L998.6,594.1 L999.0,590.7 L999.4,587.2 L999.7,583.6 L1000.1,580.0 L1000.5,576.4 L1000.9,572.7 L1001.3,568.9 L1001.8,565.0 L1002.2,561.0 L1002.7,556.9 L1003.1,552.8 L1003.6,548.5 L1004.1,544.1 L1004.7,539.6 L1005.2,535.1 L1005.8,530.5 L1006.4,525.8 L1007.0,521.0 L1007.6,516.2 L1008.2,511.3 L1008.9,506.3 L1009.6,501.3 L1010.3,496.2 L1011.1,491.1 L1011.8,486.0 L1012.6,480.8 L1013.5,475.6 L1014.3,470.4 L1015.2,465.2 L1016.0,459.9 L1016.9,454.6 L1017.9,449.3 L1018.8,444.0 L1019.7,438.7 L1020.7,433.4 L1021.7,428.1 L1022.7,422.8 L1023.7,417.6 L1024.8,412.3 L1025.8,407.1 L1026.8,401.8 L1027.9,396.6 L1029.0,391.5 L1030.1,386.3 L1031.1,381.2 L1032.2,376.2 L1033.3,371.2 L1034.5,366.2 L1035.6,361.3 L1036.7,356.5 L1037.8,351.7 L1038.9,346.9 L1040.1,342.3 L1041.2,337.7 L1042.3,333.2 L1043.4,328.7 L1044.5,324.4 L1045.7,320.1 L1046.8,315.9 L1047.9,311.7 L1049.1,307.7 L1050.2,303.7 L1051.4,299.7 L1052.6,295.8 L1053.8,291.9 L1055.0,288.1 L1056.2,284.4 L1057.5,280.6 L1058.8,277.0 L1060.1,273.3 L1061.5,269.7 L1062.9,266.1 L1064.3,262.5 L1065.8,259.0 L1067.3,255.4 L1068.8,251.9 L1070.4,248.4 L1072.0,244.8 L1073.7,241.3 L1075.5,237.8 L1077.2,234.3 L1079.1,230.8 L1081.0,227.3 L1082.9,223.8 L1084.9,220.4 L1086.9,217.0 L1089.0,213.7 L1091.2,210.5 L1093.3,207.3 L1095.5,204.2 L1097.8,201.3 L1100.1,198.4 L1102.4,195.6 L1104.8,193.0 L1107.2,190.4 L1109.6,188.0 L1112.1,185.6 L1114.6,183.3 L1117.2,181.2 L1119.8,179.1 L1122.4,177.0 L1125.1,175.1 L1127.8,173.2 L1130.5,171.4 L1133.3,169.6 L1136.1,167.8 L1139.0,166.2 L1141.8,164.5 L1144.8,162.9 L1147.7,161.3 L1150.7,159.8 L1153.7,158.2 L1156.8,156.7 L1159.8,155.2 L1162.9,153.7 L1165.9,152.3 L1169.0,150.9 L1172.0,149.7 L1174.9,148.4 L1177.7,147.3 L1180.5,146.3 L1183.1,145.4 L1185.7,144.6 L1188.1,143.9 L1190.5,143.3 L1192.9,142.8 L1195.4,142.3 L1197.9,141.9 L1200.7,141.4 L1203.6,141.0 L1206.7,140.5 L1210.0,140.0 L1213.4,139.5 L1216.9,139.0 L1220.4,138.5 L1224.0,138.0 L1227.6,137.5 L1231.2,137.1 L1234.7,136.6 L1238.2,136.2 L1241.6,135.8 L1245.0,135.4 L1248.3,135.0 L1251.6,134.7 L1254.9,134.3 L1258.3,134.0 L1261.7,133.7 L1265.3,133.4 L1269.1,133.1 L1273.0,132.8 L1277.1,132.5 L1281.4,132.3 L1285.9,132.0 L1290.6,131.7 L1295.3,131.5 L1300.3,131.2 L1305.3,131.0 L1310.5,130.7 L1315.7,130.5 L1321.0,130.2 L1326.4,130.0 L1331.9,129.8 L1337.4,129.6 L1342.9,129.3 L1348.4,129.1 L1353.9,128.9 L1359.5,128.7 L1365.0,128.6 L1370.5,128.4 L1375.9,128.2 L1381.4,128.0 L1386.9,127.9 L1392.3,127.7 L1397.8,127.5 L1403.2,127.4 L1408.6,127.3 L1414.0,127.1 L1419.4,127.0 L1424.8,126.9 L1430.2,126.8 L1435.6,126.6 L1440.9,126.5 L1446.3,126.4 L1451.6,126.4 L1457.0,126.3 L1462.3,126.2 L1467.6,126.1 L1473.0,126.0 L1478.3,126.0 L1483.6,125.9 L1488.9,125.9 L1494.2,125.8 L1499.5,125.8 L1504.7,125.8 L1510.0,125.7 L1515.3,125.7 L1520.5,125.7 L1525.8,125.7 L1531.1,125.7 L1536.3,125.7 L1541.5,125.7 L1546.8,125.8 L1552.0,125.8 L1557.3,125.8 L1562.5,125.9 L1567.7,125.9 L1572.9,126.0 L1578.2,126.0 L1583.4,126.1 L1588.6,126.1 L1593.8,126.2 L1599.0,126.3 L1604.2,126.4 L1609.4,126.5 L1614.6,126.6 L1619.8,126.7 L1625.0,126.8 L1630.2,126.9 L1635.4,127.1 L1640.6,127.2 L1645.8,127.3 L1651.0,127.5 L1656.2,127.6 L1661.4,127.8 L1666.6,128.0 L1671.8,128.1 L1677.1,128.3 L1682.3,128.5 L1687.5,128.7 L1692.7,128.9 L1697.9,129.1 L1703.1,129.3 L1708.3,129.5 L1713.5,129.7 L1718.7,130.0 L1724.0,130.2 L1729.2,130.4 L1734.4,130.7 L1739.7,130.9 L1744.9,131.2 L1750.1,131.5 L1755.4,131.7 L1760.6,132.0 L1765.9,132.3 L1771.2,132.6 L1776.4,132.9"/>
<path class="c" stroke="#ff0000" d="M992.2,641.0 L992.9,636.9 L993.5,632.9 L994.0,629.0 L994.6,625.2 L995.1,621.5 L995.6,617.8 L996.0,614.2 L996.5,610.6 L996.9,607.0 L997.3,603.5 L997.7,600.0 L998.1,596.4 L998.5,592.9 L998.8,589.3 L999.2,585.7 L999.6,582.0 L1000.0,578.3 L1000.4,574.5 L1000.8,570.6 L1001.2,566.7 L1001.7,562.6 L1002.1,558.4 L1002.6,554.2 L1003.1,549.8 L1003.7,545.3 L1004.2,540.7 L1004.8,536.0 L1005.4,531.3 L1006.1,526.4 L1006.7,521.5 L1007.4,516.5 L1008.1,511.4 L1008.8,506.3 L1009.5,501.2 L1010.3,496.0 L1011.0,490.7 L1011.8,485.5 L1012.6,480.1 L1013.5,474.8 L1014.3,469.5 L1015.2,464.1 L1016.1,458.7 L1017.0,453.3 L1017.9,447.9 L1018.8,442.4 L1019.8,437.0 L1020.7,431.6 L1021.7,426.2 L1022.7,420.8 L1023.7,415.4 L1024.7,410.0 L1025.8,404.6 L1026.8,399.3 L1027.9,394.0 L1029.0,388.7 L1030.1,383.5 L1031.2,378.3 L1032.3,373.1 L1033.4,368.0 L1034.5,362.9 L1035.7,357.9 L1036.9,352.9 L1038.0,348.0 L1039.2,343.2 L1040.4,338.4 L1041.6,333.7 L1042.8,329.1 L1044.0,324.5 L1045.3,320.1 L1046.5,315.7 L1047.7,311.3 L1049.0,307.1 L1050.2,302.9 L1051.5,298.7 L1052.7,294.7 L1054.0,290.7 L1055.3,286.8 L1056.5,282.9 L1057.8,279.1 L1059.0,275.4 L1060.3,271.7 L1061.6,268.1 L1062.9,264.5 L1064.2,260.9 L1065.6,257.3 L1067.1,253.8 L1068.5,250.2 L1070.1,246.6 L1071.7,243.0 L1073.4,239.4 L1075.2,235.7 L1077.1,232.0 L1079.1,228.3 L1081.1,224.6 L1083.2,220.9 L1085.4,217.3 L1087.6,213.7 L1089.9,210.2 L1092.2,206.8 L1094.6,203.5 L1097.0,200.3 L1099.4,197.3 L1101.9,194.4 L1104.3,191.6 L1106.9,189.0 L1109.4,186.5 L1112.0,184.2 L1114.6,181.9 L1117.2,179.7 L1119.9,177.6 L1122.6,175.5 L1125.3,173.5 L1128.1,171.5 L1131.0,169.5 L1133.9,167.6 L1136.8,165.8 L1139.7,163.9 L1142.6,162.1 L1145.6,160.4 L1148.6,158.7 L1151.6,157.1 L1154.6,155.5 L1157.6,154.0 L1160.5,152.5 L1163.5,151.1 L1166.5,149.8 L1169.5,148.6 L1172.4,147.4 L1175.3,146.2 L1178.2,145.2 L1181.1,144.2 L1183.9,143.4 L1186.7,142.6 L1189.5,141.8 L1192.3,141.1 L1195.2,140.5 L1198.1,139.9 L1201.1,139.4 L1204.2,138.8 L1207.4,138.3 L1210.6,137.7 L1214.0,137.2 L1217.3,136.7 L1220.8,136.2 L1224.2,135.8 L1227.6,135.3 L1231.1,134.9 L1234.5,134.4 L1237.9,134.0 L1241.2,133.6 L1244.5,133.2 L1247.8,132.8 L1251.1,132.4 L1254.6,132.0 L1258.1,131.7 L1261.7,131.3 L1265.6,131.0 L1269.6,130.7 L1273.9,130.4 L1278.4,130.1 L1283.1,129.8 L1288.0,129.6 L1293.0,129.3 L1298.3,129.1 L1303.6,128.9 L1309.1,128.7 L1314.7,128.5 L1320.3,128.3 L1326.0,128.1 L1331.8,128.0 L1337.5,127.8 L1343.3,127.6 L1349.0,127.5 L1354.7,127.3 L1360.3,127.2 L1365.8,127.1 L1371.3,126.9 L1376.8,126.8 L1382.2,126.7 L1387.6,126.6 L1392.9,126.4 L1398.3,126.3 L1403.6,126.2 L1408.9,126.1 L1414.2,126.0 L1419.5,125.9 L1424.9,125.8 L1430.2,125.7 L1435.6,125.7 L1441.0,125.6 L1446.4,125.5 L1451.9,125.4 L1457.4,125.3 L1462.9,125.3 L1468.5,125.2 L1474.0,125.1 L1479.6,125.1 L1485.2,125.0 L1490.8,125.0 L1496.4,124.9 L1502.0,124.9 L1507.6,124.9 L1513.2,124.9 L1518.8,124.9 L1524.3,124.9 L1529.9,124.9 L1535.4,124.9 L1540.9,124.9 L1546.4,125.0 L1551.9,125.0 L1557.3,125.1 L1562.7,125.2 L1568.0,125.3 L1573.4,125.4 L1578.6,125.5 L1583.8,125.7 L1589.0,125.8 L1594.1,126.0 L1599.1,126.2 L1604.1,126.4 L1609.0,126.6 L1613.8,126.8 L1618.6,127.1 L1623.3,127.4 L1627.9,127.7 L1632.5,128.0 L1637.1,128.3 L1641.6,128.6 L1646.1,129.0 L1650.6,129.3 L1655.0,129.7 L1659.4,130.1 L1663.8,130.5 L1668.2,130.9 L1672.6,131.4 L1677.0,131.8 L1681.4,132.3 L1685.8,132.8 L1690.2,133.2 L1694.6,133.7 L1698.9,134.2 L1703.3,134.7 L1707.7,135.2 L1712.0,135.7 L1716.4,136.2 L1720.7,136.7 L1725.1,137.2 L1729.4,137.7 L1733.7,138.2 L1738.0,138.7 L1742.3,139.2 L1746.6,139.7 L1750.9,140.2 L1755.2,140.6 L1759.5,141.1 L1763.7,141.5 L1767.9,142.0 L1772.2,142.4 L1776.4,142.8"/>
<path class="c" stroke="#0000ff" d="M992.2,641.0 L993.1,636.7 L994.0,632.6 L994.8,628.6 L995.6,624.7 L996.3,620.8 L997.0,617.1 L997.6,613.4 L998.2,609.7 L998.7,606.1 L999.2,602.5 L999.7,598.9 L1000.2,595.3 L1000.7,591.6 L1001.1,588.0 L1001.5,584.3 L1002.0,580.5 L1002.4,576.7 L1002.9,572.8 L1003.3,568.8 L1003.8,564.6 L1004.3,560.4 L1004.8,556.0 L1005.4,551.5 L1006.0,546.9 L1006.6,542.2 L1007.2,537.3 L1007.8,532.4 L1008.5,527.3 L1009.2,522.2 L1009.9,517.1 L1010.6,511.8 L1011.4,506.5 L1012.2,501.2 L1013.0,495.8 L1013.8,490.4 L1014.6,484.9 L1015.5,479.5 L1016.3,474.0 L1017.2,468.5 L1018.1,463.0 L1019.1,457.4 L1020.0,451.9 L1021.0,446.4 L1022.0,440.8 L1023.0,435.3 L1024.0,429.8 L1025.1,424.3 L1026.1,418.8 L1027.2,413.3 L1028.3,407.8 L1029.4,402.3 L1030.5,396.9 L1031.7,391.5 L1032.9,386.1 L1034.1,380.8 L1035.3,375.5 L1036.5,370.2 L1037.7,365.0 L1039.0,359.9 L1040.2,354.7 L1041.5,349.7 L1042.8,344.6 L1044.1,339.7 L1045.5,334.8 L1046.8,329.9 L1048.2,325.2 L1049.6,320.5 L1050.9,315.9 L1052.4,311.3 L1053.8,306.8 L1055.2,302.4 L1056.7,298.1 L1058.1,293.9 L1059.6,289.8 L1061.1,285.8 L1062.6,281.9 L1064.2,278.0 L1065.7,274.3 L1067.3,270.6 L1068.9,267.1 L1070.6,263.5 L1072.3,260.1 L1074.2,256.6 L1076.1,253.1 L1078.2,249.7 L1080.3,246.2 L1082.6,242.6 L1085.1,239.0 L1087.7,235.4 L1090.5,231.7 L1093.3,228.0 L1096.3,224.2 L1099.4,220.5 L1102.5,216.7 L1105.7,213.0 L1108.9,209.3 L1112.1,205.6 L1115.4,202.0 L1118.6,198.5 L1121.8,195.1 L1124.9,191.7 L1128.0,188.5 L1131.0,185.4 L1133.9,182.4 L1136.9,179.5 L1139.8,176.7 L1142.6,174.1 L1145.5,171.6 L1148.4,169.1 L1151.2,166.8 L1154.1,164.6 L1157.0,162.6 L1159.9,160.6 L1162.9,158.8 L1165.8,157.0 L1168.7,155.4 L1171.6,153.8 L1174.5,152.3 L1177.3,150.8 L1180.1,149.5 L1182.9,148.1 L1185.6,146.8 L1188.2,145.5 L1190.9,144.2 L1193.6,142.8 L1196.3,141.5 L1199.2,140.0 L1202.1,138.4 L1205.2,136.8 L1208.4,135.0 L1211.7,133.2 L1215.1,131.4 L1218.5,129.5 L1222.0,127.5 L1225.5,125.6 L1229.0,123.7 L1232.5,121.8 L1236.0,119.9 L1239.4,118.1 L1242.8,116.4 L1246.2,114.7 L1249.5,113.1 L1252.8,111.6 L1256.1,110.1 L1259.4,108.7 L1262.8,107.3 L1266.2,106.0 L1269.7,104.7 L1273.2,103.5 L1276.8,102.4 L1280.5,101.3 L1284.2,100.2 L1288.0,99.2 L1291.9,98.2 L1295.7,97.2 L1299.6,96.3 L1303.6,95.3 L1307.5,94.4 L1311.5,93.6 L1315.4,92.7 L1319.4,91.8 L1323.3,90.9 L1327.3,90.1 L1331.3,89.3 L1335.2,88.4 L1339.2,87.6 L1343.1,86.8 L1347.0,86.0 L1351.0,85.2 L1354.9,84.4 L1358.8,83.6 L1362.7,82.9 L1366.6,82.1 L1370.5,81.4 L1374.4,80.6 L1378.3,79.9 L1382.2,79.2 L1386.0,78.5 L1389.9,77.8 L1393.7,77.1 L1397.5,76.4 L1401.3,75.8 L1405.1,75.1 L1408.9,74.5 L1412.8,73.8 L1416.7,73.2 L1420.7,72.5 L1424.7,71.9 L1428.9,71.2 L1433.2,70.6 L1437.6,69.9 L1442.2,69.3 L1446.9,68.6 L1451.8,67.9 L1456.8,67.2 L1461.9,66.6 L1467.2,65.9 L1472.6,65.2 L1478.1,64.5 L1483.7,63.8 L1489.3,63.2 L1495.1,62.5 L1500.8,61.9 L1506.7,61.2 L1512.6,60.6 L1518.5,60.0 L1524.4,59.4 L1530.4,58.8 L1536.4,58.2 L1542.3,57.6 L1548.2,57.1 L1554.1,56.6 L1560.0,56.1 L1565.8,55.7 L1571.6,55.3 L1577.3,54.9 L1582.9,54.5 L1588.5,54.1 L1593.9,53.8 L1599.2,53.6 L1604.5,53.4 L1609.6,53.2 L1614.5,53.0 L1619.4,52.9 L1624.1,52.8 L1628.7,52.8 L1633.3,52.7 L1637.7,52.7 L1642.2,52.6 L1646.6,52.6 L1650.9,52.6 L1655.3,52.5 L1659.7,52.4 L1664.0,52.3 L1668.5,52.2 L1672.9,52.0 L1677.4,51.8 L1682.0,51.6 L1686.5,51.4 L1691.1,51.1 L1695.7,50.8 L1700.3,50.6 L1705.0,50.3 L1709.6,50.1 L1714.2,49.8 L1718.9,49.6 L1723.5,49.4 L1728.1,49.3 L1732.7,49.1 L1737.2,49.1 L1741.7,49.0 L1746.2,49.1 L1750.7,49.1 L1755.1,49.3 L1759.5,49.5 L1763.8,49.8 L1768.1,50.2 L1772.3,50.6 L1776.4,51.2"/>
<path class="c" stroke="#0000ff" d="M992.2,641.0 L993.3,636.7 L994.4,632.6 L995.3,628.5 L996.2,624.5 L997.0,620.6 L997.7,616.8 L998.3,613.0 L998.9,609.3 L999.5,605.6 L1000.0,601.9 L1000.4,598.2 L1000.9,594.5 L1001.3,590.8 L1001.7,587.1 L1002.1,583.3 L1002.5,579.4 L1003.0,575.5 L1003.4,571.5 L1003.9,567.3 L1004.4,563.1 L1004.9,558.8 L1005.5,554.3 L1006.1,549.7 L1006.8,545.0 L1007.4,540.2 L1008.2,535.2 L1008.9,530.2 L1009.7,525.1 L1010.5,519.9 L1011.3,514.7 L1012.2,509.4 L1013.0,504.0 L1013.9,498.5 L1014.7,493.1 L1015.6,487.5 L1016.5,482.0 L1017.4,476.4 L1018.3,470.8 L1019.1,465.2 L1020.0,459.5 L1021.0,453.9 L1021.9,448.2 L1022.8,442.5 L1023.8,436.8 L1024.7,431.2 L1025.7,425.5 L1026.7,419.8 L1027.7,414.2 L1028.7,408.6 L1029.8,403.0 L1030.9,397.4 L1032.0,391.9 L1033.1,386.4 L1034.3,380.9 L1035.5,375.5 L1036.7,370.1 L1037.9,364.8 L1039.2,359.5 L1040.5,354.3 L1041.9,349.2 L1043.3,344.1 L1044.7,339.1 L1046.1,334.2 L1047.7,329.4 L1049.2,324.6 L1050.8,319.9 L1052.4,315.3 L1054.0,310.8 L1055.7,306.4 L1057.3,302.0 L1059.0,297.7 L1060.7,293.5 L1062.3,289.4 L1064.0,285.3 L1065.6,281.4 L1067.3,277.5 L1068.9,273.7 L1070.5,269.9 L1072.2,266.2 L1073.9,262.5 L1075.6,258.9 L1077.5,255.4 L1079.4,251.8 L1081.5,248.3 L1083.7,244.8 L1086.1,241.3 L1088.7,237.8 L1091.4,234.3 L1094.3,230.8 L1097.3,227.3 L1100.4,223.9 L1103.6,220.4 L1106.9,217.0 L1110.1,213.6 L1113.4,210.3 L1116.7,207.0 L1119.9,203.7 L1123.1,200.5 L1126.2,197.3 L1129.2,194.2 L1132.1,191.2 L1135.0,188.3 L1137.8,185.4 L1140.7,182.6 L1143.5,179.9 L1146.3,177.3 L1149.2,174.8 L1152.1,172.5 L1155.1,170.2 L1158.2,168.1 L1161.3,166.1 L1164.4,164.2 L1167.5,162.4 L1170.6,160.7 L1173.7,159.2 L1176.7,157.6 L1179.7,156.2 L1182.5,154.9 L1185.2,153.6 L1187.8,152.4 L1190.4,151.1 L1192.9,149.9 L1195.5,148.6 L1198.2,147.3 L1201.0,145.8 L1203.9,144.2 L1207.0,142.5 L1210.3,140.7 L1213.6,138.8 L1217.1,136.8 L1220.6,134.8 L1224.2,132.8 L1227.9,130.8 L1231.5,128.9 L1235.2,127.0 L1238.9,125.1 L1242.5,123.3 L1246.1,121.6 L1249.7,120.0 L1253.3,118.4 L1256.8,116.9 L1260.4,115.5 L1263.9,114.1 L1267.5,112.8 L1271.0,111.5 L1274.6,110.3 L1278.2,109.1 L1281.8,108.0 L1285.4,106.9 L1289.1,105.8 L1292.8,104.8 L1296.5,103.8 L1300.3,102.8 L1304.1,101.8 L1307.9,100.8 L1311.9,99.9 L1315.8,98.9 L1319.8,98.0 L1323.9,97.0 L1328.0,96.1 L1332.1,95.2 L1336.3,94.2 L1340.4,93.3 L1344.6,92.5 L1348.7,91.6 L1352.9,90.7 L1357.0,89.9 L1361.1,89.1 L1365.2,88.2 L1369.3,87.5 L1373.3,86.7 L1377.3,86.0 L1381.2,85.2 L1385.1,84.6 L1389.0,83.9 L1392.8,83.3 L1396.6,82.7 L1400.3,82.1 L1404.0,81.5 L1407.7,81.0 L1411.4,80.5 L1415.1,80.0 L1419.0,79.5 L1422.9,78.9 L1427.0,78.4 L1431.2,77.8 L1435.6,77.2 L1440.3,76.6 L1445.2,75.9 L1450.3,75.1 L1455.5,74.4 L1461.0,73.6 L1466.6,72.7 L1472.4,71.9 L1478.3,71.0 L1484.2,70.1 L1490.2,69.3 L1496.3,68.4 L1502.4,67.5 L1508.5,66.7 L1514.6,65.9 L1520.7,65.1 L1526.7,64.3 L1532.6,63.5 L1538.4,62.9 L1544.2,62.2 L1549.9,61.6 L1555.6,61.0 L1561.2,60.4 L1566.7,59.9 L1572.1,59.3 L1577.6,58.9 L1582.9,58.4 L1588.2,58.0 L1593.5,57.6 L1598.7,57.2 L1603.8,56.8 L1608.9,56.4 L1614.0,56.1 L1619.1,55.8 L1624.1,55.5 L1629.1,55.2 L1634.0,54.9 L1638.9,54.6 L1643.8,54.4 L1648.7,54.1 L1653.6,53.9 L1658.4,53.7 L1663.2,53.4 L1668.0,53.2 L1672.8,53.0 L1677.6,52.7 L1682.3,52.5 L1687.0,52.3 L1691.7,52.1 L1696.3,52.0 L1700.8,51.9 L1705.2,51.8 L1709.4,51.7 L1713.6,51.7 L1717.7,51.8 L1721.6,51.9 L1725.3,52.0 L1728.9,52.2 L1732.4,52.5 L1735.8,52.8 L1739.0,53.1 L1742.2,53.5 L1745.3,53.9 L1748.4,54.3 L1751.4,54.8 L1754.4,55.2 L1757.4,55.7 L1760.5,56.1 L1763.5,56.5 L1766.6,56.9 L1769.8,57.3 L1773.1,57.7 L1776.4,58.0"/>
<path class="c" stroke="#0000ff" d="M992.2,641.0 L993.0,636.8 L993.8,632.6 L994.6,628.6 L995.3,624.7 L995.9,620.9 L996.5,617.1 L997.1,613.4 L997.7,609.7 L998.2,606.1 L998.7,602.5 L999.2,598.9 L999.6,595.3 L1000.1,591.7 L1000.5,588.0 L1000.9,584.3 L1001.4,580.5 L1001.8,576.7 L1002.2,572.8 L1002.7,568.8 L1003.2,564.7 L1003.7,560.4 L1004.2,556.1 L1004.7,551.6 L1005.3,547.0 L1005.8,542.2 L1006.4,537.4 L1007.1,532.5 L1007.7,527.5 L1008.4,522.4 L1009.1,517.2 L1009.8,512.0 L1010.5,506.7 L1011.3,501.4 L1012.0,496.0 L1012.8,490.6 L1013.7,485.2 L1014.5,479.7 L1015.4,474.2 L1016.3,468.7 L1017.2,463.2 L1018.1,457.7 L1019.1,452.2 L1020.0,446.6 L1021.0,441.1 L1022.0,435.6 L1023.1,430.0 L1024.1,424.5 L1025.2,419.0 L1026.3,413.5 L1027.3,408.0 L1028.5,402.6 L1029.6,397.2 L1030.7,391.8 L1031.9,386.4 L1033.1,381.1 L1034.3,375.7 L1035.5,370.5 L1036.7,365.3 L1037.9,360.1 L1039.2,355.0 L1040.5,349.9 L1041.7,344.9 L1043.0,339.9 L1044.3,335.0 L1045.6,330.2 L1047.0,325.4 L1048.3,320.7 L1049.6,316.1 L1051.0,311.6 L1052.3,307.1 L1053.7,302.7 L1055.1,298.4 L1056.5,294.2 L1057.9,290.1 L1059.3,286.1 L1060.7,282.2 L1062.1,278.4 L1063.6,274.7 L1065.0,271.1 L1066.5,267.5 L1068.1,264.0 L1069.7,260.5 L1071.4,257.0 L1073.3,253.4 L1075.2,249.9 L1077.3,246.3 L1079.5,242.6 L1081.9,238.8 L1084.5,234.9 L1087.3,231.0 L1090.1,226.9 L1093.1,222.9 L1096.2,218.8 L1099.4,214.7 L1102.7,210.6 L1106.0,206.6 L1109.3,202.6 L1112.6,198.7 L1115.9,194.9 L1119.2,191.2 L1122.5,187.6 L1125.7,184.2 L1128.8,181.0 L1131.9,177.9 L1134.9,175.0 L1137.9,172.3 L1140.8,169.7 L1143.7,167.2 L1146.6,164.9 L1149.5,162.8 L1152.4,160.8 L1155.4,158.9 L1158.3,157.2 L1161.2,155.6 L1164.2,154.1 L1167.2,152.6 L1170.1,151.3 L1173.0,150.1 L1175.9,148.9 L1178.8,147.7 L1181.6,146.6 L1184.4,145.6 L1187.1,144.5 L1189.9,143.4 L1192.7,142.3 L1195.5,141.2 L1198.4,140.0 L1201.4,138.8 L1204.5,137.5 L1207.7,136.1 L1211.1,134.6 L1214.5,133.2 L1218.0,131.7 L1221.5,130.1 L1225.0,128.6 L1228.6,127.2 L1232.2,125.7 L1235.7,124.3 L1239.2,122.9 L1242.7,121.6 L1246.1,120.4 L1249.5,119.2 L1252.9,118.1 L1256.3,116.9 L1259.7,115.8 L1263.1,114.7 L1266.6,113.6 L1270.1,112.5 L1273.7,111.4 L1277.3,110.2 L1281.0,109.0 L1284.7,107.8 L1288.5,106.7 L1292.3,105.5 L1296.1,104.3 L1300.0,103.2 L1303.9,102.1 L1307.8,101.0 L1311.7,100.0 L1315.7,99.0 L1319.6,98.1 L1323.6,97.2 L1327.5,96.4 L1331.4,95.6 L1335.4,94.9 L1339.4,94.2 L1343.3,93.6 L1347.3,93.0 L1351.2,92.4 L1355.1,91.9 L1359.1,91.5 L1363.0,91.1 L1366.9,90.7 L1370.9,90.3 L1374.8,90.0 L1378.7,89.8 L1382.6,89.5 L1386.4,89.3 L1390.3,89.2 L1394.1,89.0 L1398.0,88.9 L1401.8,88.8 L1405.6,88.8 L1409.5,88.7 L1413.4,88.7 L1417.3,88.6 L1421.3,88.5 L1425.4,88.4 L1429.6,88.3 L1433.9,88.1 L1438.3,87.8 L1442.9,87.5 L1447.7,87.1 L1452.6,86.6 L1457.6,86.1 L1462.8,85.5 L1468.1,84.9 L1473.5,84.2 L1479.0,83.5 L1484.5,82.7 L1490.2,81.9 L1495.9,81.1 L1501.7,80.2 L1507.5,79.3 L1513.4,78.4 L1519.3,77.5 L1525.2,76.6 L1531.2,75.7 L1537.1,74.8 L1543.0,73.8 L1548.9,72.9 L1554.8,72.0 L1560.6,71.2 L1566.4,70.3 L1572.2,69.5 L1577.9,68.7 L1583.4,68.0 L1589.0,67.2 L1594.4,66.6 L1599.7,66.0 L1604.9,65.4 L1609.9,64.9 L1614.9,64.5 L1619.7,64.1 L1624.4,63.7 L1629.0,63.4 L1633.5,63.2 L1638.0,63.0 L1642.4,62.8 L1646.8,62.6 L1651.1,62.4 L1655.5,62.2 L1659.9,62.0 L1664.2,61.8 L1668.7,61.6 L1673.1,61.4 L1677.6,61.1 L1682.1,60.8 L1686.7,60.5 L1691.3,60.2 L1695.9,59.9 L1700.5,59.6 L1705.1,59.2 L1709.7,58.9 L1714.3,58.6 L1719.0,58.3 L1723.6,57.9 L1728.2,57.6 L1732.7,57.3 L1737.3,57.0 L1741.8,56.8 L1746.3,56.5 L1750.7,56.3 L1755.2,56.1 L1759.5,55.9 L1763.8,55.8 L1768.1,55.7 L1772.3,55.6 L1776.4,55.6"/>
<path class="c" stroke="#0000ff" d="M992.2,641.0 L993.0,636.5 L993.7,632.2 L994.4,628.0 L995.1,623.9 L995.7,619.9 L996.3,616.0 L996.8,612.1 L997.3,608.3 L997.9,604.5 L998.3,600.7 L998.8,596.9 L999.3,593.1 L999.7,589.3 L1000.2,585.4 L1000.7,581.5 L1001.1,577.5 L1001.6,573.4 L1002.0,569.2 L1002.5,564.9 L1003.0,560.5 L1003.5,555.9 L1004.1,551.2 L1004.6,546.4 L1005.2,541.4 L1005.8,536.4 L1006.5,531.2 L1007.1,525.9 L1007.8,520.6 L1008.5,515.2 L1009.2,509.7 L1010.0,504.1 L1010.7,498.5 L1011.6,492.9 L1012.4,487.2 L1013.3,481.5 L1014.2,475.7 L1015.1,470.0 L1016.0,464.2 L1017.0,458.4 L1018.0,452.6 L1019.0,446.8 L1020.1,441.0 L1021.2,435.2 L1022.3,429.3 L1023.4,423.5 L1024.5,417.8 L1025.6,412.0 L1026.8,406.2 L1028.0,400.5 L1029.2,394.8 L1030.4,389.2 L1031.7,383.5 L1032.9,377.9 L1034.2,372.4 L1035.4,366.9 L1036.7,361.4 L1038.0,356.0 L1039.3,350.7 L1040.7,345.4 L1042.0,340.2 L1043.3,335.1 L1044.6,330.0 L1046.0,325.0 L1047.3,320.1 L1048.7,315.3 L1050.0,310.6 L1051.4,305.9 L1052.8,301.4 L1054.1,296.9 L1055.5,292.6 L1056.8,288.4 L1058.2,284.2 L1059.6,280.2 L1060.9,276.4 L1062.3,272.6 L1063.7,268.8 L1065.1,265.2 L1066.7,261.5 L1068.3,257.8 L1070.1,254.1 L1072.1,250.3 L1074.2,246.4 L1076.5,242.4 L1079.0,238.2 L1081.8,233.8 L1084.7,229.3 L1087.8,224.8 L1091.1,220.1 L1094.5,215.4 L1098.0,210.8 L1101.5,206.1 L1105.2,201.5 L1108.8,197.0 L1112.4,192.6 L1116.0,188.4 L1119.5,184.3 L1123.0,180.5 L1126.3,176.9 L1129.6,173.6 L1132.7,170.5 L1135.8,167.6 L1138.9,165.0 L1141.9,162.6 L1144.9,160.3 L1148.0,158.3 L1151.1,156.4 L1154.2,154.7 L1157.4,153.1 L1160.6,151.7 L1163.9,150.4 L1167.2,149.2 L1170.5,148.1 L1173.8,147.0 L1176.9,146.1 L1180.1,145.2 L1183.1,144.3 L1186.0,143.4 L1188.8,142.6 L1191.6,141.7 L1194.4,140.9 L1197.2,140.1 L1200.2,139.2 L1203.4,138.3 L1206.7,137.4 L1210.1,136.4 L1213.7,135.5 L1217.4,134.5 L1221.1,133.5 L1225.0,132.4 L1228.8,131.4 L1232.7,130.4 L1236.6,129.3 L1240.5,128.2 L1244.3,127.2 L1248.2,126.1 L1252.0,125.0 L1255.8,123.9 L1259.5,122.8 L1263.3,121.7 L1267.1,120.6 L1270.9,119.5 L1274.6,118.3 L1278.4,117.2 L1282.2,116.1 L1286.0,114.9 L1289.8,113.8 L1293.6,112.6 L1297.4,111.5 L1301.3,110.3 L1305.2,109.1 L1309.1,107.9 L1313.1,106.8 L1317.1,105.6 L1321.1,104.4 L1325.1,103.2 L1329.2,102.1 L1333.3,101.0 L1337.4,99.9 L1341.5,98.8 L1345.7,97.8 L1349.8,96.9 L1354.0,96.0 L1358.2,95.2 L1362.3,94.4 L1366.5,93.8 L1370.7,93.2 L1374.9,92.6 L1379.1,92.1 L1383.2,91.7 L1387.4,91.3 L1391.6,90.9 L1395.8,90.6 L1400.0,90.4 L1404.2,90.2 L1408.4,90.0 L1412.5,89.9 L1416.7,89.7 L1420.9,89.6 L1425.1,89.6 L1429.2,89.5 L1433.4,89.5 L1437.6,89.5 L1441.7,89.5 L1445.9,89.5 L1450.0,89.5 L1454.2,89.5 L1458.3,89.5 L1462.4,89.5 L1466.6,89.5 L1470.7,89.5 L1474.8,89.5 L1478.9,89.5 L1482.9,89.4 L1487.0,89.3 L1491.1,89.2 L1495.1,89.1 L1499.2,88.9 L1503.2,88.8 L1507.3,88.6 L1511.3,88.4 L1515.4,88.2 L1519.4,87.9 L1523.5,87.7 L1527.5,87.4 L1531.6,87.2 L1535.7,86.9 L1539.7,86.6 L1543.8,86.3 L1547.9,86.0 L1552.1,85.6 L1556.2,85.3 L1560.3,85.0 L1564.5,84.6 L1568.7,84.3 L1572.9,83.9 L1577.2,83.6 L1581.4,83.2 L1585.7,82.9 L1590.0,82.5 L1594.4,82.2 L1598.7,81.8 L1603.2,81.4 L1607.6,81.1 L1612.1,80.8 L1616.6,80.4 L1621.1,80.1 L1625.7,79.7 L1630.3,79.4 L1635.0,79.1 L1639.6,78.8 L1644.3,78.5 L1649.0,78.2 L1653.8,78.0 L1658.5,77.7 L1663.3,77.5 L1668.1,77.2 L1672.8,77.0 L1677.6,76.8 L1682.4,76.6 L1687.2,76.5 L1692.0,76.3 L1696.8,76.2 L1701.6,76.1 L1706.4,76.0 L1711.2,75.9 L1716.0,75.9 L1720.8,75.9 L1725.5,75.9 L1730.3,75.9 L1735.0,76.0 L1739.7,76.1 L1744.4,76.2 L1749.1,76.4 L1753.7,76.5 L1758.3,76.7 L1762.9,77.0 L1767.4,77.3 L1771.9,77.6 L1776.4,77.9"/>
<path class="c" stroke="#0000ff" d="M992.2,641.0 L992.9,636.6 L993.6,632.3 L994.3,628.1 L994.9,623.9 L995.5,619.8 L996.0,615.8 L996.5,611.8 L997.0,607.9 L997.5,603.9 L997.9,600.0 L998.4,596.0 L998.8,592.1 L999.2,588.1 L999.7,584.0 L1000.1,579.9 L1000.5,575.7 L1001.0,571.4 L1001.4,567.0 L1001.9,562.5 L1002.5,557.9 L1003.0,553.2 L1003.6,548.3 L1004.2,543.3 L1004.8,538.2 L1005.5,533.0 L1006.2,527.7 L1006.9,522.4 L1007.6,516.9 L1008.4,511.4 L1009.1,505.7 L1009.9,500.1 L1010.8,494.3 L1011.6,488.5 L1012.5,482.7 L1013.4,476.8 L1014.3,470.9 L1015.3,465.0 L1016.3,459.0 L1017.3,453.0 L1018.3,447.0 L1019.3,441.0 L1020.4,435.1 L1021.4,429.1 L1022.5,423.1 L1023.6,417.2 L1024.8,411.3 L1025.9,405.4 L1027.1,399.5 L1028.3,393.7 L1029.5,388.0 L1030.7,382.3 L1032.0,376.6 L1033.2,371.0 L1034.5,365.4 L1035.8,359.9 L1037.1,354.4 L1038.4,349.1 L1039.7,343.7 L1041.0,338.4 L1042.4,333.2 L1043.7,328.1 L1045.1,323.0 L1046.5,318.0 L1047.9,313.1 L1049.3,308.3 L1050.7,303.5 L1052.1,298.8 L1053.5,294.2 L1055.0,289.7 L1056.4,285.3 L1057.8,281.0 L1059.3,276.7 L1060.8,272.6 L1062.2,268.5 L1063.7,264.5 L1065.3,260.6 L1066.8,256.7 L1068.5,252.9 L1070.1,249.1 L1071.8,245.3 L1073.6,241.5 L1075.5,237.7 L1077.5,234.0 L1079.5,230.2 L1081.6,226.5 L1083.7,222.8 L1086.0,219.1 L1088.2,215.4 L1090.6,211.8 L1093.0,208.2 L1095.5,204.6 L1098.1,201.1 L1100.7,197.6 L1103.3,194.2 L1106.0,190.8 L1108.8,187.6 L1111.6,184.3 L1114.4,181.2 L1117.3,178.1 L1120.2,175.1 L1123.2,172.2 L1126.2,169.4 L1129.3,166.7 L1132.3,164.1 L1135.4,161.6 L1138.6,159.2 L1141.7,157.0 L1144.9,154.8 L1148.1,152.8 L1151.4,150.9 L1154.6,149.1 L1157.9,147.5 L1161.2,146.0 L1164.4,144.6 L1167.7,143.4 L1170.9,142.2 L1174.2,141.1 L1177.3,140.1 L1180.5,139.2 L1183.6,138.3 L1186.6,137.4 L1189.7,136.6 L1192.7,135.8 L1195.8,135.0 L1199.0,134.2 L1202.3,133.2 L1205.8,132.3 L1209.4,131.3 L1213.1,130.2 L1216.8,129.1 L1220.6,128.0 L1224.5,126.9 L1228.4,125.9 L1232.3,124.8 L1236.1,123.8 L1239.9,122.9 L1243.7,122.0 L1247.5,121.1 L1251.2,120.3 L1254.9,119.5 L1258.6,118.7 L1262.4,118.0 L1266.2,117.2 L1270.0,116.4 L1273.9,115.5 L1277.9,114.6 L1281.9,113.7 L1286.0,112.8 L1290.1,111.9 L1294.2,111.0 L1298.4,110.0 L1302.6,109.1 L1306.8,108.1 L1311.0,107.2 L1315.2,106.3 L1319.4,105.5 L1323.5,104.6 L1327.7,103.8 L1331.9,103.0 L1336.1,102.3 L1340.3,101.6 L1344.5,100.9 L1348.7,100.2 L1352.9,99.5 L1357.1,98.9 L1361.3,98.4 L1365.5,97.8 L1369.8,97.3 L1374.0,96.8 L1378.3,96.4 L1382.5,95.9 L1386.8,95.6 L1391.1,95.2 L1395.4,94.8 L1399.6,94.5 L1403.9,94.2 L1408.2,94.0 L1412.5,93.7 L1416.8,93.5 L1421.0,93.3 L1425.3,93.1 L1429.6,93.0 L1433.9,92.8 L1438.2,92.7 L1442.4,92.6 L1446.7,92.5 L1451.0,92.5 L1455.2,92.4 L1459.4,92.4 L1463.7,92.4 L1467.9,92.4 L1472.1,92.4 L1476.3,92.4 L1480.5,92.4 L1484.7,92.5 L1488.9,92.5 L1493.1,92.6 L1497.2,92.7 L1501.4,92.8 L1505.5,92.9 L1509.7,93.0 L1513.8,93.1 L1518.0,93.2 L1522.1,93.3 L1526.3,93.4 L1530.4,93.6 L1534.6,93.7 L1538.8,93.8 L1542.9,93.9 L1547.1,94.1 L1551.4,94.2 L1555.6,94.3 L1559.8,94.4 L1564.1,94.5 L1568.4,94.6 L1572.7,94.7 L1577.0,94.8 L1581.4,94.9 L1585.8,95.0 L1590.2,95.1 L1594.6,95.1 L1599.1,95.2 L1603.7,95.2 L1608.2,95.3 L1612.8,95.3 L1617.4,95.3 L1622.1,95.3 L1626.8,95.3 L1631.6,95.2 L1636.3,95.2 L1641.1,95.2 L1645.9,95.1 L1650.8,95.1 L1655.6,95.0 L1660.5,94.9 L1665.4,94.9 L1670.3,94.8 L1675.2,94.8 L1680.1,94.7 L1685.0,94.6 L1690.0,94.6 L1694.9,94.6 L1699.8,94.5 L1704.8,94.5 L1709.7,94.5 L1714.6,94.5 L1719.5,94.5 L1724.3,94.5 L1729.2,94.5 L1734.1,94.6 L1738.9,94.6 L1743.7,94.7 L1748.4,94.8 L1753.2,94.9 L1757.9,95.1 L1762.6,95.3 L1767.2,95.4 L1771.8,95.7 L1776.4,95.9"/>
<path class="c" stroke="#0000ff" d="M992.2,641.0 L992.9,636.9 L993.6,632.9 L994.2,629.1 L994.8,625.2 L995.3,621.5 L995.8,617.8 L996.3,614.2 L996.8,610.6 L997.2,607.1 L997.7,603.5 L998.1,600.0 L998.5,596.5 L998.9,592.9 L999.3,589.3 L999.7,585.7 L1000.1,582.1 L1000.5,578.4 L1000.9,574.6 L1001.3,570.7 L1001.7,566.8 L1002.2,562.8 L1002.7,558.6 L1003.1,554.4 L1003.7,550.0 L1004.2,545.5 L1004.7,540.9 L1005.3,536.3 L1005.9,531.5 L1006.5,526.7 L1007.1,521.8 L1007.8,516.8 L1008.5,511.8 L1009.2,506.7 L1009.9,501.6 L1010.7,496.4 L1011.4,491.1 L1012.2,485.8 L1013.1,480.5 L1013.9,475.2 L1014.8,469.8 L1015.6,464.5 L1016.5,459.1 L1017.5,453.6 L1018.4,448.2 L1019.4,442.8 L1020.3,437.4 L1021.3,431.9 L1022.3,426.5 L1023.4,421.1 L1024.4,415.7 L1025.4,410.3 L1026.5,404.9 L1027.6,399.6 L1028.7,394.3 L1029.8,389.0 L1030.9,383.8 L1032.0,378.6 L1033.1,373.4 L1034.2,368.3 L1035.4,363.3 L1036.5,358.3 L1037.7,353.3 L1038.8,348.4 L1040.0,343.6 L1041.2,338.9 L1042.3,334.2 L1043.5,329.6 L1044.7,325.1 L1045.9,320.7 L1047.1,316.4 L1048.3,312.1 L1049.5,307.9 L1050.7,303.7 L1052.0,299.6 L1053.3,295.6 L1054.6,291.6 L1055.9,287.6 L1057.2,283.7 L1058.6,279.9 L1060.1,276.1 L1061.5,272.3 L1063.0,268.5 L1064.5,264.8 L1066.1,261.1 L1067.7,257.5 L1069.3,253.9 L1071.0,250.3 L1072.7,246.8 L1074.5,243.3 L1076.3,239.8 L1078.1,236.4 L1079.9,233.0 L1081.8,229.6 L1083.7,226.3 L1085.7,223.0 L1087.7,219.7 L1089.7,216.5 L1091.8,213.3 L1093.9,210.1 L1096.0,207.0 L1098.2,203.9 L1100.4,200.9 L1102.7,197.8 L1105.0,194.8 L1107.3,191.9 L1109.7,189.0 L1112.1,186.1 L1114.6,183.4 L1117.1,180.6 L1119.7,178.0 L1122.3,175.4 L1125.0,173.0 L1127.8,170.6 L1130.5,168.3 L1133.4,166.1 L1136.2,163.9 L1139.2,161.9 L1142.1,160.0 L1145.0,158.1 L1148.0,156.4 L1151.0,154.7 L1154.0,153.1 L1157.0,151.7 L1160.0,150.3 L1163.0,149.0 L1166.0,147.8 L1168.9,146.7 L1171.8,145.7 L1174.7,144.8 L1177.6,144.0 L1180.4,143.3 L1183.2,142.7 L1185.9,142.2 L1188.6,141.8 L1191.3,141.4 L1194.1,141.0 L1196.9,140.6 L1199.8,140.1 L1202.9,139.6 L1206.1,139.0 L1209.4,138.3 L1212.8,137.6 L1216.3,136.9 L1219.8,136.1 L1223.4,135.4 L1227.0,134.6 L1230.6,133.8 L1234.2,133.1 L1237.7,132.5 L1241.2,131.8 L1244.7,131.3 L1248.1,130.8 L1251.4,130.3 L1254.8,129.9 L1258.2,129.5 L1261.6,129.0 L1265.0,128.6 L1268.4,128.1 L1271.9,127.7 L1275.5,127.2 L1279.1,126.6 L1282.8,126.0 L1286.5,125.4 L1290.2,124.8 L1293.9,124.2 L1297.7,123.6 L1301.4,123.0 L1305.2,122.3 L1308.9,121.7 L1312.6,121.1 L1316.2,120.5 L1319.9,119.9 L1323.6,119.4 L1327.2,118.8 L1331.0,118.3 L1334.8,117.8 L1338.7,117.3 L1342.7,116.8 L1346.8,116.3 L1351.1,115.9 L1355.5,115.4 L1360.1,115.0 L1364.9,114.5 L1369.9,114.1 L1374.9,113.7 L1380.2,113.3 L1385.5,113.0 L1390.9,112.6 L1396.4,112.3 L1402.0,112.0 L1407.7,111.7 L1413.3,111.4 L1419.0,111.2 L1424.8,111.0 L1430.5,110.8 L1436.1,110.6 L1441.8,110.5 L1447.4,110.4 L1453.0,110.3 L1458.5,110.3 L1464.0,110.2 L1469.5,110.2 L1474.9,110.2 L1480.4,110.3 L1485.8,110.3 L1491.2,110.4 L1496.5,110.4 L1501.9,110.5 L1507.3,110.6 L1512.6,110.7 L1518.0,110.8 L1523.3,111.0 L1528.7,111.1 L1534.1,111.2 L1539.5,111.3 L1544.9,111.4 L1550.3,111.5 L1555.7,111.6 L1561.1,111.7 L1566.5,111.8 L1571.9,111.9 L1577.4,112.0 L1582.8,112.1 L1588.2,112.2 L1593.7,112.3 L1599.1,112.3 L1604.6,112.4 L1610.0,112.4 L1615.4,112.4 L1620.9,112.4 L1626.3,112.5 L1631.8,112.5 L1637.2,112.4 L1642.7,112.4 L1648.1,112.4 L1653.5,112.4 L1659.0,112.3 L1664.4,112.3 L1669.8,112.3 L1675.2,112.2 L1680.6,112.1 L1686.0,112.1 L1691.4,112.0 L1696.8,112.0 L1702.2,111.9 L1707.6,111.9 L1712.9,111.8 L1718.3,111.8 L1723.6,111.7 L1729.0,111.7 L1734.3,111.6 L1739.6,111.6 L1744.9,111.5 L1750.2,111.5 L1755.5,111.5 L1760.7,111.5 L1766.0,111.5 L1771.2,111.5 L1776.4,111.5"/>
<path class="c" stroke="#0000ff" d="M992.2,641.0 L993.4,636.6 L994.5,632.3 L995.4,628.1 L996.4,624.0 L997.2,620.1 L998.0,616.2 L998.7,612.3 L999.4,608.6 L1000.0,604.8 L1000.5,601.1 L1001.1,597.4 L1001.6,593.7 L1002.1,589.9 L1002.6,586.1 L1003.0,582.3 L1003.5,578.3 L1004.0,574.3 L1004.5,570.2 L1005.0,566.0 L1005.5,561.6 L1006.1,557.1 L1006.6,552.4 L1007.3,547.6 L1007.9,542.7 L1008.6,537.7 L1009.3,532.5 L1010.0,527.3 L1010.8,522.0 L1011.6,516.6 L1012.4,511.1 L1013.2,505.6 L1014.0,500.0 L1014.9,494.4 L1015.8,488.8 L1016.7,483.1 L1017.6,477.4 L1018.5,471.7 L1019.5,466.0 L1020.4,460.2 L1021.4,454.5 L1022.4,448.8 L1023.4,443.0 L1024.4,437.3 L1025.5,431.6 L1026.6,425.9 L1027.7,420.1 L1028.8,414.5 L1029.9,408.8 L1031.1,403.1 L1032.2,397.5 L1033.4,391.9 L1034.7,386.4 L1035.9,380.8 L1037.2,375.3 L1038.4,369.9 L1039.8,364.5 L1041.1,359.1 L1042.4,353.8 L1043.8,348.6 L1045.2,343.4 L1046.7,338.3 L1048.1,333.2 L1049.6,328.2 L1051.1,323.3 L1052.6,318.4 L1054.2,313.6 L1055.8,308.9 L1057.4,304.3 L1059.0,299.8 L1060.7,295.4 L1062.4,291.0 L1064.1,286.8 L1065.9,282.6 L1067.7,278.6 L1069.5,274.7 L1071.3,270.8 L1073.2,267.1 L1075.2,263.4 L1077.2,259.8 L1079.4,256.3 L1081.6,252.9 L1083.8,249.5 L1086.3,246.1 L1088.8,242.8 L1091.4,239.5 L1094.2,236.2 L1097.1,233.0 L1100.1,229.7 L1103.1,226.5 L1106.3,223.4 L1109.4,220.2 L1112.6,217.1 L1115.8,214.0 L1118.9,210.9 L1122.1,207.8 L1125.2,204.8 L1128.2,201.8 L1131.2,198.8 L1134.2,195.9 L1137.1,193.0 L1140.1,190.3 L1143.0,187.6 L1146.0,185.1 L1149.0,182.8 L1152.1,180.5 L1155.2,178.5 L1158.4,176.6 L1161.6,174.9 L1164.8,173.4 L1168.1,171.9 L1171.3,170.6 L1174.5,169.4 L1177.7,168.2 L1180.7,167.1 L1183.7,166.1 L1186.5,165.1 L1189.3,164.0 L1192.1,163.0 L1194.8,161.9 L1197.6,160.8 L1200.6,159.7 L1203.6,158.5 L1206.8,157.2 L1210.0,155.9 L1213.4,154.5 L1216.9,153.1 L1220.5,151.7 L1224.1,150.3 L1227.8,148.9 L1231.5,147.5 L1235.3,146.2 L1239.1,144.9 L1242.9,143.6 L1246.7,142.4 L1250.5,141.2 L1254.3,140.1 L1258.1,139.0 L1262.0,137.9 L1265.8,136.9 L1269.7,136.0 L1273.6,135.0 L1277.4,134.1 L1281.3,133.3 L1285.2,132.4 L1289.1,131.6 L1293.1,130.8 L1297.0,130.1 L1300.9,129.4 L1304.9,128.7 L1308.8,128.0 L1312.8,127.3 L1316.8,126.7 L1320.8,126.1 L1324.8,125.4 L1328.8,124.9 L1332.8,124.3 L1336.8,123.7 L1340.9,123.1 L1344.9,122.6 L1349.0,122.0 L1353.1,121.5 L1357.2,121.0 L1361.3,120.4 L1365.4,119.9 L1369.5,119.4 L1373.6,118.9 L1377.7,118.4 L1381.9,117.9 L1386.0,117.3 L1390.1,116.9 L1394.3,116.4 L1398.5,115.9 L1402.6,115.4 L1406.8,114.9 L1410.9,114.5 L1415.1,114.0 L1419.2,113.6 L1423.4,113.2 L1427.6,112.7 L1431.7,112.3 L1435.9,111.9 L1440.0,111.5 L1444.2,111.2 L1448.3,110.8 L1452.4,110.4 L1456.6,110.1 L1460.7,109.8 L1464.8,109.5 L1468.9,109.2 L1473.0,108.9 L1477.1,108.6 L1481.1,108.4 L1485.2,108.1 L1489.2,107.9 L1493.3,107.7 L1497.3,107.5 L1501.3,107.3 L1505.3,107.1 L1509.4,107.0 L1513.4,106.8 L1517.4,106.6 L1521.4,106.5 L1525.4,106.3 L1529.4,106.2 L1533.5,106.1 L1537.5,105.9 L1541.5,105.8 L1545.6,105.6 L1549.7,105.5 L1553.8,105.3 L1557.9,105.2 L1562.0,105.0 L1566.1,104.8 L1570.3,104.7 L1574.4,104.5 L1578.6,104.3 L1582.9,104.0 L1587.1,103.8 L1591.4,103.6 L1595.7,103.3 L1600.1,103.0 L1604.5,102.7 L1608.9,102.4 L1613.3,102.0 L1617.8,101.7 L1622.3,101.3 L1626.9,100.9 L1631.5,100.4 L1636.1,100.0 L1640.7,99.5 L1645.4,99.1 L1650.1,98.6 L1654.8,98.1 L1659.5,97.6 L1664.2,97.2 L1669.0,96.7 L1673.7,96.2 L1678.5,95.7 L1683.2,95.2 L1688.0,94.7 L1692.8,94.3 L1697.6,93.8 L1702.3,93.3 L1707.1,92.9 L1711.8,92.5 L1716.6,92.1 L1721.3,91.7 L1726.0,91.3 L1730.8,90.9 L1735.4,90.6 L1740.1,90.3 L1744.7,90.0 L1749.4,89.8 L1753.9,89.6 L1758.5,89.4 L1763.0,89.2 L1767.5,89.1 L1772.0,89.0 L1776.4,89.0"/>
<path class="c" stroke="#0000ff" d="M992.2,641.0 L993.4,636.6 L994.6,632.3 L995.6,628.2 L996.6,624.2 L997.4,620.2 L998.2,616.3 L999.0,612.5 L999.7,608.8 L1000.3,605.0 L1000.9,601.3 L1001.4,597.6 L1002.0,593.9 L1002.5,590.1 L1002.9,586.3 L1003.4,582.4 L1003.9,578.5 L1004.3,574.5 L1004.8,570.4 L1005.3,566.2 L1005.9,561.8 L1006.4,557.3 L1007.1,552.7 L1007.7,547.9 L1008.4,543.0 L1009.0,538.0 L1009.8,532.9 L1010.5,527.7 L1011.3,522.4 L1012.1,517.0 L1012.9,511.5 L1013.7,506.0 L1014.6,500.5 L1015.5,494.9 L1016.3,489.3 L1017.2,483.6 L1018.2,478.0 L1019.1,472.3 L1020.0,466.6 L1021.0,460.9 L1021.9,455.2 L1022.9,449.5 L1023.9,443.7 L1024.9,438.0 L1026.0,432.3 L1027.0,426.6 L1028.1,420.9 L1029.2,415.2 L1030.3,409.6 L1031.5,403.9 L1032.6,398.3 L1033.8,392.7 L1035.0,387.2 L1036.3,381.7 L1037.5,376.2 L1038.8,370.7 L1040.1,365.3 L1041.4,360.0 L1042.8,354.7 L1044.2,349.4 L1045.6,344.3 L1047.0,339.1 L1048.5,334.1 L1050.0,329.1 L1051.5,324.1 L1053.1,319.3 L1054.7,314.5 L1056.3,309.8 L1058.0,305.2 L1059.6,300.6 L1061.4,296.2 L1063.1,291.8 L1064.9,287.6 L1066.7,283.4 L1068.6,279.4 L1070.5,275.4 L1072.5,271.6 L1074.4,267.8 L1076.5,264.2 L1078.6,260.6 L1080.8,257.1 L1083.0,253.7 L1085.3,250.3 L1087.7,247.1 L1090.2,243.9 L1092.8,240.7 L1095.5,237.6 L1098.3,234.6 L1101.2,231.5 L1104.1,228.6 L1107.1,225.6 L1110.1,222.7 L1113.2,219.8 L1116.3,216.9 L1119.4,214.1 L1122.5,211.2 L1125.6,208.3 L1128.7,205.4 L1131.8,202.6 L1134.8,199.8 L1137.9,197.0 L1140.9,194.4 L1144.0,191.8 L1147.0,189.3 L1150.1,187.0 L1153.1,184.8 L1156.2,182.8 L1159.2,181.0 L1162.3,179.3 L1165.4,177.8 L1168.4,176.4 L1171.5,175.1 L1174.5,173.9 L1177.5,172.7 L1180.4,171.7 L1183.3,170.6 L1186.2,169.6 L1189.1,168.6 L1192.0,167.6 L1195.0,166.5 L1198.0,165.5 L1201.2,164.3 L1204.5,163.1 L1208.0,161.8 L1211.5,160.5 L1215.2,159.2 L1218.9,157.8 L1222.7,156.4 L1226.5,155.0 L1230.3,153.6 L1234.0,152.3 L1237.7,150.9 L1241.4,149.7 L1244.9,148.5 L1248.4,147.4 L1251.8,146.3 L1255.2,145.2 L1258.5,144.2 L1261.7,143.3 L1264.9,142.4 L1268.0,141.5 L1271.1,140.7 L1274.1,139.8 L1277.2,139.0 L1280.3,138.2 L1283.5,137.4 L1286.9,136.5 L1290.3,135.6 L1294.0,134.6 L1298.0,133.6 L1302.1,132.5 L1306.4,131.3 L1310.9,130.1 L1315.6,128.9 L1320.3,127.6 L1325.2,126.3 L1330.1,125.0 L1335.0,123.8 L1339.9,122.5 L1344.8,121.3 L1349.6,120.1 L1354.4,119.0 L1359.0,117.9 L1363.5,116.9 L1368.0,115.9 L1372.3,115.0 L1376.6,114.1 L1380.8,113.3 L1384.9,112.5 L1389.0,111.7 L1393.0,111.0 L1397.0,110.3 L1400.9,109.6 L1404.9,108.9 L1408.8,108.2 L1412.7,107.6 L1416.5,106.9 L1420.4,106.3 L1424.3,105.7 L1428.3,105.0 L1432.2,104.4 L1436.2,103.7 L1440.2,103.0 L1444.3,102.3 L1448.4,101.6 L1452.5,100.8 L1456.7,100.1 L1460.8,99.3 L1465.0,98.6 L1469.2,97.8 L1473.4,97.1 L1477.6,96.4 L1481.8,95.7 L1485.9,95.0 L1490.0,94.3 L1494.1,93.6 L1498.2,93.0 L1502.2,92.4 L1506.3,91.8 L1510.3,91.2 L1514.3,90.7 L1518.3,90.2 L1522.3,89.7 L1526.3,89.2 L1530.3,88.7 L1534.3,88.3 L1538.3,87.9 L1542.3,87.5 L1546.3,87.1 L1550.4,86.8 L1554.4,86.4 L1558.4,86.1 L1562.5,85.9 L1566.6,85.6 L1570.7,85.4 L1574.8,85.2 L1578.9,85.0 L1583.1,84.9 L1587.3,84.8 L1591.6,84.7 L1595.8,84.6 L1600.1,84.6 L1604.5,84.6 L1608.9,84.6 L1613.3,84.6 L1617.8,84.7 L1622.3,84.8 L1626.8,84.9 L1631.4,85.1 L1636.1,85.3 L1640.7,85.4 L1645.4,85.6 L1650.1,85.9 L1654.8,86.1 L1659.5,86.4 L1664.3,86.6 L1669.1,86.9 L1673.8,87.2 L1678.6,87.5 L1683.4,87.8 L1688.2,88.1 L1693.0,88.5 L1697.8,88.8 L1702.6,89.1 L1707.4,89.4 L1712.2,89.8 L1716.9,90.1 L1721.7,90.4 L1726.4,90.7 L1731.1,91.0 L1735.8,91.3 L1740.4,91.6 L1745.1,91.9 L1749.7,92.2 L1754.2,92.4 L1758.7,92.7 L1763.2,92.9 L1767.7,93.1 L1772.1,93.3 L1776.4,93.5"/>
<path class="c" stroke="#0000ff" d="M992.2,641.0 L993.6,636.7 L994.9,632.5 L996.0,628.4 L997.1,624.3 L998.0,620.4 L998.8,616.5 L999.6,612.7 L1000.2,608.9 L1000.8,605.1 L1001.4,601.4 L1001.9,597.6 L1002.3,593.9 L1002.8,590.1 L1003.2,586.3 L1003.6,582.4 L1004.0,578.4 L1004.5,574.4 L1004.9,570.3 L1005.4,566.1 L1006.0,561.8 L1006.6,557.3 L1007.2,552.7 L1007.9,548.0 L1008.6,543.2 L1009.4,538.2 L1010.2,533.2 L1011.1,528.1 L1011.9,522.8 L1012.8,517.5 L1013.7,512.2 L1014.6,506.7 L1015.6,501.2 L1016.5,495.7 L1017.4,490.1 L1018.3,484.4 L1019.2,478.8 L1020.1,473.1 L1021.0,467.3 L1021.9,461.6 L1022.9,455.8 L1023.8,450.0 L1024.7,444.3 L1025.6,438.5 L1026.6,432.7 L1027.6,426.9 L1028.6,421.1 L1029.6,415.4 L1030.6,409.6 L1031.6,403.9 L1032.7,398.3 L1033.8,392.6 L1035.0,387.0 L1036.2,381.4 L1037.4,375.9 L1038.6,370.5 L1039.9,365.1 L1041.2,359.7 L1042.6,354.4 L1044.0,349.2 L1045.5,344.1 L1047.0,339.1 L1048.6,334.1 L1050.2,329.2 L1051.9,324.4 L1053.7,319.8 L1055.4,315.1 L1057.2,310.6 L1059.1,306.1 L1061.0,301.7 L1062.8,297.4 L1064.7,293.2 L1066.7,288.9 L1068.6,284.8 L1070.5,280.7 L1072.4,276.6 L1074.2,272.6 L1076.2,268.6 L1078.1,264.8 L1080.1,261.0 L1082.1,257.3 L1084.2,253.7 L1086.4,250.2 L1088.7,246.9 L1091.2,243.7 L1093.8,240.7 L1096.5,237.8 L1099.4,235.1 L1102.3,232.5 L1105.4,230.0 L1108.5,227.6 L1111.7,225.1 L1114.9,222.7 L1118.0,220.2 L1121.1,217.7 L1124.2,215.1 L1127.1,212.4 L1130.0,209.6 L1132.8,206.7 L1135.6,203.8 L1138.4,200.9 L1141.2,198.1 L1144.0,195.3 L1147.0,192.7 L1150.0,190.2 L1153.1,187.9 L1156.4,185.8 L1159.8,183.9 L1163.3,182.2 L1166.8,180.7 L1170.3,179.4 L1173.7,178.1 L1176.9,177.0 L1180.1,175.9 L1183.0,174.9 L1185.6,174.0 L1188.1,173.1 L1190.4,172.1 L1192.6,171.2 L1195.0,170.1 L1197.5,169.1 L1200.3,167.9 L1203.4,166.6 L1206.9,165.2 L1210.5,163.8 L1214.4,162.2 L1218.4,160.7 L1222.5,159.2 L1226.6,157.6 L1230.8,156.1 L1234.8,154.7 L1238.8,153.3 L1242.6,152.0 L1246.3,150.8 L1249.8,149.7 L1253.2,148.6 L1256.4,147.6 L1259.6,146.7 L1262.7,145.7 L1265.8,144.8 L1268.9,143.9 L1271.9,143.0 L1274.9,142.1 L1278.0,141.2 L1281.1,140.3 L1284.4,139.4 L1287.7,138.4 L1291.2,137.4 L1294.9,136.4 L1298.7,135.3 L1302.8,134.2 L1307.0,133.1 L1311.3,132.0 L1315.8,130.8 L1320.3,129.6 L1325.0,128.4 L1329.7,127.2 L1334.4,126.0 L1339.2,124.9 L1344.0,123.7 L1348.7,122.6 L1353.4,121.4 L1358.1,120.3 L1362.7,119.3 L1367.2,118.2 L1371.7,117.2 L1376.1,116.2 L1380.5,115.3 L1384.9,114.4 L1389.2,113.4 L1393.5,112.6 L1397.7,111.7 L1401.9,110.8 L1406.1,110.0 L1410.2,109.2 L1414.3,108.4 L1418.4,107.7 L1422.5,106.9 L1426.5,106.2 L1430.5,105.4 L1434.5,104.7 L1438.5,104.0 L1442.4,103.4 L1446.4,102.7 L1450.3,102.0 L1454.2,101.4 L1458.2,100.8 L1462.1,100.1 L1466.0,99.5 L1469.9,98.9 L1473.8,98.3 L1477.7,97.7 L1481.6,97.1 L1485.6,96.5 L1489.5,96.0 L1493.4,95.4 L1497.4,94.8 L1501.3,94.3 L1505.3,93.7 L1509.3,93.2 L1513.3,92.6 L1517.3,92.1 L1521.3,91.6 L1525.4,91.1 L1529.4,90.6 L1533.5,90.2 L1537.5,89.7 L1541.6,89.3 L1545.7,88.9 L1549.9,88.5 L1554.0,88.1 L1558.2,87.8 L1562.4,87.5 L1566.6,87.2 L1570.8,86.9 L1575.0,86.6 L1579.3,86.4 L1583.6,86.2 L1587.9,86.0 L1592.3,85.9 L1596.6,85.8 L1601.0,85.7 L1605.4,85.7 L1609.8,85.7 L1614.3,85.7 L1618.8,85.7 L1623.3,85.8 L1627.9,85.9 L1632.4,86.1 L1637.0,86.2 L1641.6,86.4 L1646.2,86.6 L1650.8,86.9 L1655.5,87.1 L1660.1,87.4 L1664.8,87.7 L1669.5,88.0 L1674.2,88.3 L1678.9,88.6 L1683.6,88.9 L1688.3,89.3 L1693.0,89.6 L1697.7,90.0 L1702.4,90.3 L1707.1,90.7 L1711.8,91.0 L1716.5,91.3 L1721.2,91.7 L1725.9,92.0 L1730.5,92.3 L1735.2,92.6 L1739.8,92.9 L1744.5,93.2 L1749.1,93.4 L1753.7,93.7 L1758.3,93.9 L1762.8,94.1 L1767.4,94.2 L1771.9,94.4 L1776.4,94.5"/>
<path class="c" stroke="#0000ff" d="M997.4,641.0 L998.3,636.8 L999.1,632.7 L999.8,628.8 L1000.5,624.9 L1001.2,621.1 L1001.8,617.4 L1002.4,613.7 L1002.9,610.1 L1003.4,606.6 L1003.9,603.0 L1004.4,599.5 L1004.9,595.9 L1005.4,592.4 L1005.8,588.8 L1006.3,585.2 L1006.8,581.5 L1007.2,577.8 L1007.7,573.9 L1008.3,570.0 L1008.8,566.0 L1009.4,561.9 L1010.0,557.7 L1010.6,553.3 L1011.3,548.8 L1012.0,544.2 L1012.8,539.5 L1013.6,534.7 L1014.3,529.9 L1015.1,524.9 L1016.0,519.9 L1016.8,514.8 L1017.6,509.6 L1018.5,504.4 L1019.3,499.1 L1020.2,493.8 L1021.1,488.5 L1021.9,483.1 L1022.8,477.8 L1023.6,472.4 L1024.5,466.9 L1025.3,461.5 L1026.2,456.1 L1027.1,450.6 L1027.9,445.2 L1028.8,439.7 L1029.7,434.3 L1030.6,428.8 L1031.6,423.4 L1032.5,418.0 L1033.5,412.6 L1034.5,407.2 L1035.5,401.8 L1036.6,396.5 L1037.6,391.1 L1038.7,385.8 L1039.8,380.6 L1041.0,375.4 L1042.2,370.2 L1043.4,365.0 L1044.7,359.9 L1046.0,354.9 L1047.3,349.9 L1048.7,345.0 L1050.1,340.1 L1051.6,335.3 L1053.1,330.5 L1054.7,325.8 L1056.3,321.2 L1057.9,316.7 L1059.6,312.2 L1061.4,307.8 L1063.2,303.5 L1065.0,299.3 L1066.9,295.1 L1068.8,291.1 L1070.8,287.1 L1072.8,283.3 L1074.8,279.5 L1076.9,275.9 L1079.0,272.3 L1081.1,268.9 L1083.3,265.5 L1085.5,262.2 L1087.8,259.0 L1090.0,255.9 L1092.3,252.9 L1094.7,249.9 L1097.0,246.9 L1099.4,244.0 L1101.8,241.2 L1104.2,238.4 L1106.6,235.6 L1109.1,232.9 L1111.5,230.2 L1114.0,227.5 L1116.5,224.9 L1118.9,222.2 L1121.4,219.6 L1123.9,216.9 L1126.4,214.3 L1129.0,211.6 L1131.5,209.0 L1134.1,206.4 L1136.7,203.8 L1139.3,201.3 L1142.1,198.9 L1144.9,196.6 L1147.8,194.4 L1150.8,192.4 L1153.9,190.5 L1157.1,188.7 L1160.4,187.1 L1163.8,185.7 L1167.1,184.4 L1170.4,183.2 L1173.7,182.0 L1176.8,181.0 L1179.8,180.0 L1182.6,179.1 L1185.2,178.3 L1187.5,177.5 L1189.8,176.6 L1191.9,175.8 L1194.2,175.0 L1196.6,174.1 L1199.2,173.1 L1202.1,172.1 L1205.3,171.0 L1208.8,169.8 L1212.5,168.6 L1216.3,167.4 L1220.2,166.1 L1224.1,164.9 L1228.1,163.7 L1231.9,162.5 L1235.6,161.4 L1239.2,160.3 L1242.5,159.3 L1245.7,158.4 L1248.7,157.5 L1251.7,156.7 L1254.6,155.9 L1257.7,155.1 L1260.8,154.3 L1264.2,153.4 L1267.8,152.5 L1271.7,151.6 L1276.0,150.6 L1280.6,149.5 L1285.4,148.4 L1290.5,147.3 L1295.8,146.1 L1301.4,144.9 L1307.0,143.6 L1312.9,142.4 L1318.8,141.2 L1324.8,140.0 L1330.9,138.8 L1337.0,137.6 L1343.1,136.5 L1349.2,135.4 L1355.2,134.3 L1361.1,133.3 L1366.9,132.4 L1372.7,131.5 L1378.4,130.7 L1383.9,129.9 L1389.4,129.2 L1394.8,128.5 L1400.2,127.8 L1405.4,127.2 L1410.5,126.6 L1415.6,126.0 L1420.6,125.5 L1425.5,125.0 L1430.3,124.5 L1435.1,124.0 L1439.8,123.5 L1444.3,123.1 L1448.9,122.6 L1453.3,122.2 L1457.6,121.7 L1461.9,121.3 L1466.1,120.8 L1470.2,120.3 L1474.3,119.8 L1478.3,119.4 L1482.2,118.8 L1486.0,118.3 L1489.7,117.7 L1493.4,117.2 L1497.1,116.6 L1500.7,116.0 L1504.3,115.3 L1507.9,114.7 L1511.4,114.1 L1515.0,113.5 L1518.5,112.9 L1522.1,112.3 L1525.8,111.7 L1529.4,111.1 L1533.1,110.6 L1536.9,110.0 L1540.6,109.5 L1544.5,109.0 L1548.3,108.5 L1552.2,108.0 L1556.1,107.6 L1560.0,107.1 L1564.0,106.7 L1568.0,106.3 L1572.0,105.9 L1576.1,105.5 L1580.1,105.1 L1584.2,104.7 L1588.4,104.4 L1592.5,104.1 L1596.7,103.7 L1600.9,103.4 L1605.1,103.1 L1609.4,102.9 L1613.6,102.6 L1617.9,102.4 L1622.2,102.1 L1626.5,101.9 L1630.8,101.7 L1635.2,101.5 L1639.5,101.3 L1643.9,101.2 L1648.3,101.0 L1652.7,100.9 L1657.1,100.7 L1661.5,100.6 L1665.9,100.5 L1670.3,100.4 L1674.8,100.3 L1679.2,100.3 L1683.6,100.2 L1688.1,100.2 L1692.5,100.1 L1697.0,100.1 L1701.4,100.1 L1705.9,100.1 L1710.4,100.1 L1714.8,100.2 L1719.2,100.2 L1723.7,100.3 L1728.1,100.3 L1732.6,100.4 L1737.0,100.5 L1741.4,100.6 L1745.8,100.7 L1750.2,100.8 L1754.6,100.9 L1759.0,101.1 L1763.4,101.2 L1767.7,101.4 L1772.1,101.5 L1776.4,101.7"/>
</g>
<path class="ax" d="M73.5,10.3 L73.5,640.0 L870.0,640.0 M73.5,640.0 L73.5,631.7 M206.2,640.0 L206.2,631.7 M339.0,640.0 L339.0,631.7 M471.8,640.0 L471.8,631.7 M604.5,640.0 L604.5,631.7 M737.2,640.0 L737.2,631.7 M870.0,640.0 L870.0,631.7 M73.5,640.0 L81.8,640.0 M73.5,482.6 L81.8,482.6 M73.5,325.1 L81.8,325.1 M73.5,167.7 L81.8,167.7 M73.5,10.3 L81.8,10.3"/>
<text class="tk" style="font-size:24.2px" x="73.5" y="675.2" text-anchor="middle">0</text>
<text class="tk" style="font-size:24.2px" x="206.2" y="675.2" text-anchor="middle">0.1</text>
<text class="tk" style="font-size:24.2px" x="339.0" y="675.2" text-anchor="middle">0.2</text>
<text class="tk" style="font-size:24.2px" x="471.8" y="675.2" text-anchor="middle">0.3</text>
<text class="tk" style="font-size:24.2px" x="604.5" y="675.2" text-anchor="middle">0.4</text>
<text class="tk" style="font-size:24.2px" x="737.2" y="675.2" text-anchor="middle">0.5</text>
<text class="tk" style="font-size:24.2px" x="870.0" y="675.2" text-anchor="middle">0.6</text>
<text class="tk" style="font-size:24.2px" x="62.5" y="649.7" text-anchor="end">0</text>
<text class="tk" style="font-size:24.2px" x="62.5" y="492.3" text-anchor="end">15</text>
<text class="tk" style="font-size:24.2px" x="62.5" y="334.8" text-anchor="end">30</text>
<text class="tk" style="font-size:24.2px" x="62.5" y="177.4" text-anchor="end">45</text>
<text class="tk" style="font-size:24.2px" x="62.5" y="20.0" text-anchor="end">60</text>
<text class="lb" style="font-size:27.0px" x="471.5" y="710.8" text-anchor="middle">Normal Separation w [mm]</text>
<text class="lb" style="font-size:27.0px" transform="translate(22,325.5) rotate(-90)" text-anchor="middle">Reaction Force F [N]</text>
<path class="ax" d="M992.2,21.0 L992.2,641.0 L1776.4,641.0 M992.2,641.0 L992.2,632.7 M1122.9,641.0 L1122.9,632.7 M1253.6,641.0 L1253.6,632.7 M1384.3,641.0 L1384.3,632.7 M1515.0,641.0 L1515.0,632.7 M1645.7,641.0 L1645.7,632.7 M1776.4,641.0 L1776.4,632.7 M992.2,641.0 L1000.5,641.0 M992.2,486.0 L1000.5,486.0 M992.2,331.0 L1000.5,331.0 M992.2,176.0 L1000.5,176.0 M992.2,21.0 L1000.5,21.0"/>
<text class="tk" style="font-size:23.8px" x="992.2" y="675.7" text-anchor="middle">0</text>
<text class="tk" style="font-size:23.8px" x="1122.9" y="675.7" text-anchor="middle">0.1</text>
<text class="tk" style="font-size:23.8px" x="1253.6" y="675.7" text-anchor="middle">0.2</text>
<text class="tk" style="font-size:23.8px" x="1384.3" y="675.7" text-anchor="middle">0.3</text>
<text class="tk" style="font-size:23.8px" x="1515.0" y="675.7" text-anchor="middle">0.4</text>
<text class="tk" style="font-size:23.8px" x="1645.7" y="675.7" text-anchor="middle">0.5</text>
<text class="tk" style="font-size:23.8px" x="1776.4" y="675.7" text-anchor="middle">0.6</text>
<text class="tk" style="font-size:23.8px" x="981.0" y="650.7" text-anchor="end">0</text>
<text class="tk" style="font-size:23.8px" x="981.0" y="495.7" text-anchor="end">75</text>
<text class="tk" style="font-size:23.8px" x="981.0" y="340.7" text-anchor="end">150</text>
<text class="tk" style="font-size:23.8px" x="981.0" y="185.7" text-anchor="end">225</text>
<text class="tk" style="font-size:23.8px" x="981.0" y="30.7" text-anchor="end">300</text>
<text class="lb" style="font-size:26.6px" x="1383.5" y="710.8" text-anchor="middle">Shear Separation v [mm]</text>
<text class="lb" style="font-size:26.6px" transform="translate(928.5,331.4) rotate(-90)" text-anchor="middle">Reaction Force F [N]</text>
<rect x="621.7" y="498.3" width="228.6" height="122.4" fill="#fff" stroke="#262626" stroke-width="1.2"/>
<line x1="629" y1="516" x2="702.8" y2="516" stroke="#000000" stroke-width="1.3"/>
<text class="lg" style="font-size:21.9px" x="708.0" y="524.2">Paperboard 1</text>
<line x1="629" y1="545.1" x2="702.8" y2="545.1" stroke="#00ff00" stroke-width="1.3"/>
<text class="lg" style="font-size:21.9px" x="708.0" y="553.3">Paperboard 2</text>
<line x1="629" y1="574" x2="702.8" y2="574" stroke="#ff0000" stroke-width="1.3"/>
<text class="lg" style="font-size:21.9px" x="708.0" y="582.2">Paperboard 3</text>
<line x1="629" y1="603.2" x2="702.8" y2="603.2" stroke="#0000ff" stroke-width="1.3"/>
<text class="lg" style="font-size:21.9px" x="708.0" y="611.4">Paperboard 4</text>
<rect x="1531.8" y="501.6" width="224.8" height="120.7" fill="#fff" stroke="#262626" stroke-width="1.2"/>
<line x1="1538.8" y1="519" x2="1611.4" y2="519" stroke="#000000" stroke-width="1.3"/>
<text class="lg" style="font-size:21.6px" x="1616.8" y="527.2">Paperboard 1</text>
<line x1="1538.8" y1="547.6" x2="1611.4" y2="547.6" stroke="#00ff00" stroke-width="1.3"/>
<text class="lg" style="font-size:21.6px" x="1616.8" y="555.8">Paperboard 2</text>
<line x1="1538.8" y1="576.4" x2="1611.4" y2="576.4" stroke="#ff0000" stroke-width="1.3"/>
<text class="lg" style="font-size:21.6px" x="1616.8" y="584.6">Paperboard 3</text>
<line x1="1538.8" y1="604.8" x2="1611.4" y2="604.8" stroke="#0000ff" stroke-width="1.3"/>
<text class="lg" style="font-size:21.6px" x="1616.8" y="613.0">Paperboard 4</text>
<text class="cap" y="781.3"><tspan class="pn" x="450.0" textLength="13.05" lengthAdjust="spacingAndGlyphs">(</tspan><tspan x="465.0" dy="-1" textLength="21.38" lengthAdjust="spacingAndGlyphs">a</tspan><tspan class="pn" x="487.0" dy="1" textLength="13.05" lengthAdjust="spacingAndGlyphs">)</tspan></text>
<text class="cap" y="781.3"><tspan class="pn" x="1128.7" textLength="13.05" lengthAdjust="spacingAndGlyphs">(</tspan><tspan x="1144.6" dy="-1" textLength="22.14" lengthAdjust="spacingAndGlyphs">b</tspan><tspan class="pn" x="1167.8" dy="1" textLength="13.05" lengthAdjust="spacingAndGlyphs">)</tspan></text>
</svg></body></html>
